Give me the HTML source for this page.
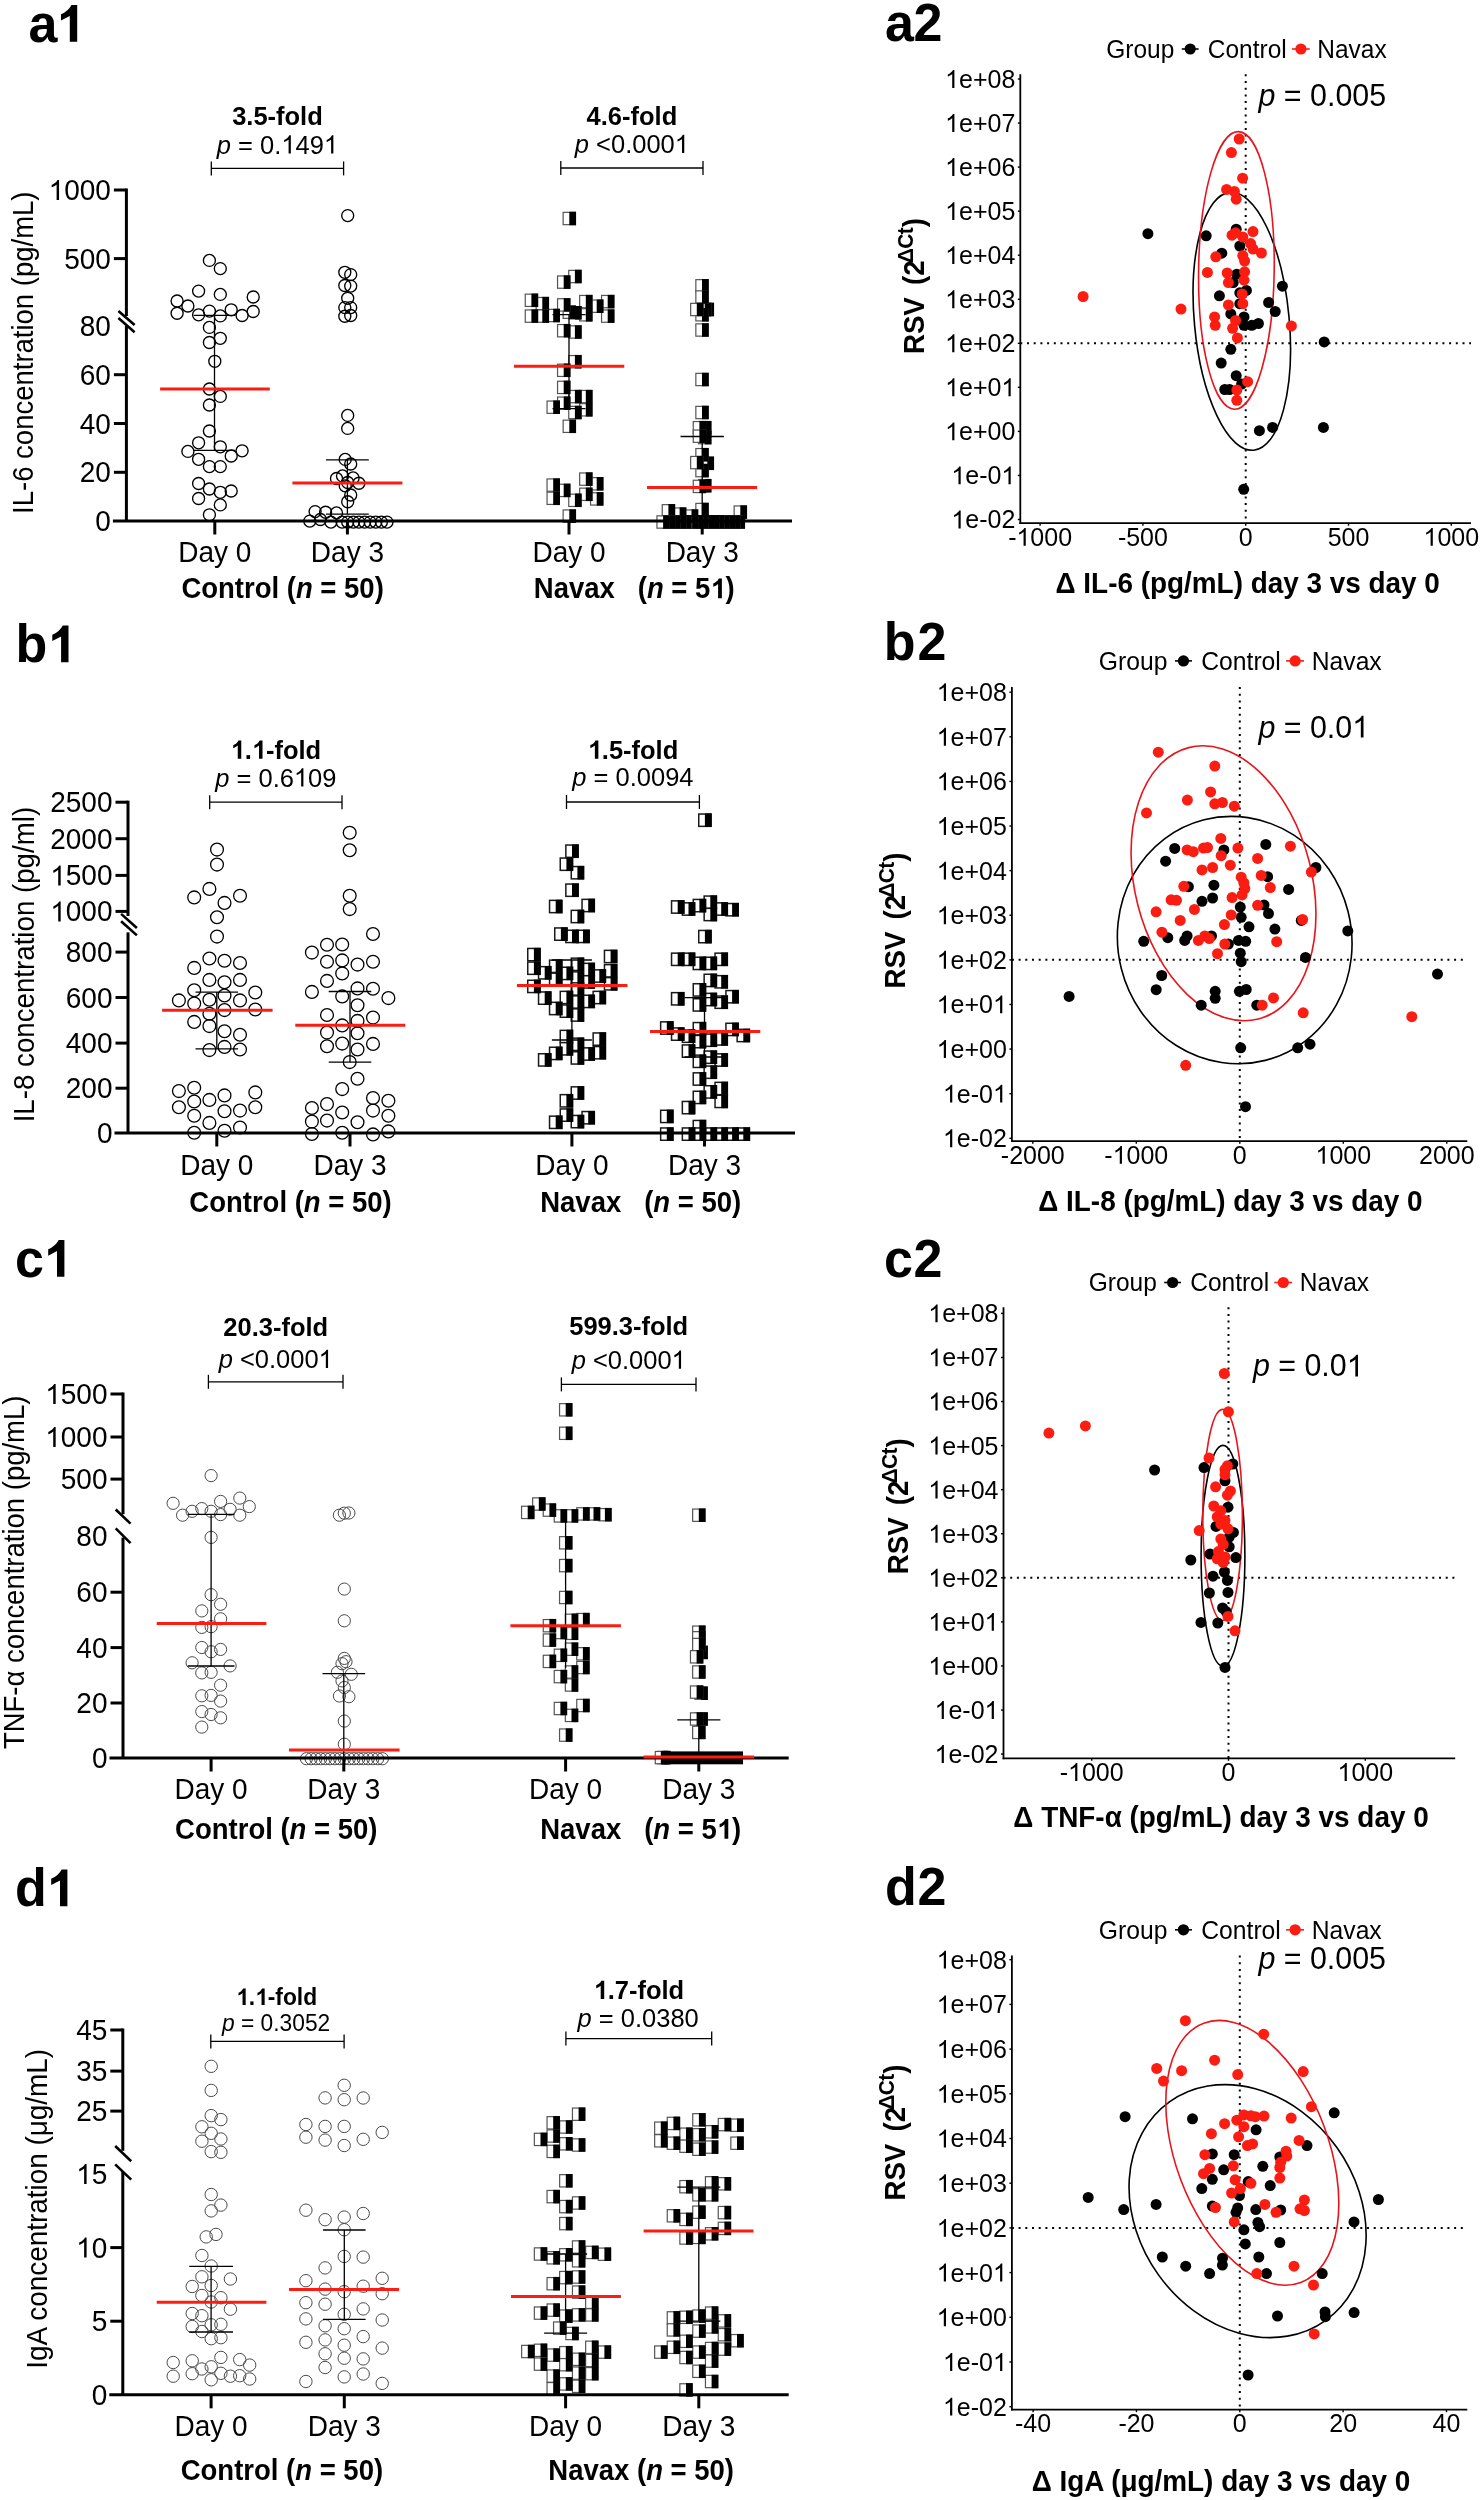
<!DOCTYPE html>
<html><head><meta charset="utf-8"><style>
html,body{margin:0;padding:0;background:#fff;}
svg{display:block;will-change:transform;}
text{font-family:"Liberation Sans", sans-serif;fill:#000;}
</style></head><body>
<svg width="1482" height="2500" viewBox="0 0 1482 2500">
<rect width="1482" height="2500" fill="#fff"/>
<g transform="translate(28.50,41.70) scale(1,1.04)"><text x="0" y="0" font-size="52" font-weight="bold" text-anchor="start"  >a</text></g>
<path d="M10.8,-36.8 H16.5 V0 H9.1 V-25.8 L0.3,-21.1 V-27.5 Q7.5,-30.5 10.8,-36.8 Z" transform="translate(60.7,41.7)" fill="#000"/>
<circle cx="209.4" cy="260.4" r="6.0" fill="none" stroke="#000" stroke-width="1.35"/>
<circle cx="220.3" cy="268.6" r="6.0" fill="none" stroke="#000" stroke-width="1.35"/>
<circle cx="198.6" cy="291.1" r="6.0" fill="none" stroke="#000" stroke-width="1.35"/>
<circle cx="220.3" cy="294.4" r="6.0" fill="none" stroke="#000" stroke-width="1.35"/>
<circle cx="253.2" cy="297.0" r="6.0" fill="none" stroke="#000" stroke-width="1.35"/>
<circle cx="177.1" cy="301.0" r="6.0" fill="none" stroke="#000" stroke-width="1.35"/>
<circle cx="187.9" cy="306.0" r="6.0" fill="none" stroke="#000" stroke-width="1.35"/>
<circle cx="177.1" cy="313.2" r="6.0" fill="none" stroke="#000" stroke-width="1.35"/>
<circle cx="198.6" cy="314.8" r="6.0" fill="none" stroke="#000" stroke-width="1.35"/>
<circle cx="209.4" cy="311.1" r="6.0" fill="none" stroke="#000" stroke-width="1.35"/>
<circle cx="220.3" cy="315.9" r="6.0" fill="none" stroke="#000" stroke-width="1.35"/>
<circle cx="231.2" cy="309.8" r="6.0" fill="none" stroke="#000" stroke-width="1.35"/>
<circle cx="242.1" cy="315.5" r="6.0" fill="none" stroke="#000" stroke-width="1.35"/>
<circle cx="253.2" cy="311.5" r="6.0" fill="none" stroke="#000" stroke-width="1.35"/>
<circle cx="209.4" cy="327.4" r="6.0" fill="none" stroke="#000" stroke-width="1.35"/>
<circle cx="220.3" cy="338.3" r="6.0" fill="none" stroke="#000" stroke-width="1.35"/>
<circle cx="209.4" cy="342.5" r="6.0" fill="none" stroke="#000" stroke-width="1.35"/>
<circle cx="214.8" cy="361.3" r="6.0" fill="none" stroke="#000" stroke-width="1.35"/>
<circle cx="209.4" cy="389.0" r="6.0" fill="none" stroke="#000" stroke-width="1.35"/>
<circle cx="220.3" cy="396.4" r="6.0" fill="none" stroke="#000" stroke-width="1.35"/>
<circle cx="209.4" cy="405.0" r="6.0" fill="none" stroke="#000" stroke-width="1.35"/>
<circle cx="209.4" cy="431.0" r="6.0" fill="none" stroke="#000" stroke-width="1.35"/>
<circle cx="198.6" cy="442.8" r="6.0" fill="none" stroke="#000" stroke-width="1.35"/>
<circle cx="187.9" cy="451.4" r="6.0" fill="none" stroke="#000" stroke-width="1.35"/>
<circle cx="220.3" cy="446.8" r="6.0" fill="none" stroke="#000" stroke-width="1.35"/>
<circle cx="242.1" cy="450.8" r="6.0" fill="none" stroke="#000" stroke-width="1.35"/>
<circle cx="198.6" cy="459.3" r="6.0" fill="none" stroke="#000" stroke-width="1.35"/>
<circle cx="231.2" cy="456.0" r="6.0" fill="none" stroke="#000" stroke-width="1.35"/>
<circle cx="209.4" cy="466.6" r="6.0" fill="none" stroke="#000" stroke-width="1.35"/>
<circle cx="220.3" cy="466.6" r="6.0" fill="none" stroke="#000" stroke-width="1.35"/>
<circle cx="198.6" cy="483.5" r="6.0" fill="none" stroke="#000" stroke-width="1.35"/>
<circle cx="209.4" cy="489.0" r="6.0" fill="none" stroke="#000" stroke-width="1.35"/>
<circle cx="220.3" cy="492.3" r="6.0" fill="none" stroke="#000" stroke-width="1.35"/>
<circle cx="231.2" cy="491.0" r="6.0" fill="none" stroke="#000" stroke-width="1.35"/>
<circle cx="198.6" cy="498.5" r="6.0" fill="none" stroke="#000" stroke-width="1.35"/>
<circle cx="220.3" cy="504.9" r="6.0" fill="none" stroke="#000" stroke-width="1.35"/>
<circle cx="209.4" cy="514.8" r="6.0" fill="none" stroke="#000" stroke-width="1.35"/>
<circle cx="347.7" cy="215.6" r="6.0" fill="none" stroke="#000" stroke-width="1.35"/>
<circle cx="344.8" cy="272.3" r="6.0" fill="none" stroke="#000" stroke-width="1.35"/>
<circle cx="350.7" cy="274.6" r="6.0" fill="none" stroke="#000" stroke-width="1.35"/>
<circle cx="344.8" cy="285.5" r="6.0" fill="none" stroke="#000" stroke-width="1.35"/>
<circle cx="350.7" cy="286.1" r="6.0" fill="none" stroke="#000" stroke-width="1.35"/>
<circle cx="347.7" cy="298.3" r="6.0" fill="none" stroke="#000" stroke-width="1.35"/>
<circle cx="344.8" cy="307.6" r="6.0" fill="none" stroke="#000" stroke-width="1.35"/>
<circle cx="350.7" cy="307.6" r="6.0" fill="none" stroke="#000" stroke-width="1.35"/>
<circle cx="344.8" cy="316.2" r="6.0" fill="none" stroke="#000" stroke-width="1.35"/>
<circle cx="350.7" cy="315.5" r="6.0" fill="none" stroke="#000" stroke-width="1.35"/>
<circle cx="347.7" cy="415.4" r="6.0" fill="none" stroke="#000" stroke-width="1.35"/>
<circle cx="347.7" cy="428.4" r="6.0" fill="none" stroke="#000" stroke-width="1.35"/>
<circle cx="345.2" cy="459.4" r="6.0" fill="none" stroke="#000" stroke-width="1.35"/>
<circle cx="350.7" cy="464.0" r="6.0" fill="none" stroke="#000" stroke-width="1.35"/>
<circle cx="342.5" cy="475.9" r="6.0" fill="none" stroke="#000" stroke-width="1.35"/>
<circle cx="336.5" cy="478.5" r="6.0" fill="none" stroke="#000" stroke-width="1.35"/>
<circle cx="353.1" cy="477.9" r="6.0" fill="none" stroke="#000" stroke-width="1.35"/>
<circle cx="358.9" cy="483.2" r="6.0" fill="none" stroke="#000" stroke-width="1.35"/>
<circle cx="347.7" cy="482.5" r="6.0" fill="none" stroke="#000" stroke-width="1.35"/>
<circle cx="345.2" cy="485.8" r="6.0" fill="none" stroke="#000" stroke-width="1.35"/>
<circle cx="350.7" cy="495.0" r="6.0" fill="none" stroke="#000" stroke-width="1.35"/>
<circle cx="347.7" cy="501.7" r="6.0" fill="none" stroke="#000" stroke-width="1.35"/>
<circle cx="315.1" cy="511.6" r="6.0" fill="none" stroke="#000" stroke-width="1.35"/>
<circle cx="325.6" cy="512.2" r="6.0" fill="none" stroke="#000" stroke-width="1.35"/>
<circle cx="336.5" cy="512.9" r="6.0" fill="none" stroke="#000" stroke-width="1.35"/>
<circle cx="309.8" cy="521.1" r="6.0" fill="none" stroke="#000" stroke-width="1.35"/>
<circle cx="320.4" cy="519.5" r="6.0" fill="none" stroke="#000" stroke-width="1.35"/>
<circle cx="330.9" cy="522.1" r="6.0" fill="none" stroke="#000" stroke-width="1.35"/>
<circle cx="342.1" cy="522.1" r="6.0" fill="none" stroke="#000" stroke-width="1.35"/>
<circle cx="347.7" cy="522.1" r="6.0" fill="none" stroke="#000" stroke-width="1.35"/>
<circle cx="353.4" cy="522.1" r="6.0" fill="none" stroke="#000" stroke-width="1.35"/>
<circle cx="358.9" cy="522.1" r="6.0" fill="none" stroke="#000" stroke-width="1.35"/>
<circle cx="364.6" cy="522.1" r="6.0" fill="none" stroke="#000" stroke-width="1.35"/>
<circle cx="370.1" cy="522.1" r="6.0" fill="none" stroke="#000" stroke-width="1.35"/>
<circle cx="375.8" cy="522.1" r="6.0" fill="none" stroke="#000" stroke-width="1.35"/>
<circle cx="381.4" cy="522.1" r="6.0" fill="none" stroke="#000" stroke-width="1.35"/>
<circle cx="387.0" cy="522.1" r="6.0" fill="none" stroke="#000" stroke-width="1.35"/>
<g transform="translate(607.7,301.6)"><rect x="-6.15" y="-6.15" width="12.3" height="12.3" fill="#fff" stroke="#555" stroke-width="1.2"/><rect x="0" y="-6.75" width="6.75" height="13.5" fill="#000"/></g>
<g transform="translate(607.7,316.1)"><rect x="-6.15" y="-6.15" width="12.3" height="12.3" fill="#fff" stroke="#555" stroke-width="1.2"/><rect x="0" y="-6.75" width="6.75" height="13.5" fill="#000"/></g>
<g transform="translate(596.7,306.2)"><rect x="-6.15" y="-6.15" width="12.3" height="12.3" fill="#fff" stroke="#555" stroke-width="1.2"/><rect x="0" y="-6.75" width="6.75" height="13.5" fill="#000"/></g>
<g transform="translate(596.7,483.8)"><rect x="-6.15" y="-6.15" width="12.3" height="12.3" fill="#fff" stroke="#555" stroke-width="1.2"/><rect x="0" y="-6.75" width="6.75" height="13.5" fill="#000"/></g>
<g transform="translate(596.7,498.9)"><rect x="-6.15" y="-6.15" width="12.3" height="12.3" fill="#fff" stroke="#555" stroke-width="1.2"/><rect x="0" y="-6.75" width="6.75" height="13.5" fill="#000"/></g>
<g transform="translate(585.8,301.6)"><rect x="-6.15" y="-6.15" width="12.3" height="12.3" fill="#fff" stroke="#555" stroke-width="1.2"/><rect x="0" y="-6.75" width="6.75" height="13.5" fill="#000"/></g>
<g transform="translate(585.8,314.8)"><rect x="-6.15" y="-6.15" width="12.3" height="12.3" fill="#fff" stroke="#555" stroke-width="1.2"/><rect x="0" y="-6.75" width="6.75" height="13.5" fill="#000"/></g>
<g transform="translate(585.8,396.6)"><rect x="-6.15" y="-6.15" width="12.3" height="12.3" fill="#fff" stroke="#555" stroke-width="1.2"/><rect x="0" y="-6.75" width="6.75" height="13.5" fill="#000"/></g>
<g transform="translate(585.8,409.8)"><rect x="-6.15" y="-6.15" width="12.3" height="12.3" fill="#fff" stroke="#555" stroke-width="1.2"/><rect x="0" y="-6.75" width="6.75" height="13.5" fill="#000"/></g>
<g transform="translate(585.8,479.1)"><rect x="-6.15" y="-6.15" width="12.3" height="12.3" fill="#fff" stroke="#555" stroke-width="1.2"/><rect x="0" y="-6.75" width="6.75" height="13.5" fill="#000"/></g>
<g transform="translate(585.8,494.3)"><rect x="-6.15" y="-6.15" width="12.3" height="12.3" fill="#fff" stroke="#555" stroke-width="1.2"/><rect x="0" y="-6.75" width="6.75" height="13.5" fill="#000"/></g>
<g transform="translate(574.9,276.5)"><rect x="-6.15" y="-6.15" width="12.3" height="12.3" fill="#fff" stroke="#555" stroke-width="1.2"/><rect x="0" y="-6.75" width="6.75" height="13.5" fill="#000"/></g>
<g transform="translate(574.9,312.8)"><rect x="-6.15" y="-6.15" width="12.3" height="12.3" fill="#fff" stroke="#555" stroke-width="1.2"/><rect x="0" y="-6.75" width="6.75" height="13.5" fill="#000"/></g>
<g transform="translate(574.9,332.0)"><rect x="-6.15" y="-6.15" width="12.3" height="12.3" fill="#fff" stroke="#555" stroke-width="1.2"/><rect x="0" y="-6.75" width="6.75" height="13.5" fill="#000"/></g>
<g transform="translate(574.9,361.7)"><rect x="-6.15" y="-6.15" width="12.3" height="12.3" fill="#fff" stroke="#555" stroke-width="1.2"/><rect x="0" y="-6.75" width="6.75" height="13.5" fill="#000"/></g>
<g transform="translate(574.9,396.6)"><rect x="-6.15" y="-6.15" width="12.3" height="12.3" fill="#fff" stroke="#555" stroke-width="1.2"/><rect x="0" y="-6.75" width="6.75" height="13.5" fill="#000"/></g>
<g transform="translate(574.9,412.5)"><rect x="-6.15" y="-6.15" width="12.3" height="12.3" fill="#fff" stroke="#555" stroke-width="1.2"/><rect x="0" y="-6.75" width="6.75" height="13.5" fill="#000"/></g>
<g transform="translate(574.9,500.3)"><rect x="-6.15" y="-6.15" width="12.3" height="12.3" fill="#fff" stroke="#555" stroke-width="1.2"/><rect x="0" y="-6.75" width="6.75" height="13.5" fill="#000"/></g>
<g transform="translate(569.3,218.5)"><rect x="-6.15" y="-6.15" width="12.3" height="12.3" fill="#fff" stroke="#555" stroke-width="1.2"/><rect x="0" y="-6.75" width="6.75" height="13.5" fill="#000"/></g>
<g transform="translate(569.3,312.2)"><rect x="-6.15" y="-6.15" width="12.3" height="12.3" fill="#fff" stroke="#555" stroke-width="1.2"/><rect x="0" y="-6.75" width="6.75" height="13.5" fill="#000"/></g>
<g transform="translate(569.3,426.3)"><rect x="-6.15" y="-6.15" width="12.3" height="12.3" fill="#fff" stroke="#555" stroke-width="1.2"/><rect x="0" y="-6.75" width="6.75" height="13.5" fill="#000"/></g>
<g transform="translate(569.3,516.1)"><rect x="-6.15" y="-6.15" width="12.3" height="12.3" fill="#fff" stroke="#555" stroke-width="1.2"/><rect x="0" y="-6.75" width="6.75" height="13.5" fill="#000"/></g>
<g transform="translate(563.7,282.1)"><rect x="-6.15" y="-6.15" width="12.3" height="12.3" fill="#fff" stroke="#555" stroke-width="1.2"/><rect x="0" y="-6.75" width="6.75" height="13.5" fill="#000"/></g>
<g transform="translate(563.7,304.9)"><rect x="-6.15" y="-6.15" width="12.3" height="12.3" fill="#fff" stroke="#555" stroke-width="1.2"/><rect x="0" y="-6.75" width="6.75" height="13.5" fill="#000"/></g>
<g transform="translate(563.7,330.7)"><rect x="-6.15" y="-6.15" width="12.3" height="12.3" fill="#fff" stroke="#555" stroke-width="1.2"/><rect x="0" y="-6.75" width="6.75" height="13.5" fill="#000"/></g>
<g transform="translate(563.7,370.3)"><rect x="-6.15" y="-6.15" width="12.3" height="12.3" fill="#fff" stroke="#555" stroke-width="1.2"/><rect x="0" y="-6.75" width="6.75" height="13.5" fill="#000"/></g>
<g transform="translate(563.7,387.4)"><rect x="-6.15" y="-6.15" width="12.3" height="12.3" fill="#fff" stroke="#555" stroke-width="1.2"/><rect x="0" y="-6.75" width="6.75" height="13.5" fill="#000"/></g>
<g transform="translate(563.7,403.2)"><rect x="-6.15" y="-6.15" width="12.3" height="12.3" fill="#fff" stroke="#555" stroke-width="1.2"/><rect x="0" y="-6.75" width="6.75" height="13.5" fill="#000"/></g>
<g transform="translate(563.7,490.4)"><rect x="-6.15" y="-6.15" width="12.3" height="12.3" fill="#fff" stroke="#555" stroke-width="1.2"/><rect x="0" y="-6.75" width="6.75" height="13.5" fill="#000"/></g>
<g transform="translate(553.2,315.5)"><rect x="-6.15" y="-6.15" width="12.3" height="12.3" fill="#fff" stroke="#555" stroke-width="1.2"/><rect x="0" y="-6.75" width="6.75" height="13.5" fill="#000"/></g>
<g transform="translate(553.2,407.2)"><rect x="-6.15" y="-6.15" width="12.3" height="12.3" fill="#fff" stroke="#555" stroke-width="1.2"/><rect x="0" y="-6.75" width="6.75" height="13.5" fill="#000"/></g>
<g transform="translate(553.2,485.1)"><rect x="-6.15" y="-6.15" width="12.3" height="12.3" fill="#fff" stroke="#555" stroke-width="1.2"/><rect x="0" y="-6.75" width="6.75" height="13.5" fill="#000"/></g>
<g transform="translate(553.2,498.3)"><rect x="-6.15" y="-6.15" width="12.3" height="12.3" fill="#fff" stroke="#555" stroke-width="1.2"/><rect x="0" y="-6.75" width="6.75" height="13.5" fill="#000"/></g>
<g transform="translate(542.3,303.6)"><rect x="-6.15" y="-6.15" width="12.3" height="12.3" fill="#fff" stroke="#555" stroke-width="1.2"/><rect x="0" y="-6.75" width="6.75" height="13.5" fill="#000"/></g>
<g transform="translate(542.3,316.1)"><rect x="-6.15" y="-6.15" width="12.3" height="12.3" fill="#fff" stroke="#555" stroke-width="1.2"/><rect x="0" y="-6.75" width="6.75" height="13.5" fill="#000"/></g>
<g transform="translate(531.4,300.3)"><rect x="-6.15" y="-6.15" width="12.3" height="12.3" fill="#fff" stroke="#555" stroke-width="1.2"/><rect x="0" y="-6.75" width="6.75" height="13.5" fill="#000"/></g>
<g transform="translate(531.4,316.1)"><rect x="-6.15" y="-6.15" width="12.3" height="12.3" fill="#fff" stroke="#555" stroke-width="1.2"/><rect x="0" y="-6.75" width="6.75" height="13.5" fill="#000"/></g>
<g transform="translate(740.3,512.1)"><rect x="-6.15" y="-6.15" width="12.3" height="12.3" fill="#fff" stroke="#555" stroke-width="1.2"/><rect x="0" y="-6.75" width="6.75" height="13.5" fill="#000"/></g>
<g transform="translate(738.3,522.0)"><rect x="-6.15" y="-6.15" width="12.3" height="12.3" fill="#fff" stroke="#555" stroke-width="1.2"/><rect x="0" y="-6.75" width="6.75" height="13.5" fill="#000"/></g>
<g transform="translate(733.7,522.0)"><rect x="-6.15" y="-6.15" width="12.3" height="12.3" fill="#fff" stroke="#555" stroke-width="1.2"/><rect x="0" y="-6.75" width="6.75" height="13.5" fill="#000"/></g>
<g transform="translate(728.4,522.0)"><rect x="-6.15" y="-6.15" width="12.3" height="12.3" fill="#fff" stroke="#555" stroke-width="1.2"/><rect x="0" y="-6.75" width="6.75" height="13.5" fill="#000"/></g>
<g transform="translate(723.1,522.0)"><rect x="-6.15" y="-6.15" width="12.3" height="12.3" fill="#fff" stroke="#555" stroke-width="1.2"/><rect x="0" y="-6.75" width="6.75" height="13.5" fill="#000"/></g>
<g transform="translate(717.9,522.0)"><rect x="-6.15" y="-6.15" width="12.3" height="12.3" fill="#fff" stroke="#555" stroke-width="1.2"/><rect x="0" y="-6.75" width="6.75" height="13.5" fill="#000"/></g>
<g transform="translate(712.6,522.0)"><rect x="-6.15" y="-6.15" width="12.3" height="12.3" fill="#fff" stroke="#555" stroke-width="1.2"/><rect x="0" y="-6.75" width="6.75" height="13.5" fill="#000"/></g>
<g transform="translate(707.3,309.5)"><rect x="-6.15" y="-6.15" width="12.3" height="12.3" fill="#fff" stroke="#555" stroke-width="1.2"/><rect x="0" y="-6.75" width="6.75" height="13.5" fill="#000"/></g>
<g transform="translate(707.3,463.3)"><rect x="-6.15" y="-6.15" width="12.3" height="12.3" fill="#fff" stroke="#555" stroke-width="1.2"/><rect x="0" y="-6.75" width="6.75" height="13.5" fill="#000"/></g>
<g transform="translate(707.3,522.0)"><rect x="-6.15" y="-6.15" width="12.3" height="12.3" fill="#fff" stroke="#555" stroke-width="1.2"/><rect x="0" y="-6.75" width="6.75" height="13.5" fill="#000"/></g>
<g transform="translate(704.7,309.5)"><rect x="-6.15" y="-6.15" width="12.3" height="12.3" fill="#fff" stroke="#555" stroke-width="1.2"/><rect x="0" y="-6.75" width="6.75" height="13.5" fill="#000"/></g>
<g transform="translate(704.7,427.7)"><rect x="-6.15" y="-6.15" width="12.3" height="12.3" fill="#fff" stroke="#555" stroke-width="1.2"/><rect x="0" y="-6.75" width="6.75" height="13.5" fill="#000"/></g>
<g transform="translate(704.7,437.6)"><rect x="-6.15" y="-6.15" width="12.3" height="12.3" fill="#fff" stroke="#555" stroke-width="1.2"/><rect x="0" y="-6.75" width="6.75" height="13.5" fill="#000"/></g>
<g transform="translate(704.7,485.7)"><rect x="-6.15" y="-6.15" width="12.3" height="12.3" fill="#fff" stroke="#555" stroke-width="1.2"/><rect x="0" y="-6.75" width="6.75" height="13.5" fill="#000"/></g>
<g transform="translate(702.0,285.8)"><rect x="-6.15" y="-6.15" width="12.3" height="12.3" fill="#fff" stroke="#555" stroke-width="1.2"/><rect x="0" y="-6.75" width="6.75" height="13.5" fill="#000"/></g>
<g transform="translate(702.0,297.0)"><rect x="-6.15" y="-6.15" width="12.3" height="12.3" fill="#fff" stroke="#555" stroke-width="1.2"/><rect x="0" y="-6.75" width="6.75" height="13.5" fill="#000"/></g>
<g transform="translate(702.0,314.8)"><rect x="-6.15" y="-6.15" width="12.3" height="12.3" fill="#fff" stroke="#555" stroke-width="1.2"/><rect x="0" y="-6.75" width="6.75" height="13.5" fill="#000"/></g>
<g transform="translate(702.0,330.0)"><rect x="-6.15" y="-6.15" width="12.3" height="12.3" fill="#fff" stroke="#555" stroke-width="1.2"/><rect x="0" y="-6.75" width="6.75" height="13.5" fill="#000"/></g>
<g transform="translate(702.0,379.5)"><rect x="-6.15" y="-6.15" width="12.3" height="12.3" fill="#fff" stroke="#555" stroke-width="1.2"/><rect x="0" y="-6.75" width="6.75" height="13.5" fill="#000"/></g>
<g transform="translate(702.0,412.5)"><rect x="-6.15" y="-6.15" width="12.3" height="12.3" fill="#fff" stroke="#555" stroke-width="1.2"/><rect x="0" y="-6.75" width="6.75" height="13.5" fill="#000"/></g>
<g transform="translate(702.0,454.7)"><rect x="-6.15" y="-6.15" width="12.3" height="12.3" fill="#fff" stroke="#555" stroke-width="1.2"/><rect x="0" y="-6.75" width="6.75" height="13.5" fill="#000"/></g>
<g transform="translate(702.0,470.6)"><rect x="-6.15" y="-6.15" width="12.3" height="12.3" fill="#fff" stroke="#555" stroke-width="1.2"/><rect x="0" y="-6.75" width="6.75" height="13.5" fill="#000"/></g>
<g transform="translate(702.0,509.5)"><rect x="-6.15" y="-6.15" width="12.3" height="12.3" fill="#fff" stroke="#555" stroke-width="1.2"/><rect x="0" y="-6.75" width="6.75" height="13.5" fill="#000"/></g>
<g transform="translate(702.0,522.0)"><rect x="-6.15" y="-6.15" width="12.3" height="12.3" fill="#fff" stroke="#555" stroke-width="1.2"/><rect x="0" y="-6.75" width="6.75" height="13.5" fill="#000"/></g>
<g transform="translate(699.4,427.7)"><rect x="-6.15" y="-6.15" width="12.3" height="12.3" fill="#fff" stroke="#555" stroke-width="1.2"/><rect x="0" y="-6.75" width="6.75" height="13.5" fill="#000"/></g>
<g transform="translate(699.4,436.2)"><rect x="-6.15" y="-6.15" width="12.3" height="12.3" fill="#fff" stroke="#555" stroke-width="1.2"/><rect x="0" y="-6.75" width="6.75" height="13.5" fill="#000"/></g>
<g transform="translate(699.4,486.4)"><rect x="-6.15" y="-6.15" width="12.3" height="12.3" fill="#fff" stroke="#555" stroke-width="1.2"/><rect x="0" y="-6.75" width="6.75" height="13.5" fill="#000"/></g>
<g transform="translate(696.8,309.5)"><rect x="-6.15" y="-6.15" width="12.3" height="12.3" fill="#fff" stroke="#555" stroke-width="1.2"/><rect x="0" y="-6.75" width="6.75" height="13.5" fill="#000"/></g>
<g transform="translate(696.8,462.6)"><rect x="-6.15" y="-6.15" width="12.3" height="12.3" fill="#fff" stroke="#555" stroke-width="1.2"/><rect x="0" y="-6.75" width="6.75" height="13.5" fill="#000"/></g>
<g transform="translate(696.8,522.0)"><rect x="-6.15" y="-6.15" width="12.3" height="12.3" fill="#fff" stroke="#555" stroke-width="1.2"/><rect x="0" y="-6.75" width="6.75" height="13.5" fill="#000"/></g>
<g transform="translate(692.1,522.0)"><rect x="-6.15" y="-6.15" width="12.3" height="12.3" fill="#fff" stroke="#555" stroke-width="1.2"/><rect x="0" y="-6.75" width="6.75" height="13.5" fill="#000"/></g>
<g transform="translate(691.5,516.1)"><rect x="-6.15" y="-6.15" width="12.3" height="12.3" fill="#fff" stroke="#555" stroke-width="1.2"/><rect x="0" y="-6.75" width="6.75" height="13.5" fill="#000"/></g>
<g transform="translate(684.9,522.0)"><rect x="-6.15" y="-6.15" width="12.3" height="12.3" fill="#fff" stroke="#555" stroke-width="1.2"/><rect x="0" y="-6.75" width="6.75" height="13.5" fill="#000"/></g>
<g transform="translate(679.6,514.1)"><rect x="-6.15" y="-6.15" width="12.3" height="12.3" fill="#fff" stroke="#555" stroke-width="1.2"/><rect x="0" y="-6.75" width="6.75" height="13.5" fill="#000"/></g>
<g transform="translate(679.6,522.0)"><rect x="-6.15" y="-6.15" width="12.3" height="12.3" fill="#fff" stroke="#555" stroke-width="1.2"/><rect x="0" y="-6.75" width="6.75" height="13.5" fill="#000"/></g>
<g transform="translate(673.7,522.0)"><rect x="-6.15" y="-6.15" width="12.3" height="12.3" fill="#fff" stroke="#555" stroke-width="1.2"/><rect x="0" y="-6.75" width="6.75" height="13.5" fill="#000"/></g>
<g transform="translate(668.4,510.8)"><rect x="-6.15" y="-6.15" width="12.3" height="12.3" fill="#fff" stroke="#555" stroke-width="1.2"/><rect x="0" y="-6.75" width="6.75" height="13.5" fill="#000"/></g>
<g transform="translate(668.4,522.0)"><rect x="-6.15" y="-6.15" width="12.3" height="12.3" fill="#fff" stroke="#555" stroke-width="1.2"/><rect x="0" y="-6.75" width="6.75" height="13.5" fill="#000"/></g>
<g transform="translate(663.1,522.0)"><rect x="-6.15" y="-6.15" width="12.3" height="12.3" fill="#fff" stroke="#555" stroke-width="1.2"/><rect x="0" y="-6.75" width="6.75" height="13.5" fill="#000"/></g>
<line x1="126.40" y1="188.50" x2="126.40" y2="316.00" stroke="#000" stroke-width="3.0" />
<line x1="126.40" y1="326.00" x2="126.40" y2="521.00" stroke="#000" stroke-width="3.0" />
<line x1="118.40" y1="310.90" x2="134.60" y2="325.10" stroke="#000" stroke-width="2.6" />
<line x1="118.40" y1="318.00" x2="134.60" y2="332.20" stroke="#000" stroke-width="2.6" />
<line x1="113.90" y1="190.00" x2="126.40" y2="190.00" stroke="#000" stroke-width="3.0" />
<g transform="translate(110.90,200.02) scale(1,1.04)"><text x="0" y="0" font-size="28" font-weight="normal" text-anchor="end"  > 000</text><path d="M763,0 L583,0 L583,1097.6 Q518,1038.3 465,1008.6 Q412,978.9 359,949.3 Q306,919.6 222,889.9 L222,1056.4 Q373,1124.3 429.5,1172.6 Q486,1220.9 542.5,1269.2 Q599,1317.6 646,1409 L763,1409 Z" transform="translate(-62.26,0.00) scale(0.01367,-0.01367)" fill="#000"/></g>
<line x1="113.90" y1="258.60" x2="126.40" y2="258.60" stroke="#000" stroke-width="3.0" />
<g transform="translate(110.90,268.62) scale(1,1.04)"><text x="0" y="0" font-size="28" font-weight="normal" text-anchor="end"  >500</text></g>
<g transform="translate(110.90,336.02) scale(1,1.04)"><text x="0" y="0" font-size="28" font-weight="normal" text-anchor="end"  >80</text></g>
<line x1="113.90" y1="374.70" x2="126.40" y2="374.70" stroke="#000" stroke-width="3.0" />
<g transform="translate(110.90,384.72) scale(1,1.04)"><text x="0" y="0" font-size="28" font-weight="normal" text-anchor="end"  >60</text></g>
<line x1="113.90" y1="423.50" x2="126.40" y2="423.50" stroke="#000" stroke-width="3.0" />
<g transform="translate(110.90,433.52) scale(1,1.04)"><text x="0" y="0" font-size="28" font-weight="normal" text-anchor="end"  >40</text></g>
<line x1="113.90" y1="472.30" x2="126.40" y2="472.30" stroke="#000" stroke-width="3.0" />
<g transform="translate(110.90,482.32) scale(1,1.04)"><text x="0" y="0" font-size="28" font-weight="normal" text-anchor="end"  >20</text></g>
<g transform="translate(110.90,531.02) scale(1,1.04)"><text x="0" y="0" font-size="28" font-weight="normal" text-anchor="end"  >0</text></g>
<line x1="112.90" y1="521.00" x2="792.00" y2="521.00" stroke="#000" stroke-width="3.0" />
<line x1="214.80" y1="521.00" x2="214.80" y2="534.50" stroke="#000" stroke-width="3.0" />
<line x1="347.40" y1="521.00" x2="347.40" y2="534.50" stroke="#000" stroke-width="3.0" />
<line x1="569.00" y1="521.00" x2="569.00" y2="534.50" stroke="#000" stroke-width="3.0" />
<line x1="702.20" y1="521.00" x2="702.20" y2="534.50" stroke="#000" stroke-width="3.0" />
<g transform="translate(214.80,561.70) scale(1,1.04)"><text x="0" y="0" font-size="28" font-weight="normal" text-anchor="middle"  >Day 0</text></g>
<g transform="translate(347.40,561.70) scale(1,1.04)"><text x="0" y="0" font-size="28" font-weight="normal" text-anchor="middle"  >Day 3</text></g>
<g transform="translate(569.00,561.70) scale(1,1.04)"><text x="0" y="0" font-size="28" font-weight="normal" text-anchor="middle"  >Day 0</text></g>
<g transform="translate(702.20,561.70) scale(1,1.04)"><text x="0" y="0" font-size="28" font-weight="normal" text-anchor="middle"  >Day 3</text></g>
<g transform="translate(282.60,598.20) scale(1,1.04)"><text x="0" y="0" font-size="27.5" font-weight="bold" text-anchor="middle"  >Control (<tspan font-style="italic">n</tspan> = 50)</text></g>
<g transform="translate(634.30,598.20) scale(1,1.04)"><text x="0" y="0" font-size="27.5" font-weight="bold" text-anchor="middle"  >Navax&#160;&#160;&#160;(<tspan font-style="italic">n</tspan> = 5 )</text><path d="M861,0 L580,0 L580,1017.8 Q426,879.4 217,813.1 L217,1058.2 Q327,1092.8 456,1188.9 Q585,1285 633,1409 L861,1409 Z" transform="translate(76.01,0.00) scale(0.01343,-0.01343)" fill="#000"/></g>
<text x="0" y="0" font-size="27.5" text-anchor="middle" transform="translate(33.4,352.7) rotate(-90) scale(1,1.04)">IL-6 concentration (pg/mL)</text>
<line x1="211.30" y1="168.40" x2="343.60" y2="168.40" stroke="#000" stroke-width="1.3" />
<line x1="211.30" y1="161.40" x2="211.30" y2="175.40" stroke="#000" stroke-width="1.3" />
<line x1="343.60" y1="161.40" x2="343.60" y2="175.40" stroke="#000" stroke-width="1.3" />
<g transform="translate(277.45,124.90) scale(1,1.04)"><text x="0" y="0" font-size="25.5" font-weight="bold" text-anchor="middle"  >3.5-fold</text></g>
<g transform="translate(277.45,153.60) scale(1,1.04)"><text x="0" y="0" font-size="25.5" font-weight="normal" text-anchor="middle"  ><tspan font-style="italic">p</tspan> = 0. 49 </text><path d="M763,0 L583,0 L583,1097.6 Q518,1038.3 465,1008.6 Q412,978.9 359,949.3 Q306,919.6 222,889.9 L222,1056.4 Q373,1124.3 429.5,1172.6 Q486,1220.9 542.5,1269.2 Q599,1317.6 646,1409 L763,1409 Z" transform="translate(3.89,0.00) scale(0.01245,-0.01245)" fill="#000"/><path d="M763,0 L583,0 L583,1097.6 Q518,1038.3 465,1008.6 Q412,978.9 359,949.3 Q306,919.6 222,889.9 L222,1056.4 Q373,1124.3 429.5,1172.6 Q486,1220.9 542.5,1269.2 Q599,1317.6 646,1409 L763,1409 Z" transform="translate(46.41,0.00) scale(0.01245,-0.01245)" fill="#000"/></g>
<line x1="560.80" y1="168.00" x2="703.00" y2="168.00" stroke="#000" stroke-width="1.3" />
<line x1="560.80" y1="161.00" x2="560.80" y2="175.00" stroke="#000" stroke-width="1.3" />
<line x1="703.00" y1="161.00" x2="703.00" y2="175.00" stroke="#000" stroke-width="1.3" />
<g transform="translate(631.90,124.70) scale(1,1.04)"><text x="0" y="0" font-size="25.5" font-weight="bold" text-anchor="middle"  >4.6-fold</text></g>
<g transform="translate(631.90,153.10) scale(1,1.04)"><text x="0" y="0" font-size="25.5" font-weight="normal" text-anchor="middle"  ><tspan font-style="italic">p</tspan> &lt;0.000 </text><path d="M763,0 L583,0 L583,1097.6 Q518,1038.3 465,1008.6 Q412,978.9 359,949.3 Q306,919.6 222,889.9 L222,1056.4 Q373,1124.3 429.5,1172.6 Q486,1220.9 542.5,1269.2 Q599,1317.6 646,1409 L763,1409 Z" transform="translate(42.87,0.00) scale(0.01245,-0.01245)" fill="#000"/></g>
<line x1="214.50" y1="315.30" x2="214.50" y2="450.40" stroke="#000" stroke-width="1.3" />
<line x1="193.65" y1="315.30" x2="235.35" y2="315.30" stroke="#000" stroke-width="1.3" />
<line x1="193.65" y1="450.40" x2="235.35" y2="450.40" stroke="#000" stroke-width="1.3" />
<line x1="347.40" y1="459.80" x2="347.40" y2="514.20" stroke="#000" stroke-width="1.3" />
<line x1="326.00" y1="459.80" x2="368.80" y2="459.80" stroke="#000" stroke-width="1.3" />
<line x1="326.00" y1="514.20" x2="368.80" y2="514.20" stroke="#000" stroke-width="1.3" />
<line x1="569.00" y1="314.60" x2="569.00" y2="408.70" stroke="#000" stroke-width="1.3" />
<line x1="552.50" y1="314.60" x2="585.50" y2="314.60" stroke="#000" stroke-width="1.3" />
<line x1="552.50" y1="408.70" x2="585.50" y2="408.70" stroke="#000" stroke-width="1.3" />
<line x1="702.20" y1="436.50" x2="702.20" y2="516.00" stroke="#000" stroke-width="1.3" />
<line x1="680.55" y1="436.50" x2="723.85" y2="436.50" stroke="#000" stroke-width="1.3" />
<line x1="680.55" y1="516.00" x2="723.85" y2="516.00" stroke="#000" stroke-width="1.3" />
<line x1="160.10" y1="389.00" x2="269.80" y2="389.00" stroke="#fb1c12" stroke-width="3.0" />
<line x1="292.40" y1="483.00" x2="402.40" y2="483.00" stroke="#fb1c12" stroke-width="3.0" />
<line x1="514.00" y1="366.20" x2="624.30" y2="366.20" stroke="#fb1c12" stroke-width="3.0" />
<line x1="647.00" y1="487.50" x2="757.00" y2="487.50" stroke="#fb1c12" stroke-width="3.0" />
<g transform="translate(15.60,662.20) scale(1,1.04)"><text x="0" y="0" font-size="52" font-weight="bold" text-anchor="start"  >b</text></g>
<path d="M10.8,-36.8 H16.5 V0 H9.1 V-25.8 L0.3,-21.1 V-27.5 Q7.5,-30.5 10.8,-36.8 Z" transform="translate(52.0,662.2)" fill="#000"/>
<circle cx="217.0" cy="849.6" r="6.4" fill="none" stroke="#000" stroke-width="1.3"/>
<circle cx="217.0" cy="864.6" r="6.4" fill="none" stroke="#000" stroke-width="1.3"/>
<circle cx="209.4" cy="888.9" r="6.4" fill="none" stroke="#000" stroke-width="1.3"/>
<circle cx="194.2" cy="897.4" r="6.4" fill="none" stroke="#000" stroke-width="1.3"/>
<circle cx="240.0" cy="895.7" r="6.4" fill="none" stroke="#000" stroke-width="1.3"/>
<circle cx="224.5" cy="902.9" r="6.4" fill="none" stroke="#000" stroke-width="1.3"/>
<circle cx="217.0" cy="917.2" r="6.4" fill="none" stroke="#000" stroke-width="1.3"/>
<circle cx="217.0" cy="936.6" r="6.4" fill="none" stroke="#000" stroke-width="1.3"/>
<circle cx="209.4" cy="958.5" r="6.4" fill="none" stroke="#000" stroke-width="1.3"/>
<circle cx="224.5" cy="960.8" r="6.4" fill="none" stroke="#000" stroke-width="1.3"/>
<circle cx="240.0" cy="963.0" r="6.4" fill="none" stroke="#000" stroke-width="1.3"/>
<circle cx="194.2" cy="967.9" r="6.4" fill="none" stroke="#000" stroke-width="1.3"/>
<circle cx="209.4" cy="979.9" r="6.4" fill="none" stroke="#000" stroke-width="1.3"/>
<circle cx="224.5" cy="982.2" r="6.4" fill="none" stroke="#000" stroke-width="1.3"/>
<circle cx="240.0" cy="979.9" r="6.4" fill="none" stroke="#000" stroke-width="1.3"/>
<circle cx="194.2" cy="990.3" r="6.4" fill="none" stroke="#000" stroke-width="1.3"/>
<circle cx="255.3" cy="992.5" r="6.4" fill="none" stroke="#000" stroke-width="1.3"/>
<circle cx="224.5" cy="995.5" r="6.4" fill="none" stroke="#000" stroke-width="1.3"/>
<circle cx="178.9" cy="1000.4" r="6.4" fill="none" stroke="#000" stroke-width="1.3"/>
<circle cx="194.2" cy="1003.6" r="6.4" fill="none" stroke="#000" stroke-width="1.3"/>
<circle cx="209.4" cy="999.8" r="6.4" fill="none" stroke="#000" stroke-width="1.3"/>
<circle cx="240.0" cy="1000.4" r="6.4" fill="none" stroke="#000" stroke-width="1.3"/>
<circle cx="224.5" cy="1010.1" r="6.4" fill="none" stroke="#000" stroke-width="1.3"/>
<circle cx="255.3" cy="1009.5" r="6.4" fill="none" stroke="#000" stroke-width="1.3"/>
<circle cx="209.4" cy="1013.7" r="6.4" fill="none" stroke="#000" stroke-width="1.3"/>
<circle cx="194.2" cy="1021.9" r="6.4" fill="none" stroke="#000" stroke-width="1.3"/>
<circle cx="209.4" cy="1026.1" r="6.4" fill="none" stroke="#000" stroke-width="1.3"/>
<circle cx="224.5" cy="1031.3" r="6.4" fill="none" stroke="#000" stroke-width="1.3"/>
<circle cx="240.0" cy="1034.8" r="6.4" fill="none" stroke="#000" stroke-width="1.3"/>
<circle cx="209.4" cy="1050.1" r="6.4" fill="none" stroke="#000" stroke-width="1.3"/>
<circle cx="224.5" cy="1046.9" r="6.4" fill="none" stroke="#000" stroke-width="1.3"/>
<circle cx="240.0" cy="1049.5" r="6.4" fill="none" stroke="#000" stroke-width="1.3"/>
<circle cx="178.9" cy="1091.1" r="6.4" fill="none" stroke="#000" stroke-width="1.3"/>
<circle cx="194.2" cy="1087.8" r="6.4" fill="none" stroke="#000" stroke-width="1.3"/>
<circle cx="209.4" cy="1099.9" r="6.4" fill="none" stroke="#000" stroke-width="1.3"/>
<circle cx="224.5" cy="1095.4" r="6.4" fill="none" stroke="#000" stroke-width="1.3"/>
<circle cx="255.3" cy="1092.4" r="6.4" fill="none" stroke="#000" stroke-width="1.3"/>
<circle cx="178.9" cy="1107.3" r="6.4" fill="none" stroke="#000" stroke-width="1.3"/>
<circle cx="194.2" cy="1101.5" r="6.4" fill="none" stroke="#000" stroke-width="1.3"/>
<circle cx="224.5" cy="1111.2" r="6.4" fill="none" stroke="#000" stroke-width="1.3"/>
<circle cx="240.0" cy="1110.6" r="6.4" fill="none" stroke="#000" stroke-width="1.3"/>
<circle cx="255.3" cy="1107.3" r="6.4" fill="none" stroke="#000" stroke-width="1.3"/>
<circle cx="194.2" cy="1115.8" r="6.4" fill="none" stroke="#000" stroke-width="1.3"/>
<circle cx="209.4" cy="1122.9" r="6.4" fill="none" stroke="#000" stroke-width="1.3"/>
<circle cx="240.0" cy="1127.5" r="6.4" fill="none" stroke="#000" stroke-width="1.3"/>
<circle cx="194.2" cy="1132.7" r="6.4" fill="none" stroke="#000" stroke-width="1.3"/>
<circle cx="224.5" cy="1130.7" r="6.4" fill="none" stroke="#000" stroke-width="1.3"/>
<circle cx="349.7" cy="832.7" r="6.4" fill="none" stroke="#000" stroke-width="1.3"/>
<circle cx="349.7" cy="850.3" r="6.4" fill="none" stroke="#000" stroke-width="1.3"/>
<circle cx="349.7" cy="895.8" r="6.4" fill="none" stroke="#000" stroke-width="1.3"/>
<circle cx="349.7" cy="909.1" r="6.4" fill="none" stroke="#000" stroke-width="1.3"/>
<circle cx="373.0" cy="934.0" r="6.4" fill="none" stroke="#000" stroke-width="1.3"/>
<circle cx="327.0" cy="944.8" r="6.4" fill="none" stroke="#000" stroke-width="1.3"/>
<circle cx="342.2" cy="944.5" r="6.4" fill="none" stroke="#000" stroke-width="1.3"/>
<circle cx="311.9" cy="952.6" r="6.4" fill="none" stroke="#000" stroke-width="1.3"/>
<circle cx="327.0" cy="961.7" r="6.4" fill="none" stroke="#000" stroke-width="1.3"/>
<circle cx="342.2" cy="960.4" r="6.4" fill="none" stroke="#000" stroke-width="1.3"/>
<circle cx="357.5" cy="964.6" r="6.4" fill="none" stroke="#000" stroke-width="1.3"/>
<circle cx="373.0" cy="961.7" r="6.4" fill="none" stroke="#000" stroke-width="1.3"/>
<circle cx="342.2" cy="973.4" r="6.4" fill="none" stroke="#000" stroke-width="1.3"/>
<circle cx="327.0" cy="980.9" r="6.4" fill="none" stroke="#000" stroke-width="1.3"/>
<circle cx="357.5" cy="988.4" r="6.4" fill="none" stroke="#000" stroke-width="1.3"/>
<circle cx="373.0" cy="988.7" r="6.4" fill="none" stroke="#000" stroke-width="1.3"/>
<circle cx="311.9" cy="991.9" r="6.4" fill="none" stroke="#000" stroke-width="1.3"/>
<circle cx="342.2" cy="996.4" r="6.4" fill="none" stroke="#000" stroke-width="1.3"/>
<circle cx="388.4" cy="998.1" r="6.4" fill="none" stroke="#000" stroke-width="1.3"/>
<circle cx="357.5" cy="1005.3" r="6.4" fill="none" stroke="#000" stroke-width="1.3"/>
<circle cx="327.0" cy="1015.0" r="6.4" fill="none" stroke="#000" stroke-width="1.3"/>
<circle cx="357.5" cy="1020.9" r="6.4" fill="none" stroke="#000" stroke-width="1.3"/>
<circle cx="373.0" cy="1017.6" r="6.4" fill="none" stroke="#000" stroke-width="1.3"/>
<circle cx="342.2" cy="1025.4" r="6.4" fill="none" stroke="#000" stroke-width="1.3"/>
<circle cx="327.0" cy="1032.6" r="6.4" fill="none" stroke="#000" stroke-width="1.3"/>
<circle cx="357.5" cy="1033.2" r="6.4" fill="none" stroke="#000" stroke-width="1.3"/>
<circle cx="327.0" cy="1046.2" r="6.4" fill="none" stroke="#000" stroke-width="1.3"/>
<circle cx="342.2" cy="1043.6" r="6.4" fill="none" stroke="#000" stroke-width="1.3"/>
<circle cx="357.5" cy="1049.5" r="6.4" fill="none" stroke="#000" stroke-width="1.3"/>
<circle cx="373.0" cy="1043.9" r="6.4" fill="none" stroke="#000" stroke-width="1.3"/>
<circle cx="349.7" cy="1062.1" r="6.4" fill="none" stroke="#000" stroke-width="1.3"/>
<circle cx="357.5" cy="1078.7" r="6.4" fill="none" stroke="#000" stroke-width="1.3"/>
<circle cx="342.2" cy="1089.1" r="6.4" fill="none" stroke="#000" stroke-width="1.3"/>
<circle cx="373.0" cy="1098.0" r="6.4" fill="none" stroke="#000" stroke-width="1.3"/>
<circle cx="388.4" cy="1100.8" r="6.4" fill="none" stroke="#000" stroke-width="1.3"/>
<circle cx="311.9" cy="1108.0" r="6.4" fill="none" stroke="#000" stroke-width="1.3"/>
<circle cx="327.0" cy="1104.1" r="6.4" fill="none" stroke="#000" stroke-width="1.3"/>
<circle cx="342.2" cy="1112.5" r="6.4" fill="none" stroke="#000" stroke-width="1.3"/>
<circle cx="373.0" cy="1110.6" r="6.4" fill="none" stroke="#000" stroke-width="1.3"/>
<circle cx="388.4" cy="1115.8" r="6.4" fill="none" stroke="#000" stroke-width="1.3"/>
<circle cx="311.9" cy="1121.6" r="6.4" fill="none" stroke="#000" stroke-width="1.3"/>
<circle cx="327.0" cy="1120.6" r="6.4" fill="none" stroke="#000" stroke-width="1.3"/>
<circle cx="357.5" cy="1122.3" r="6.4" fill="none" stroke="#000" stroke-width="1.3"/>
<circle cx="311.9" cy="1134.0" r="6.4" fill="none" stroke="#000" stroke-width="1.3"/>
<circle cx="342.2" cy="1132.7" r="6.4" fill="none" stroke="#000" stroke-width="1.3"/>
<circle cx="373.0" cy="1134.4" r="6.4" fill="none" stroke="#000" stroke-width="1.3"/>
<circle cx="388.4" cy="1131.4" r="6.4" fill="none" stroke="#000" stroke-width="1.3"/>
<g transform="translate(610.6,956.5)"><rect x="-6.15" y="-6.15" width="12.3" height="12.3" fill="#fff" stroke="#1a1a1a" stroke-width="1.5"/><rect x="0" y="-6.75" width="6.75" height="13.5" fill="#000"/></g>
<g transform="translate(610.6,970.8)"><rect x="-6.15" y="-6.15" width="12.3" height="12.3" fill="#fff" stroke="#1a1a1a" stroke-width="1.5"/><rect x="0" y="-6.75" width="6.75" height="13.5" fill="#000"/></g>
<g transform="translate(610.6,983.8)"><rect x="-6.15" y="-6.15" width="12.3" height="12.3" fill="#fff" stroke="#1a1a1a" stroke-width="1.5"/><rect x="0" y="-6.75" width="6.75" height="13.5" fill="#000"/></g>
<g transform="translate(599.3,976.0)"><rect x="-6.15" y="-6.15" width="12.3" height="12.3" fill="#fff" stroke="#1a1a1a" stroke-width="1.5"/><rect x="0" y="-6.75" width="6.75" height="13.5" fill="#000"/></g>
<g transform="translate(599.3,997.5)"><rect x="-6.15" y="-6.15" width="12.3" height="12.3" fill="#fff" stroke="#1a1a1a" stroke-width="1.5"/><rect x="0" y="-6.75" width="6.75" height="13.5" fill="#000"/></g>
<g transform="translate(599.3,1039.1)"><rect x="-6.15" y="-6.15" width="12.3" height="12.3" fill="#fff" stroke="#1a1a1a" stroke-width="1.5"/><rect x="0" y="-6.75" width="6.75" height="13.5" fill="#000"/></g>
<g transform="translate(599.3,1052.7)"><rect x="-6.15" y="-6.15" width="12.3" height="12.3" fill="#fff" stroke="#1a1a1a" stroke-width="1.5"/><rect x="0" y="-6.75" width="6.75" height="13.5" fill="#000"/></g>
<g transform="translate(588.2,905.5)"><rect x="-6.15" y="-6.15" width="12.3" height="12.3" fill="#fff" stroke="#1a1a1a" stroke-width="1.5"/><rect x="0" y="-6.75" width="6.75" height="13.5" fill="#000"/></g>
<g transform="translate(588.2,969.5)"><rect x="-6.15" y="-6.15" width="12.3" height="12.3" fill="#fff" stroke="#1a1a1a" stroke-width="1.5"/><rect x="0" y="-6.75" width="6.75" height="13.5" fill="#000"/></g>
<g transform="translate(588.2,981.9)"><rect x="-6.15" y="-6.15" width="12.3" height="12.3" fill="#fff" stroke="#1a1a1a" stroke-width="1.5"/><rect x="0" y="-6.75" width="6.75" height="13.5" fill="#000"/></g>
<g transform="translate(588.2,1001.4)"><rect x="-6.15" y="-6.15" width="12.3" height="12.3" fill="#fff" stroke="#1a1a1a" stroke-width="1.5"/><rect x="0" y="-6.75" width="6.75" height="13.5" fill="#000"/></g>
<g transform="translate(588.2,1054.0)"><rect x="-6.15" y="-6.15" width="12.3" height="12.3" fill="#fff" stroke="#1a1a1a" stroke-width="1.5"/><rect x="0" y="-6.75" width="6.75" height="13.5" fill="#000"/></g>
<g transform="translate(588.2,1117.7)"><rect x="-6.15" y="-6.15" width="12.3" height="12.3" fill="#fff" stroke="#1a1a1a" stroke-width="1.5"/><rect x="0" y="-6.75" width="6.75" height="13.5" fill="#000"/></g>
<g transform="translate(583.0,936.4)"><rect x="-6.15" y="-6.15" width="12.3" height="12.3" fill="#fff" stroke="#1a1a1a" stroke-width="1.5"/><rect x="0" y="-6.75" width="6.75" height="13.5" fill="#000"/></g>
<g transform="translate(577.4,872.7)"><rect x="-6.15" y="-6.15" width="12.3" height="12.3" fill="#fff" stroke="#1a1a1a" stroke-width="1.5"/><rect x="0" y="-6.75" width="6.75" height="13.5" fill="#000"/></g>
<g transform="translate(577.4,916.5)"><rect x="-6.15" y="-6.15" width="12.3" height="12.3" fill="#fff" stroke="#1a1a1a" stroke-width="1.5"/><rect x="0" y="-6.75" width="6.75" height="13.5" fill="#000"/></g>
<g transform="translate(577.4,964.3)"><rect x="-6.15" y="-6.15" width="12.3" height="12.3" fill="#fff" stroke="#1a1a1a" stroke-width="1.5"/><rect x="0" y="-6.75" width="6.75" height="13.5" fill="#000"/></g>
<g transform="translate(577.4,978.0)"><rect x="-6.15" y="-6.15" width="12.3" height="12.3" fill="#fff" stroke="#1a1a1a" stroke-width="1.5"/><rect x="0" y="-6.75" width="6.75" height="13.5" fill="#000"/></g>
<g transform="translate(577.4,989.0)"><rect x="-6.15" y="-6.15" width="12.3" height="12.3" fill="#fff" stroke="#1a1a1a" stroke-width="1.5"/><rect x="0" y="-6.75" width="6.75" height="13.5" fill="#000"/></g>
<g transform="translate(577.4,1002.0)"><rect x="-6.15" y="-6.15" width="12.3" height="12.3" fill="#fff" stroke="#1a1a1a" stroke-width="1.5"/><rect x="0" y="-6.75" width="6.75" height="13.5" fill="#000"/></g>
<g transform="translate(577.4,1015.0)"><rect x="-6.15" y="-6.15" width="12.3" height="12.3" fill="#fff" stroke="#1a1a1a" stroke-width="1.5"/><rect x="0" y="-6.75" width="6.75" height="13.5" fill="#000"/></g>
<g transform="translate(577.4,1044.3)"><rect x="-6.15" y="-6.15" width="12.3" height="12.3" fill="#fff" stroke="#1a1a1a" stroke-width="1.5"/><rect x="0" y="-6.75" width="6.75" height="13.5" fill="#000"/></g>
<g transform="translate(577.4,1057.9)"><rect x="-6.15" y="-6.15" width="12.3" height="12.3" fill="#fff" stroke="#1a1a1a" stroke-width="1.5"/><rect x="0" y="-6.75" width="6.75" height="13.5" fill="#000"/></g>
<g transform="translate(577.4,1093.0)"><rect x="-6.15" y="-6.15" width="12.3" height="12.3" fill="#fff" stroke="#1a1a1a" stroke-width="1.5"/><rect x="0" y="-6.75" width="6.75" height="13.5" fill="#000"/></g>
<g transform="translate(577.4,1121.6)"><rect x="-6.15" y="-6.15" width="12.3" height="12.3" fill="#fff" stroke="#1a1a1a" stroke-width="1.5"/><rect x="0" y="-6.75" width="6.75" height="13.5" fill="#000"/></g>
<g transform="translate(572.0,851.2)"><rect x="-6.15" y="-6.15" width="12.3" height="12.3" fill="#fff" stroke="#1a1a1a" stroke-width="1.5"/><rect x="0" y="-6.75" width="6.75" height="13.5" fill="#000"/></g>
<g transform="translate(572.0,890.2)"><rect x="-6.15" y="-6.15" width="12.3" height="12.3" fill="#fff" stroke="#1a1a1a" stroke-width="1.5"/><rect x="0" y="-6.75" width="6.75" height="13.5" fill="#000"/></g>
<g transform="translate(572.0,936.4)"><rect x="-6.15" y="-6.15" width="12.3" height="12.3" fill="#fff" stroke="#1a1a1a" stroke-width="1.5"/><rect x="0" y="-6.75" width="6.75" height="13.5" fill="#000"/></g>
<g transform="translate(566.4,864.2)"><rect x="-6.15" y="-6.15" width="12.3" height="12.3" fill="#fff" stroke="#1a1a1a" stroke-width="1.5"/><rect x="0" y="-6.75" width="6.75" height="13.5" fill="#000"/></g>
<g transform="translate(566.4,973.4)"><rect x="-6.15" y="-6.15" width="12.3" height="12.3" fill="#fff" stroke="#1a1a1a" stroke-width="1.5"/><rect x="0" y="-6.75" width="6.75" height="13.5" fill="#000"/></g>
<g transform="translate(566.4,997.5)"><rect x="-6.15" y="-6.15" width="12.3" height="12.3" fill="#fff" stroke="#1a1a1a" stroke-width="1.5"/><rect x="0" y="-6.75" width="6.75" height="13.5" fill="#000"/></g>
<g transform="translate(566.4,1011.1)"><rect x="-6.15" y="-6.15" width="12.3" height="12.3" fill="#fff" stroke="#1a1a1a" stroke-width="1.5"/><rect x="0" y="-6.75" width="6.75" height="13.5" fill="#000"/></g>
<g transform="translate(566.4,1036.5)"><rect x="-6.15" y="-6.15" width="12.3" height="12.3" fill="#fff" stroke="#1a1a1a" stroke-width="1.5"/><rect x="0" y="-6.75" width="6.75" height="13.5" fill="#000"/></g>
<g transform="translate(566.4,1048.8)"><rect x="-6.15" y="-6.15" width="12.3" height="12.3" fill="#fff" stroke="#1a1a1a" stroke-width="1.5"/><rect x="0" y="-6.75" width="6.75" height="13.5" fill="#000"/></g>
<g transform="translate(566.4,1100.8)"><rect x="-6.15" y="-6.15" width="12.3" height="12.3" fill="#fff" stroke="#1a1a1a" stroke-width="1.5"/><rect x="0" y="-6.75" width="6.75" height="13.5" fill="#000"/></g>
<g transform="translate(566.4,1115.1)"><rect x="-6.15" y="-6.15" width="12.3" height="12.3" fill="#fff" stroke="#1a1a1a" stroke-width="1.5"/><rect x="0" y="-6.75" width="6.75" height="13.5" fill="#000"/></g>
<g transform="translate(560.9,934.1)"><rect x="-6.15" y="-6.15" width="12.3" height="12.3" fill="#fff" stroke="#1a1a1a" stroke-width="1.5"/><rect x="0" y="-6.75" width="6.75" height="13.5" fill="#000"/></g>
<g transform="translate(555.7,906.5)"><rect x="-6.15" y="-6.15" width="12.3" height="12.3" fill="#fff" stroke="#1a1a1a" stroke-width="1.5"/><rect x="0" y="-6.75" width="6.75" height="13.5" fill="#000"/></g>
<g transform="translate(555.7,966.3)"><rect x="-6.15" y="-6.15" width="12.3" height="12.3" fill="#fff" stroke="#1a1a1a" stroke-width="1.5"/><rect x="0" y="-6.75" width="6.75" height="13.5" fill="#000"/></g>
<g transform="translate(555.7,979.3)"><rect x="-6.15" y="-6.15" width="12.3" height="12.3" fill="#fff" stroke="#1a1a1a" stroke-width="1.5"/><rect x="0" y="-6.75" width="6.75" height="13.5" fill="#000"/></g>
<g transform="translate(555.7,1008.5)"><rect x="-6.15" y="-6.15" width="12.3" height="12.3" fill="#fff" stroke="#1a1a1a" stroke-width="1.5"/><rect x="0" y="-6.75" width="6.75" height="13.5" fill="#000"/></g>
<g transform="translate(555.7,1053.4)"><rect x="-6.15" y="-6.15" width="12.3" height="12.3" fill="#fff" stroke="#1a1a1a" stroke-width="1.5"/><rect x="0" y="-6.75" width="6.75" height="13.5" fill="#000"/></g>
<g transform="translate(555.7,1122.3)"><rect x="-6.15" y="-6.15" width="12.3" height="12.3" fill="#fff" stroke="#1a1a1a" stroke-width="1.5"/><rect x="0" y="-6.75" width="6.75" height="13.5" fill="#000"/></g>
<g transform="translate(544.7,972.8)"><rect x="-6.15" y="-6.15" width="12.3" height="12.3" fill="#fff" stroke="#1a1a1a" stroke-width="1.5"/><rect x="0" y="-6.75" width="6.75" height="13.5" fill="#000"/></g>
<g transform="translate(544.7,998.1)"><rect x="-6.15" y="-6.15" width="12.3" height="12.3" fill="#fff" stroke="#1a1a1a" stroke-width="1.5"/><rect x="0" y="-6.75" width="6.75" height="13.5" fill="#000"/></g>
<g transform="translate(544.7,1059.9)"><rect x="-6.15" y="-6.15" width="12.3" height="12.3" fill="#fff" stroke="#1a1a1a" stroke-width="1.5"/><rect x="0" y="-6.75" width="6.75" height="13.5" fill="#000"/></g>
<g transform="translate(533.9,954.6)"><rect x="-6.15" y="-6.15" width="12.3" height="12.3" fill="#fff" stroke="#1a1a1a" stroke-width="1.5"/><rect x="0" y="-6.75" width="6.75" height="13.5" fill="#000"/></g>
<g transform="translate(533.9,968.2)"><rect x="-6.15" y="-6.15" width="12.3" height="12.3" fill="#fff" stroke="#1a1a1a" stroke-width="1.5"/><rect x="0" y="-6.75" width="6.75" height="13.5" fill="#000"/></g>
<g transform="translate(533.9,986.4)"><rect x="-6.15" y="-6.15" width="12.3" height="12.3" fill="#fff" stroke="#1a1a1a" stroke-width="1.5"/><rect x="0" y="-6.75" width="6.75" height="13.5" fill="#000"/></g>
<g transform="translate(743.3,1035.5)"><rect x="-6.15" y="-6.15" width="12.3" height="12.3" fill="#fff" stroke="#1a1a1a" stroke-width="1.5"/><rect x="0" y="-6.75" width="6.75" height="13.5" fill="#000"/></g>
<g transform="translate(743.3,1134.1)"><rect x="-6.15" y="-6.15" width="12.3" height="12.3" fill="#fff" stroke="#1a1a1a" stroke-width="1.5"/><rect x="0" y="-6.75" width="6.75" height="13.5" fill="#000"/></g>
<g transform="translate(732.1,909.7)"><rect x="-6.15" y="-6.15" width="12.3" height="12.3" fill="#fff" stroke="#1a1a1a" stroke-width="1.5"/><rect x="0" y="-6.75" width="6.75" height="13.5" fill="#000"/></g>
<g transform="translate(732.1,996.7)"><rect x="-6.15" y="-6.15" width="12.3" height="12.3" fill="#fff" stroke="#1a1a1a" stroke-width="1.5"/><rect x="0" y="-6.75" width="6.75" height="13.5" fill="#000"/></g>
<g transform="translate(732.1,1029.4)"><rect x="-6.15" y="-6.15" width="12.3" height="12.3" fill="#fff" stroke="#1a1a1a" stroke-width="1.5"/><rect x="0" y="-6.75" width="6.75" height="13.5" fill="#000"/></g>
<g transform="translate(732.1,1134.1)"><rect x="-6.15" y="-6.15" width="12.3" height="12.3" fill="#fff" stroke="#1a1a1a" stroke-width="1.5"/><rect x="0" y="-6.75" width="6.75" height="13.5" fill="#000"/></g>
<g transform="translate(721.2,909.0)"><rect x="-6.15" y="-6.15" width="12.3" height="12.3" fill="#fff" stroke="#1a1a1a" stroke-width="1.5"/><rect x="0" y="-6.75" width="6.75" height="13.5" fill="#000"/></g>
<g transform="translate(721.2,959.3)"><rect x="-6.15" y="-6.15" width="12.3" height="12.3" fill="#fff" stroke="#1a1a1a" stroke-width="1.5"/><rect x="0" y="-6.75" width="6.75" height="13.5" fill="#000"/></g>
<g transform="translate(721.2,981.8)"><rect x="-6.15" y="-6.15" width="12.3" height="12.3" fill="#fff" stroke="#1a1a1a" stroke-width="1.5"/><rect x="0" y="-6.75" width="6.75" height="13.5" fill="#000"/></g>
<g transform="translate(721.2,1002.2)"><rect x="-6.15" y="-6.15" width="12.3" height="12.3" fill="#fff" stroke="#1a1a1a" stroke-width="1.5"/><rect x="0" y="-6.75" width="6.75" height="13.5" fill="#000"/></g>
<g transform="translate(721.2,1038.9)"><rect x="-6.15" y="-6.15" width="12.3" height="12.3" fill="#fff" stroke="#1a1a1a" stroke-width="1.5"/><rect x="0" y="-6.75" width="6.75" height="13.5" fill="#000"/></g>
<g transform="translate(721.2,1060.0)"><rect x="-6.15" y="-6.15" width="12.3" height="12.3" fill="#fff" stroke="#1a1a1a" stroke-width="1.5"/><rect x="0" y="-6.75" width="6.75" height="13.5" fill="#000"/></g>
<g transform="translate(721.2,1088.5)"><rect x="-6.15" y="-6.15" width="12.3" height="12.3" fill="#fff" stroke="#1a1a1a" stroke-width="1.5"/><rect x="0" y="-6.75" width="6.75" height="13.5" fill="#000"/></g>
<g transform="translate(721.2,1101.4)"><rect x="-6.15" y="-6.15" width="12.3" height="12.3" fill="#fff" stroke="#1a1a1a" stroke-width="1.5"/><rect x="0" y="-6.75" width="6.75" height="13.5" fill="#000"/></g>
<g transform="translate(721.2,1134.1)"><rect x="-6.15" y="-6.15" width="12.3" height="12.3" fill="#fff" stroke="#1a1a1a" stroke-width="1.5"/><rect x="0" y="-6.75" width="6.75" height="13.5" fill="#000"/></g>
<g transform="translate(710.3,902.2)"><rect x="-6.15" y="-6.15" width="12.3" height="12.3" fill="#fff" stroke="#1a1a1a" stroke-width="1.5"/><rect x="0" y="-6.75" width="6.75" height="13.5" fill="#000"/></g>
<g transform="translate(710.3,914.5)"><rect x="-6.15" y="-6.15" width="12.3" height="12.3" fill="#fff" stroke="#1a1a1a" stroke-width="1.5"/><rect x="0" y="-6.75" width="6.75" height="13.5" fill="#000"/></g>
<g transform="translate(710.3,963.4)"><rect x="-6.15" y="-6.15" width="12.3" height="12.3" fill="#fff" stroke="#1a1a1a" stroke-width="1.5"/><rect x="0" y="-6.75" width="6.75" height="13.5" fill="#000"/></g>
<g transform="translate(710.3,980.4)"><rect x="-6.15" y="-6.15" width="12.3" height="12.3" fill="#fff" stroke="#1a1a1a" stroke-width="1.5"/><rect x="0" y="-6.75" width="6.75" height="13.5" fill="#000"/></g>
<g transform="translate(710.3,999.5)"><rect x="-6.15" y="-6.15" width="12.3" height="12.3" fill="#fff" stroke="#1a1a1a" stroke-width="1.5"/><rect x="0" y="-6.75" width="6.75" height="13.5" fill="#000"/></g>
<g transform="translate(710.3,1040.2)"><rect x="-6.15" y="-6.15" width="12.3" height="12.3" fill="#fff" stroke="#1a1a1a" stroke-width="1.5"/><rect x="0" y="-6.75" width="6.75" height="13.5" fill="#000"/></g>
<g transform="translate(710.3,1057.2)"><rect x="-6.15" y="-6.15" width="12.3" height="12.3" fill="#fff" stroke="#1a1a1a" stroke-width="1.5"/><rect x="0" y="-6.75" width="6.75" height="13.5" fill="#000"/></g>
<g transform="translate(710.3,1072.2)"><rect x="-6.15" y="-6.15" width="12.3" height="12.3" fill="#fff" stroke="#1a1a1a" stroke-width="1.5"/><rect x="0" y="-6.75" width="6.75" height="13.5" fill="#000"/></g>
<g transform="translate(710.3,1091.9)"><rect x="-6.15" y="-6.15" width="12.3" height="12.3" fill="#fff" stroke="#1a1a1a" stroke-width="1.5"/><rect x="0" y="-6.75" width="6.75" height="13.5" fill="#000"/></g>
<g transform="translate(710.3,1134.1)"><rect x="-6.15" y="-6.15" width="12.3" height="12.3" fill="#fff" stroke="#1a1a1a" stroke-width="1.5"/><rect x="0" y="-6.75" width="6.75" height="13.5" fill="#000"/></g>
<g transform="translate(704.9,820.2)"><rect x="-6.15" y="-6.15" width="12.3" height="12.3" fill="#fff" stroke="#1a1a1a" stroke-width="1.5"/><rect x="0" y="-6.75" width="6.75" height="13.5" fill="#000"/></g>
<g transform="translate(704.9,936.6)"><rect x="-6.15" y="-6.15" width="12.3" height="12.3" fill="#fff" stroke="#1a1a1a" stroke-width="1.5"/><rect x="0" y="-6.75" width="6.75" height="13.5" fill="#000"/></g>
<g transform="translate(699.4,905.6)"><rect x="-6.15" y="-6.15" width="12.3" height="12.3" fill="#fff" stroke="#1a1a1a" stroke-width="1.5"/><rect x="0" y="-6.75" width="6.75" height="13.5" fill="#000"/></g>
<g transform="translate(699.4,963.4)"><rect x="-6.15" y="-6.15" width="12.3" height="12.3" fill="#fff" stroke="#1a1a1a" stroke-width="1.5"/><rect x="0" y="-6.75" width="6.75" height="13.5" fill="#000"/></g>
<g transform="translate(699.4,989.9)"><rect x="-6.15" y="-6.15" width="12.3" height="12.3" fill="#fff" stroke="#1a1a1a" stroke-width="1.5"/><rect x="0" y="-6.75" width="6.75" height="13.5" fill="#000"/></g>
<g transform="translate(699.4,1004.9)"><rect x="-6.15" y="-6.15" width="12.3" height="12.3" fill="#fff" stroke="#1a1a1a" stroke-width="1.5"/><rect x="0" y="-6.75" width="6.75" height="13.5" fill="#000"/></g>
<g transform="translate(699.4,1028.7)"><rect x="-6.15" y="-6.15" width="12.3" height="12.3" fill="#fff" stroke="#1a1a1a" stroke-width="1.5"/><rect x="0" y="-6.75" width="6.75" height="13.5" fill="#000"/></g>
<g transform="translate(699.4,1041.6)"><rect x="-6.15" y="-6.15" width="12.3" height="12.3" fill="#fff" stroke="#1a1a1a" stroke-width="1.5"/><rect x="0" y="-6.75" width="6.75" height="13.5" fill="#000"/></g>
<g transform="translate(699.4,1061.3)"><rect x="-6.15" y="-6.15" width="12.3" height="12.3" fill="#fff" stroke="#1a1a1a" stroke-width="1.5"/><rect x="0" y="-6.75" width="6.75" height="13.5" fill="#000"/></g>
<g transform="translate(699.4,1079.0)"><rect x="-6.15" y="-6.15" width="12.3" height="12.3" fill="#fff" stroke="#1a1a1a" stroke-width="1.5"/><rect x="0" y="-6.75" width="6.75" height="13.5" fill="#000"/></g>
<g transform="translate(699.4,1097.4)"><rect x="-6.15" y="-6.15" width="12.3" height="12.3" fill="#fff" stroke="#1a1a1a" stroke-width="1.5"/><rect x="0" y="-6.75" width="6.75" height="13.5" fill="#000"/></g>
<g transform="translate(699.4,1126.6)"><rect x="-6.15" y="-6.15" width="12.3" height="12.3" fill="#fff" stroke="#1a1a1a" stroke-width="1.5"/><rect x="0" y="-6.75" width="6.75" height="13.5" fill="#000"/></g>
<g transform="translate(699.4,1134.1)"><rect x="-6.15" y="-6.15" width="12.3" height="12.3" fill="#fff" stroke="#1a1a1a" stroke-width="1.5"/><rect x="0" y="-6.75" width="6.75" height="13.5" fill="#000"/></g>
<g transform="translate(688.5,909.0)"><rect x="-6.15" y="-6.15" width="12.3" height="12.3" fill="#fff" stroke="#1a1a1a" stroke-width="1.5"/><rect x="0" y="-6.75" width="6.75" height="13.5" fill="#000"/></g>
<g transform="translate(688.5,959.3)"><rect x="-6.15" y="-6.15" width="12.3" height="12.3" fill="#fff" stroke="#1a1a1a" stroke-width="1.5"/><rect x="0" y="-6.75" width="6.75" height="13.5" fill="#000"/></g>
<g transform="translate(688.5,1036.2)"><rect x="-6.15" y="-6.15" width="12.3" height="12.3" fill="#fff" stroke="#1a1a1a" stroke-width="1.5"/><rect x="0" y="-6.75" width="6.75" height="13.5" fill="#000"/></g>
<g transform="translate(688.5,1051.1)"><rect x="-6.15" y="-6.15" width="12.3" height="12.3" fill="#fff" stroke="#1a1a1a" stroke-width="1.5"/><rect x="0" y="-6.75" width="6.75" height="13.5" fill="#000"/></g>
<g transform="translate(688.5,1107.6)"><rect x="-6.15" y="-6.15" width="12.3" height="12.3" fill="#fff" stroke="#1a1a1a" stroke-width="1.5"/><rect x="0" y="-6.75" width="6.75" height="13.5" fill="#000"/></g>
<g transform="translate(688.5,1134.1)"><rect x="-6.15" y="-6.15" width="12.3" height="12.3" fill="#fff" stroke="#1a1a1a" stroke-width="1.5"/><rect x="0" y="-6.75" width="6.75" height="13.5" fill="#000"/></g>
<g transform="translate(677.7,907.0)"><rect x="-6.15" y="-6.15" width="12.3" height="12.3" fill="#fff" stroke="#1a1a1a" stroke-width="1.5"/><rect x="0" y="-6.75" width="6.75" height="13.5" fill="#000"/></g>
<g transform="translate(677.7,959.3)"><rect x="-6.15" y="-6.15" width="12.3" height="12.3" fill="#fff" stroke="#1a1a1a" stroke-width="1.5"/><rect x="0" y="-6.75" width="6.75" height="13.5" fill="#000"/></g>
<g transform="translate(677.7,998.8)"><rect x="-6.15" y="-6.15" width="12.3" height="12.3" fill="#fff" stroke="#1a1a1a" stroke-width="1.5"/><rect x="0" y="-6.75" width="6.75" height="13.5" fill="#000"/></g>
<g transform="translate(677.7,1034.1)"><rect x="-6.15" y="-6.15" width="12.3" height="12.3" fill="#fff" stroke="#1a1a1a" stroke-width="1.5"/><rect x="0" y="-6.75" width="6.75" height="13.5" fill="#000"/></g>
<g transform="translate(666.8,1028.0)"><rect x="-6.15" y="-6.15" width="12.3" height="12.3" fill="#fff" stroke="#1a1a1a" stroke-width="1.5"/><rect x="0" y="-6.75" width="6.75" height="13.5" fill="#000"/></g>
<g transform="translate(666.8,1116.4)"><rect x="-6.15" y="-6.15" width="12.3" height="12.3" fill="#fff" stroke="#1a1a1a" stroke-width="1.5"/><rect x="0" y="-6.75" width="6.75" height="13.5" fill="#000"/></g>
<g transform="translate(666.8,1134.1)"><rect x="-6.15" y="-6.15" width="12.3" height="12.3" fill="#fff" stroke="#1a1a1a" stroke-width="1.5"/><rect x="0" y="-6.75" width="6.75" height="13.5" fill="#000"/></g>
<line x1="128.00" y1="800.70" x2="128.00" y2="916.00" stroke="#000" stroke-width="3.0" />
<line x1="128.00" y1="932.40" x2="128.00" y2="1133.00" stroke="#000" stroke-width="3.0" />
<line x1="121.10" y1="913.90" x2="136.90" y2="928.00" stroke="#000" stroke-width="2.6" />
<line x1="121.10" y1="921.30" x2="136.90" y2="935.40" stroke="#000" stroke-width="2.6" />
<line x1="115.50" y1="802.20" x2="128.00" y2="802.20" stroke="#000" stroke-width="3.0" />
<g transform="translate(112.50,812.22) scale(1,1.04)"><text x="0" y="0" font-size="28" font-weight="normal" text-anchor="end"  >2500</text></g>
<line x1="115.50" y1="838.70" x2="128.00" y2="838.70" stroke="#000" stroke-width="3.0" />
<g transform="translate(112.50,848.72) scale(1,1.04)"><text x="0" y="0" font-size="28" font-weight="normal" text-anchor="end"  >2000</text></g>
<line x1="115.50" y1="875.40" x2="128.00" y2="875.40" stroke="#000" stroke-width="3.0" />
<g transform="translate(112.50,885.42) scale(1,1.04)"><text x="0" y="0" font-size="28" font-weight="normal" text-anchor="end"  > 500</text><path d="M763,0 L583,0 L583,1097.6 Q518,1038.3 465,1008.6 Q412,978.9 359,949.3 Q306,919.6 222,889.9 L222,1056.4 Q373,1124.3 429.5,1172.6 Q486,1220.9 542.5,1269.2 Q599,1317.6 646,1409 L763,1409 Z" transform="translate(-62.26,0.00) scale(0.01367,-0.01367)" fill="#000"/></g>
<line x1="115.50" y1="911.40" x2="128.00" y2="911.40" stroke="#000" stroke-width="3.0" />
<g transform="translate(112.50,921.42) scale(1,1.04)"><text x="0" y="0" font-size="28" font-weight="normal" text-anchor="end"  > 000</text><path d="M763,0 L583,0 L583,1097.6 Q518,1038.3 465,1008.6 Q412,978.9 359,949.3 Q306,919.6 222,889.9 L222,1056.4 Q373,1124.3 429.5,1172.6 Q486,1220.9 542.5,1269.2 Q599,1317.6 646,1409 L763,1409 Z" transform="translate(-62.26,0.00) scale(0.01367,-0.01367)" fill="#000"/></g>
<line x1="115.50" y1="952.10" x2="128.00" y2="952.10" stroke="#000" stroke-width="3.0" />
<g transform="translate(112.50,962.12) scale(1,1.04)"><text x="0" y="0" font-size="28" font-weight="normal" text-anchor="end"  >800</text></g>
<line x1="115.50" y1="997.50" x2="128.00" y2="997.50" stroke="#000" stroke-width="3.0" />
<g transform="translate(112.50,1007.52) scale(1,1.04)"><text x="0" y="0" font-size="28" font-weight="normal" text-anchor="end"  >600</text></g>
<line x1="115.50" y1="1043.10" x2="128.00" y2="1043.10" stroke="#000" stroke-width="3.0" />
<g transform="translate(112.50,1053.12) scale(1,1.04)"><text x="0" y="0" font-size="28" font-weight="normal" text-anchor="end"  >400</text></g>
<line x1="115.50" y1="1088.20" x2="128.00" y2="1088.20" stroke="#000" stroke-width="3.0" />
<g transform="translate(112.50,1098.22) scale(1,1.04)"><text x="0" y="0" font-size="28" font-weight="normal" text-anchor="end"  >200</text></g>
<g transform="translate(112.50,1143.02) scale(1,1.04)"><text x="0" y="0" font-size="28" font-weight="normal" text-anchor="end"  >0</text></g>
<line x1="114.50" y1="1133.00" x2="795.00" y2="1133.00" stroke="#000" stroke-width="3.0" />
<line x1="216.80" y1="1133.00" x2="216.80" y2="1146.50" stroke="#000" stroke-width="3.0" />
<line x1="350.00" y1="1133.00" x2="350.00" y2="1146.50" stroke="#000" stroke-width="3.0" />
<line x1="571.90" y1="1133.00" x2="571.90" y2="1146.50" stroke="#000" stroke-width="3.0" />
<line x1="704.50" y1="1133.00" x2="704.50" y2="1146.50" stroke="#000" stroke-width="3.0" />
<g transform="translate(216.80,1175.00) scale(1,1.04)"><text x="0" y="0" font-size="28" font-weight="normal" text-anchor="middle"  >Day 0</text></g>
<g transform="translate(350.00,1175.00) scale(1,1.04)"><text x="0" y="0" font-size="28" font-weight="normal" text-anchor="middle"  >Day 3</text></g>
<g transform="translate(571.90,1175.00) scale(1,1.04)"><text x="0" y="0" font-size="28" font-weight="normal" text-anchor="middle"  >Day 0</text></g>
<g transform="translate(704.50,1175.00) scale(1,1.04)"><text x="0" y="0" font-size="28" font-weight="normal" text-anchor="middle"  >Day 3</text></g>
<g transform="translate(290.50,1212.00) scale(1,1.04)"><text x="0" y="0" font-size="27.5" font-weight="bold" text-anchor="middle"  >Control (<tspan font-style="italic">n</tspan> = 50)</text></g>
<g transform="translate(640.70,1212.00) scale(1,1.04)"><text x="0" y="0" font-size="27.5" font-weight="bold" text-anchor="middle"  >Navax&#160;&#160;&#160;(<tspan font-style="italic">n</tspan> = 50)</text></g>
<text x="0" y="0" font-size="27.7" text-anchor="middle" transform="translate(34.0,964.6) rotate(-90) scale(1,1.04)">IL-8 concentration (pg/ml)</text>
<line x1="209.70" y1="802.20" x2="342.00" y2="802.20" stroke="#000" stroke-width="1.3" />
<line x1="209.70" y1="795.20" x2="209.70" y2="809.20" stroke="#000" stroke-width="1.3" />
<line x1="342.00" y1="795.20" x2="342.00" y2="809.20" stroke="#000" stroke-width="1.3" />
<g transform="translate(275.85,758.80) scale(1,1.04)"><text x="0" y="0" font-size="25.5" font-weight="bold" text-anchor="middle"  > . -fold</text><path d="M861,0 L580,0 L580,1017.8 Q426,879.4 217,813.1 L217,1058.2 Q327,1092.8 456,1188.9 Q585,1285 633,1409 L861,1409 Z" transform="translate(-45.31,0.00) scale(0.01245,-0.01245)" fill="#000"/><path d="M861,0 L580,0 L580,1017.8 Q426,879.4 217,813.1 L217,1058.2 Q327,1092.8 456,1188.9 Q585,1285 633,1409 L861,1409 Z" transform="translate(-24.07,0.00) scale(0.01245,-0.01245)" fill="#000"/></g>
<g transform="translate(275.85,786.60) scale(1,1.04)"><text x="0" y="0" font-size="25.5" font-weight="normal" text-anchor="middle"  ><tspan font-style="italic">p</tspan> = 0.6 09</text><path d="M763,0 L583,0 L583,1097.6 Q518,1038.3 465,1008.6 Q412,978.9 359,949.3 Q306,919.6 222,889.9 L222,1056.4 Q373,1124.3 429.5,1172.6 Q486,1220.9 542.5,1269.2 Q599,1317.6 646,1409 L763,1409 Z" transform="translate(18.06,0.00) scale(0.01245,-0.01245)" fill="#000"/></g>
<line x1="566.50" y1="802.00" x2="699.40" y2="802.00" stroke="#000" stroke-width="1.3" />
<line x1="566.50" y1="795.00" x2="566.50" y2="809.00" stroke="#000" stroke-width="1.3" />
<line x1="699.40" y1="795.00" x2="699.40" y2="809.00" stroke="#000" stroke-width="1.3" />
<g transform="translate(632.95,758.80) scale(1,1.04)"><text x="0" y="0" font-size="25.5" font-weight="bold" text-anchor="middle"  > .5-fold</text><path d="M861,0 L580,0 L580,1017.8 Q426,879.4 217,813.1 L217,1058.2 Q327,1092.8 456,1188.9 Q585,1285 633,1409 L861,1409 Z" transform="translate(-45.31,0.00) scale(0.01245,-0.01245)" fill="#000"/></g>
<g transform="translate(632.95,786.30) scale(1,1.04)"><text x="0" y="0" font-size="25.5" font-weight="normal" text-anchor="middle"  ><tspan font-style="italic">p</tspan> = 0.0094</text></g>
<line x1="216.80" y1="992.10" x2="216.80" y2="1048.80" stroke="#000" stroke-width="1.3" />
<line x1="195.55" y1="992.10" x2="238.05" y2="992.10" stroke="#000" stroke-width="1.3" />
<line x1="195.55" y1="1048.80" x2="238.05" y2="1048.80" stroke="#000" stroke-width="1.3" />
<line x1="350.00" y1="991.50" x2="350.00" y2="1062.10" stroke="#000" stroke-width="1.3" />
<line x1="328.70" y1="991.50" x2="371.30" y2="991.50" stroke="#000" stroke-width="1.3" />
<line x1="328.70" y1="1062.10" x2="371.30" y2="1062.10" stroke="#000" stroke-width="1.3" />
<line x1="571.90" y1="960.00" x2="571.90" y2="1040.00" stroke="#000" stroke-width="1.3" />
<line x1="551.90" y1="960.00" x2="591.90" y2="960.00" stroke="#000" stroke-width="1.3" />
<line x1="551.90" y1="1040.00" x2="591.90" y2="1040.00" stroke="#000" stroke-width="1.3" />
<line x1="704.50" y1="997.60" x2="704.50" y2="1057.00" stroke="#000" stroke-width="1.3" />
<line x1="684.50" y1="997.60" x2="724.50" y2="997.60" stroke="#000" stroke-width="1.3" />
<line x1="684.50" y1="1057.00" x2="724.50" y2="1057.00" stroke="#000" stroke-width="1.3" />
<line x1="162.10" y1="1010.20" x2="272.60" y2="1010.20" stroke="#fb1c12" stroke-width="3.0" />
<line x1="295.30" y1="1025.30" x2="405.30" y2="1025.30" stroke="#fb1c12" stroke-width="3.0" />
<line x1="516.90" y1="985.40" x2="627.40" y2="985.40" stroke="#fb1c12" stroke-width="3.0" />
<line x1="650.00" y1="1031.60" x2="760.30" y2="1031.60" stroke="#fb1c12" stroke-width="3.0" />
<g transform="translate(14.90,1276.80) scale(1,1.04)"><text x="0" y="0" font-size="52" font-weight="bold" text-anchor="start"  >c</text></g>
<path d="M10.8,-36.8 H16.5 V0 H9.1 V-25.8 L0.3,-21.1 V-27.5 Q7.5,-30.5 10.8,-36.8 Z" transform="translate(47.9,1276.8)" fill="#000"/>
<circle cx="211.1" cy="1475.6" r="6.1" fill="none" stroke="#4a4a4a" stroke-width="1.0"/>
<circle cx="173.1" cy="1503.3" r="6.1" fill="none" stroke="#4a4a4a" stroke-width="1.0"/>
<circle cx="182.6" cy="1515.2" r="6.1" fill="none" stroke="#4a4a4a" stroke-width="1.0"/>
<circle cx="192.1" cy="1511.3" r="6.1" fill="none" stroke="#4a4a4a" stroke-width="1.0"/>
<circle cx="201.8" cy="1508.6" r="6.1" fill="none" stroke="#4a4a4a" stroke-width="1.0"/>
<circle cx="211.1" cy="1511.3" r="6.1" fill="none" stroke="#4a4a4a" stroke-width="1.0"/>
<circle cx="220.6" cy="1501.4" r="6.1" fill="none" stroke="#4a4a4a" stroke-width="1.0"/>
<circle cx="220.6" cy="1514.6" r="6.1" fill="none" stroke="#4a4a4a" stroke-width="1.0"/>
<circle cx="230.1" cy="1509.3" r="6.1" fill="none" stroke="#4a4a4a" stroke-width="1.0"/>
<circle cx="239.8" cy="1498.1" r="6.1" fill="none" stroke="#4a4a4a" stroke-width="1.0"/>
<circle cx="239.8" cy="1515.2" r="6.1" fill="none" stroke="#4a4a4a" stroke-width="1.0"/>
<circle cx="249.3" cy="1506.6" r="6.1" fill="none" stroke="#4a4a4a" stroke-width="1.0"/>
<circle cx="211.1" cy="1537.4" r="6.1" fill="none" stroke="#4a4a4a" stroke-width="1.0"/>
<circle cx="211.1" cy="1594.7" r="6.1" fill="none" stroke="#4a4a4a" stroke-width="1.0"/>
<circle cx="220.6" cy="1604.3" r="6.1" fill="none" stroke="#4a4a4a" stroke-width="1.0"/>
<circle cx="201.8" cy="1610.9" r="6.1" fill="none" stroke="#4a4a4a" stroke-width="1.0"/>
<circle cx="220.6" cy="1618.8" r="6.1" fill="none" stroke="#4a4a4a" stroke-width="1.0"/>
<circle cx="201.8" cy="1627.4" r="6.1" fill="none" stroke="#4a4a4a" stroke-width="1.0"/>
<circle cx="211.1" cy="1626.7" r="6.1" fill="none" stroke="#4a4a4a" stroke-width="1.0"/>
<circle cx="201.8" cy="1647.5" r="6.1" fill="none" stroke="#4a4a4a" stroke-width="1.0"/>
<circle cx="211.1" cy="1651.8" r="6.1" fill="none" stroke="#4a4a4a" stroke-width="1.0"/>
<circle cx="220.6" cy="1649.4" r="6.1" fill="none" stroke="#4a4a4a" stroke-width="1.0"/>
<circle cx="192.1" cy="1662.8" r="6.1" fill="none" stroke="#4a4a4a" stroke-width="1.0"/>
<circle cx="230.1" cy="1665.9" r="6.1" fill="none" stroke="#4a4a4a" stroke-width="1.0"/>
<circle cx="201.8" cy="1672.9" r="6.1" fill="none" stroke="#4a4a4a" stroke-width="1.0"/>
<circle cx="211.1" cy="1672.3" r="6.1" fill="none" stroke="#4a4a4a" stroke-width="1.0"/>
<circle cx="220.6" cy="1685.2" r="6.1" fill="none" stroke="#4a4a4a" stroke-width="1.0"/>
<circle cx="201.8" cy="1695.8" r="6.1" fill="none" stroke="#4a4a4a" stroke-width="1.0"/>
<circle cx="211.1" cy="1695.4" r="6.1" fill="none" stroke="#4a4a4a" stroke-width="1.0"/>
<circle cx="220.6" cy="1701.1" r="6.1" fill="none" stroke="#4a4a4a" stroke-width="1.0"/>
<circle cx="201.8" cy="1711.6" r="6.1" fill="none" stroke="#4a4a4a" stroke-width="1.0"/>
<circle cx="211.1" cy="1714.5" r="6.1" fill="none" stroke="#4a4a4a" stroke-width="1.0"/>
<circle cx="220.6" cy="1717.8" r="6.1" fill="none" stroke="#4a4a4a" stroke-width="1.0"/>
<circle cx="201.8" cy="1727.1" r="6.1" fill="none" stroke="#4a4a4a" stroke-width="1.0"/>
<circle cx="339.4" cy="1515.2" r="6.1" fill="none" stroke="#4a4a4a" stroke-width="1.0"/>
<circle cx="344.3" cy="1513.2" r="6.1" fill="none" stroke="#4a4a4a" stroke-width="1.0"/>
<circle cx="348.9" cy="1513.0" r="6.1" fill="none" stroke="#4a4a4a" stroke-width="1.0"/>
<circle cx="344.3" cy="1589.1" r="6.1" fill="none" stroke="#4a4a4a" stroke-width="1.0"/>
<circle cx="344.3" cy="1620.8" r="6.1" fill="none" stroke="#4a4a4a" stroke-width="1.0"/>
<circle cx="344.3" cy="1658.4" r="6.1" fill="none" stroke="#4a4a4a" stroke-width="1.0"/>
<circle cx="346.0" cy="1661.7" r="6.1" fill="none" stroke="#4a4a4a" stroke-width="1.0"/>
<circle cx="342.0" cy="1663.7" r="6.1" fill="none" stroke="#4a4a4a" stroke-width="1.0"/>
<circle cx="337.4" cy="1672.3" r="6.1" fill="none" stroke="#4a4a4a" stroke-width="1.0"/>
<circle cx="351.3" cy="1674.3" r="6.1" fill="none" stroke="#4a4a4a" stroke-width="1.0"/>
<circle cx="342.0" cy="1680.9" r="6.1" fill="none" stroke="#4a4a4a" stroke-width="1.0"/>
<circle cx="344.3" cy="1687.5" r="6.1" fill="none" stroke="#4a4a4a" stroke-width="1.0"/>
<circle cx="339.4" cy="1696.0" r="6.1" fill="none" stroke="#4a4a4a" stroke-width="1.0"/>
<circle cx="348.9" cy="1696.7" r="6.1" fill="none" stroke="#4a4a4a" stroke-width="1.0"/>
<circle cx="344.3" cy="1721.1" r="6.1" fill="none" stroke="#4a4a4a" stroke-width="1.0"/>
<circle cx="344.3" cy="1744.2" r="6.1" fill="none" stroke="#4a4a4a" stroke-width="1.0"/>
<circle cx="306.4" cy="1758.7" r="6.1" fill="none" stroke="#4a4a4a" stroke-width="1.0"/>
<circle cx="311.1" cy="1758.7" r="6.1" fill="none" stroke="#4a4a4a" stroke-width="1.0"/>
<circle cx="315.9" cy="1758.7" r="6.1" fill="none" stroke="#4a4a4a" stroke-width="1.0"/>
<circle cx="320.6" cy="1758.7" r="6.1" fill="none" stroke="#4a4a4a" stroke-width="1.0"/>
<circle cx="325.4" cy="1758.7" r="6.1" fill="none" stroke="#4a4a4a" stroke-width="1.0"/>
<circle cx="330.2" cy="1758.7" r="6.1" fill="none" stroke="#4a4a4a" stroke-width="1.0"/>
<circle cx="334.9" cy="1758.7" r="6.1" fill="none" stroke="#4a4a4a" stroke-width="1.0"/>
<circle cx="339.7" cy="1758.7" r="6.1" fill="none" stroke="#4a4a4a" stroke-width="1.0"/>
<circle cx="344.4" cy="1758.7" r="6.1" fill="none" stroke="#4a4a4a" stroke-width="1.0"/>
<circle cx="349.2" cy="1758.7" r="6.1" fill="none" stroke="#4a4a4a" stroke-width="1.0"/>
<circle cx="353.9" cy="1758.7" r="6.1" fill="none" stroke="#4a4a4a" stroke-width="1.0"/>
<circle cx="358.7" cy="1758.7" r="6.1" fill="none" stroke="#4a4a4a" stroke-width="1.0"/>
<circle cx="363.4" cy="1758.7" r="6.1" fill="none" stroke="#4a4a4a" stroke-width="1.0"/>
<circle cx="368.2" cy="1758.7" r="6.1" fill="none" stroke="#4a4a4a" stroke-width="1.0"/>
<circle cx="372.9" cy="1758.7" r="6.1" fill="none" stroke="#4a4a4a" stroke-width="1.0"/>
<circle cx="377.7" cy="1758.7" r="6.1" fill="none" stroke="#4a4a4a" stroke-width="1.0"/>
<circle cx="382.4" cy="1758.7" r="6.1" fill="none" stroke="#4a4a4a" stroke-width="1.0"/>
<g transform="translate(604.9,1514.7)"><rect x="-6.15" y="-6.15" width="12.3" height="12.3" fill="#fff" stroke="#555" stroke-width="1.2"/><rect x="0" y="-6.75" width="6.75" height="13.5" fill="#000"/></g>
<g transform="translate(593.5,1513.9)"><rect x="-6.15" y="-6.15" width="12.3" height="12.3" fill="#fff" stroke="#555" stroke-width="1.2"/><rect x="0" y="-6.75" width="6.75" height="13.5" fill="#000"/></g>
<g transform="translate(582.9,1513.9)"><rect x="-6.15" y="-6.15" width="12.3" height="12.3" fill="#fff" stroke="#555" stroke-width="1.2"/><rect x="0" y="-6.75" width="6.75" height="13.5" fill="#000"/></g>
<g transform="translate(582.9,1619.6)"><rect x="-6.15" y="-6.15" width="12.3" height="12.3" fill="#fff" stroke="#555" stroke-width="1.2"/><rect x="0" y="-6.75" width="6.75" height="13.5" fill="#000"/></g>
<g transform="translate(582.9,1653.8)"><rect x="-6.15" y="-6.15" width="12.3" height="12.3" fill="#fff" stroke="#555" stroke-width="1.2"/><rect x="0" y="-6.75" width="6.75" height="13.5" fill="#000"/></g>
<g transform="translate(582.9,1667.5)"><rect x="-6.15" y="-6.15" width="12.3" height="12.3" fill="#fff" stroke="#555" stroke-width="1.2"/><rect x="0" y="-6.75" width="6.75" height="13.5" fill="#000"/></g>
<g transform="translate(582.9,1705.5)"><rect x="-6.15" y="-6.15" width="12.3" height="12.3" fill="#fff" stroke="#555" stroke-width="1.2"/><rect x="0" y="-6.75" width="6.75" height="13.5" fill="#000"/></g>
<g transform="translate(571.5,1515.9)"><rect x="-6.15" y="-6.15" width="12.3" height="12.3" fill="#fff" stroke="#555" stroke-width="1.2"/><rect x="0" y="-6.75" width="6.75" height="13.5" fill="#000"/></g>
<g transform="translate(571.5,1620.3)"><rect x="-6.15" y="-6.15" width="12.3" height="12.3" fill="#fff" stroke="#555" stroke-width="1.2"/><rect x="0" y="-6.75" width="6.75" height="13.5" fill="#000"/></g>
<g transform="translate(571.5,1633.3)"><rect x="-6.15" y="-6.15" width="12.3" height="12.3" fill="#fff" stroke="#555" stroke-width="1.2"/><rect x="0" y="-6.75" width="6.75" height="13.5" fill="#000"/></g>
<g transform="translate(571.5,1649.2)"><rect x="-6.15" y="-6.15" width="12.3" height="12.3" fill="#fff" stroke="#555" stroke-width="1.2"/><rect x="0" y="-6.75" width="6.75" height="13.5" fill="#000"/></g>
<g transform="translate(571.5,1672.0)"><rect x="-6.15" y="-6.15" width="12.3" height="12.3" fill="#fff" stroke="#555" stroke-width="1.2"/><rect x="0" y="-6.75" width="6.75" height="13.5" fill="#000"/></g>
<g transform="translate(571.5,1685.0)"><rect x="-6.15" y="-6.15" width="12.3" height="12.3" fill="#fff" stroke="#555" stroke-width="1.2"/><rect x="0" y="-6.75" width="6.75" height="13.5" fill="#000"/></g>
<g transform="translate(571.5,1715.4)"><rect x="-6.15" y="-6.15" width="12.3" height="12.3" fill="#fff" stroke="#555" stroke-width="1.2"/><rect x="0" y="-6.75" width="6.75" height="13.5" fill="#000"/></g>
<g transform="translate(565.7,1409.8)"><rect x="-6.15" y="-6.15" width="12.3" height="12.3" fill="#fff" stroke="#555" stroke-width="1.2"/><rect x="0" y="-6.75" width="6.75" height="13.5" fill="#000"/></g>
<g transform="translate(565.7,1433.3)"><rect x="-6.15" y="-6.15" width="12.3" height="12.3" fill="#fff" stroke="#555" stroke-width="1.2"/><rect x="0" y="-6.75" width="6.75" height="13.5" fill="#000"/></g>
<g transform="translate(565.7,1542.8)"><rect x="-6.15" y="-6.15" width="12.3" height="12.3" fill="#fff" stroke="#555" stroke-width="1.2"/><rect x="0" y="-6.75" width="6.75" height="13.5" fill="#000"/></g>
<g transform="translate(565.7,1565.6)"><rect x="-6.15" y="-6.15" width="12.3" height="12.3" fill="#fff" stroke="#555" stroke-width="1.2"/><rect x="0" y="-6.75" width="6.75" height="13.5" fill="#000"/></g>
<g transform="translate(565.7,1597.5)"><rect x="-6.15" y="-6.15" width="12.3" height="12.3" fill="#fff" stroke="#555" stroke-width="1.2"/><rect x="0" y="-6.75" width="6.75" height="13.5" fill="#000"/></g>
<g transform="translate(565.7,1735.1)"><rect x="-6.15" y="-6.15" width="12.3" height="12.3" fill="#fff" stroke="#555" stroke-width="1.2"/><rect x="0" y="-6.75" width="6.75" height="13.5" fill="#000"/></g>
<g transform="translate(560.4,1515.9)"><rect x="-6.15" y="-6.15" width="12.3" height="12.3" fill="#fff" stroke="#555" stroke-width="1.2"/><rect x="0" y="-6.75" width="6.75" height="13.5" fill="#000"/></g>
<g transform="translate(560.4,1632.5)"><rect x="-6.15" y="-6.15" width="12.3" height="12.3" fill="#fff" stroke="#555" stroke-width="1.2"/><rect x="0" y="-6.75" width="6.75" height="13.5" fill="#000"/></g>
<g transform="translate(560.4,1655.3)"><rect x="-6.15" y="-6.15" width="12.3" height="12.3" fill="#fff" stroke="#555" stroke-width="1.2"/><rect x="0" y="-6.75" width="6.75" height="13.5" fill="#000"/></g>
<g transform="translate(560.4,1676.6)"><rect x="-6.15" y="-6.15" width="12.3" height="12.3" fill="#fff" stroke="#555" stroke-width="1.2"/><rect x="0" y="-6.75" width="6.75" height="13.5" fill="#000"/></g>
<g transform="translate(560.4,1708.5)"><rect x="-6.15" y="-6.15" width="12.3" height="12.3" fill="#fff" stroke="#555" stroke-width="1.2"/><rect x="0" y="-6.75" width="6.75" height="13.5" fill="#000"/></g>
<g transform="translate(549.4,1510.1)"><rect x="-6.15" y="-6.15" width="12.3" height="12.3" fill="#fff" stroke="#555" stroke-width="1.2"/><rect x="0" y="-6.75" width="6.75" height="13.5" fill="#000"/></g>
<g transform="translate(549.4,1625.7)"><rect x="-6.15" y="-6.15" width="12.3" height="12.3" fill="#fff" stroke="#555" stroke-width="1.2"/><rect x="0" y="-6.75" width="6.75" height="13.5" fill="#000"/></g>
<g transform="translate(549.4,1640.1)"><rect x="-6.15" y="-6.15" width="12.3" height="12.3" fill="#fff" stroke="#555" stroke-width="1.2"/><rect x="0" y="-6.75" width="6.75" height="13.5" fill="#000"/></g>
<g transform="translate(549.4,1661.4)"><rect x="-6.15" y="-6.15" width="12.3" height="12.3" fill="#fff" stroke="#555" stroke-width="1.2"/><rect x="0" y="-6.75" width="6.75" height="13.5" fill="#000"/></g>
<g transform="translate(538.8,1504.0)"><rect x="-6.15" y="-6.15" width="12.3" height="12.3" fill="#fff" stroke="#555" stroke-width="1.2"/><rect x="0" y="-6.75" width="6.75" height="13.5" fill="#000"/></g>
<g transform="translate(527.7,1512.4)"><rect x="-6.15" y="-6.15" width="12.3" height="12.3" fill="#fff" stroke="#555" stroke-width="1.2"/><rect x="0" y="-6.75" width="6.75" height="13.5" fill="#000"/></g>
<g transform="translate(701.1,1652.4)"><rect x="-6.15" y="-6.15" width="12.3" height="12.3" fill="#fff" stroke="#555" stroke-width="1.2"/><rect x="0" y="-6.75" width="6.75" height="13.5" fill="#000"/></g>
<g transform="translate(701.1,1693.2)"><rect x="-6.15" y="-6.15" width="12.3" height="12.3" fill="#fff" stroke="#555" stroke-width="1.2"/><rect x="0" y="-6.75" width="6.75" height="13.5" fill="#000"/></g>
<g transform="translate(701.1,1719.0)"><rect x="-6.15" y="-6.15" width="12.3" height="12.3" fill="#fff" stroke="#555" stroke-width="1.2"/><rect x="0" y="-6.75" width="6.75" height="13.5" fill="#000"/></g>
<g transform="translate(698.8,1515.2)"><rect x="-6.15" y="-6.15" width="12.3" height="12.3" fill="#fff" stroke="#555" stroke-width="1.2"/><rect x="0" y="-6.75" width="6.75" height="13.5" fill="#000"/></g>
<g transform="translate(698.8,1632.2)"><rect x="-6.15" y="-6.15" width="12.3" height="12.3" fill="#fff" stroke="#555" stroke-width="1.2"/><rect x="0" y="-6.75" width="6.75" height="13.5" fill="#000"/></g>
<g transform="translate(698.8,1637.8)"><rect x="-6.15" y="-6.15" width="12.3" height="12.3" fill="#fff" stroke="#555" stroke-width="1.2"/><rect x="0" y="-6.75" width="6.75" height="13.5" fill="#000"/></g>
<g transform="translate(698.8,1644.5)"><rect x="-6.15" y="-6.15" width="12.3" height="12.3" fill="#fff" stroke="#555" stroke-width="1.2"/><rect x="0" y="-6.75" width="6.75" height="13.5" fill="#000"/></g>
<g transform="translate(698.8,1672.0)"><rect x="-6.15" y="-6.15" width="12.3" height="12.3" fill="#fff" stroke="#555" stroke-width="1.2"/><rect x="0" y="-6.75" width="6.75" height="13.5" fill="#000"/></g>
<g transform="translate(698.8,1732.4)"><rect x="-6.15" y="-6.15" width="12.3" height="12.3" fill="#fff" stroke="#555" stroke-width="1.2"/><rect x="0" y="-6.75" width="6.75" height="13.5" fill="#000"/></g>
<g transform="translate(696.6,1656.8)"><rect x="-6.15" y="-6.15" width="12.3" height="12.3" fill="#fff" stroke="#555" stroke-width="1.2"/><rect x="0" y="-6.75" width="6.75" height="13.5" fill="#000"/></g>
<g transform="translate(696.6,1692.1)"><rect x="-6.15" y="-6.15" width="12.3" height="12.3" fill="#fff" stroke="#555" stroke-width="1.2"/><rect x="0" y="-6.75" width="6.75" height="13.5" fill="#000"/></g>
<g transform="translate(696.6,1719.0)"><rect x="-6.15" y="-6.15" width="12.3" height="12.3" fill="#fff" stroke="#555" stroke-width="1.2"/><rect x="0" y="-6.75" width="6.75" height="13.5" fill="#000"/></g>
<g transform="translate(663.7,1757.6)"><rect x="-6.15" y="-6.15" width="12.3" height="12.3" fill="#fff" stroke="#555" stroke-width="1.2"/><rect x="0" y="-6.75" width="6.75" height="13.5" fill="#000"/></g>
<g transform="translate(661.4,1757.6)"><rect x="-6.15" y="-6.15" width="12.3" height="12.3" fill="#fff" stroke="#555" stroke-width="1.2"/><rect x="0" y="-6.75" width="6.75" height="13.5" fill="#000"/></g>
<line x1="123.00" y1="1392.50" x2="123.00" y2="1514.20" stroke="#000" stroke-width="3.0" />
<line x1="123.00" y1="1537.60" x2="123.00" y2="1758.00" stroke="#000" stroke-width="3.0" />
<line x1="115.70" y1="1509.50" x2="130.50" y2="1523.60" stroke="#000" stroke-width="2.6" />
<line x1="115.70" y1="1528.30" x2="130.50" y2="1543.10" stroke="#000" stroke-width="2.6" />
<line x1="110.50" y1="1394.00" x2="123.00" y2="1394.00" stroke="#000" stroke-width="3.0" />
<g transform="translate(107.50,1404.02) scale(1,1.04)"><text x="0" y="0" font-size="28" font-weight="normal" text-anchor="end"  > 500</text><path d="M763,0 L583,0 L583,1097.6 Q518,1038.3 465,1008.6 Q412,978.9 359,949.3 Q306,919.6 222,889.9 L222,1056.4 Q373,1124.3 429.5,1172.6 Q486,1220.9 542.5,1269.2 Q599,1317.6 646,1409 L763,1409 Z" transform="translate(-62.26,0.00) scale(0.01367,-0.01367)" fill="#000"/></g>
<line x1="110.50" y1="1437.00" x2="123.00" y2="1437.00" stroke="#000" stroke-width="3.0" />
<g transform="translate(107.50,1447.02) scale(1,1.04)"><text x="0" y="0" font-size="28" font-weight="normal" text-anchor="end"  > 000</text><path d="M763,0 L583,0 L583,1097.6 Q518,1038.3 465,1008.6 Q412,978.9 359,949.3 Q306,919.6 222,889.9 L222,1056.4 Q373,1124.3 429.5,1172.6 Q486,1220.9 542.5,1269.2 Q599,1317.6 646,1409 L763,1409 Z" transform="translate(-62.26,0.00) scale(0.01367,-0.01367)" fill="#000"/></g>
<line x1="110.50" y1="1479.10" x2="123.00" y2="1479.10" stroke="#000" stroke-width="3.0" />
<g transform="translate(107.50,1489.12) scale(1,1.04)"><text x="0" y="0" font-size="28" font-weight="normal" text-anchor="end"  >500</text></g>
<g transform="translate(107.50,1546.02) scale(1,1.04)"><text x="0" y="0" font-size="28" font-weight="normal" text-anchor="end"  >80</text></g>
<line x1="110.50" y1="1592.20" x2="123.00" y2="1592.20" stroke="#000" stroke-width="3.0" />
<g transform="translate(107.50,1602.22) scale(1,1.04)"><text x="0" y="0" font-size="28" font-weight="normal" text-anchor="end"  >60</text></g>
<line x1="110.50" y1="1647.60" x2="123.00" y2="1647.60" stroke="#000" stroke-width="3.0" />
<g transform="translate(107.50,1657.62) scale(1,1.04)"><text x="0" y="0" font-size="28" font-weight="normal" text-anchor="end"  >40</text></g>
<line x1="110.50" y1="1703.00" x2="123.00" y2="1703.00" stroke="#000" stroke-width="3.0" />
<g transform="translate(107.50,1713.02) scale(1,1.04)"><text x="0" y="0" font-size="28" font-weight="normal" text-anchor="end"  >20</text></g>
<g transform="translate(107.50,1768.02) scale(1,1.04)"><text x="0" y="0" font-size="28" font-weight="normal" text-anchor="end"  >0</text></g>
<line x1="109.50" y1="1758.00" x2="788.70" y2="1758.00" stroke="#000" stroke-width="3.0" />
<line x1="211.10" y1="1758.00" x2="211.10" y2="1771.50" stroke="#000" stroke-width="3.0" />
<line x1="343.80" y1="1758.00" x2="343.80" y2="1771.50" stroke="#000" stroke-width="3.0" />
<line x1="565.60" y1="1758.00" x2="565.60" y2="1771.50" stroke="#000" stroke-width="3.0" />
<line x1="698.80" y1="1758.00" x2="698.80" y2="1771.50" stroke="#000" stroke-width="3.0" />
<g transform="translate(211.10,1799.00) scale(1,1.04)"><text x="0" y="0" font-size="28" font-weight="normal" text-anchor="middle"  >Day 0</text></g>
<g transform="translate(343.80,1799.00) scale(1,1.04)"><text x="0" y="0" font-size="28" font-weight="normal" text-anchor="middle"  >Day 3</text></g>
<g transform="translate(565.60,1799.00) scale(1,1.04)"><text x="0" y="0" font-size="28" font-weight="normal" text-anchor="middle"  >Day 0</text></g>
<g transform="translate(698.80,1799.00) scale(1,1.04)"><text x="0" y="0" font-size="28" font-weight="normal" text-anchor="middle"  >Day 3</text></g>
<g transform="translate(276.30,1838.80) scale(1,1.04)"><text x="0" y="0" font-size="27.5" font-weight="bold" text-anchor="middle"  >Control (<tspan font-style="italic">n</tspan> = 50)</text></g>
<g transform="translate(640.70,1838.80) scale(1,1.04)"><text x="0" y="0" font-size="27.5" font-weight="bold" text-anchor="middle"  >Navax&#160;&#160;&#160;(<tspan font-style="italic">n</tspan> = 5 )</text><path d="M861,0 L580,0 L580,1017.8 Q426,879.4 217,813.1 L217,1058.2 Q327,1092.8 456,1188.9 Q585,1285 633,1409 L861,1409 Z" transform="translate(76.01,0.00) scale(0.01343,-0.01343)" fill="#000"/></g>
<text x="0" y="0" font-size="27.5" text-anchor="middle" transform="translate(24.0,1572.3) rotate(-90) scale(1,1.04)">TNF-α concentration (pg/mL)</text>
<line x1="208.40" y1="1381.80" x2="343.00" y2="1381.80" stroke="#000" stroke-width="1.3" />
<line x1="208.40" y1="1374.80" x2="208.40" y2="1388.80" stroke="#000" stroke-width="1.3" />
<line x1="343.00" y1="1374.80" x2="343.00" y2="1388.80" stroke="#000" stroke-width="1.3" />
<g transform="translate(275.70,1336.20) scale(1,1.04)"><text x="0" y="0" font-size="25.5" font-weight="bold" text-anchor="middle"  >20.3-fold</text></g>
<g transform="translate(275.70,1368.00) scale(1,1.04)"><text x="0" y="0" font-size="25.5" font-weight="normal" text-anchor="middle"  ><tspan font-style="italic">p</tspan> &lt;0.000 </text><path d="M763,0 L583,0 L583,1097.6 Q518,1038.3 465,1008.6 Q412,978.9 359,949.3 Q306,919.6 222,889.9 L222,1056.4 Q373,1124.3 429.5,1172.6 Q486,1220.9 542.5,1269.2 Q599,1317.6 646,1409 L763,1409 Z" transform="translate(42.87,0.00) scale(0.01245,-0.01245)" fill="#000"/></g>
<line x1="561.40" y1="1384.40" x2="696.00" y2="1384.40" stroke="#000" stroke-width="1.3" />
<line x1="561.40" y1="1377.40" x2="561.40" y2="1391.40" stroke="#000" stroke-width="1.3" />
<line x1="696.00" y1="1377.40" x2="696.00" y2="1391.40" stroke="#000" stroke-width="1.3" />
<g transform="translate(628.70,1334.70) scale(1,1.04)"><text x="0" y="0" font-size="25.5" font-weight="bold" text-anchor="middle"  >599.3-fold</text></g>
<g transform="translate(628.70,1368.80) scale(1,1.04)"><text x="0" y="0" font-size="25.5" font-weight="normal" text-anchor="middle"  ><tspan font-style="italic">p</tspan> &lt;0.000 </text><path d="M763,0 L583,0 L583,1097.6 Q518,1038.3 465,1008.6 Q412,978.9 359,949.3 Q306,919.6 222,889.9 L222,1056.4 Q373,1124.3 429.5,1172.6 Q486,1220.9 542.5,1269.2 Q599,1317.6 646,1409 L763,1409 Z" transform="translate(42.87,0.00) scale(0.01245,-0.01245)" fill="#000"/></g>
<rect x="660.8" y="1751.4" width="82.20000000000005" height="12.899999999999864" fill="#000"/>
<line x1="211.10" y1="1514.30" x2="211.10" y2="1666.00" stroke="#000" stroke-width="1.3" />
<line x1="187.75" y1="1514.30" x2="234.45" y2="1514.30" stroke="#000" stroke-width="1.3" />
<line x1="187.75" y1="1666.00" x2="234.45" y2="1666.00" stroke="#000" stroke-width="1.3" />
<line x1="343.80" y1="1673.60" x2="343.80" y2="1758.00" stroke="#000" stroke-width="1.3" />
<line x1="322.50" y1="1673.60" x2="365.10" y2="1673.60" stroke="#000" stroke-width="1.3" />
<line x1="322.50" y1="1758.00" x2="365.10" y2="1758.00" stroke="#000" stroke-width="1.3" />
<line x1="565.60" y1="1514.00" x2="565.60" y2="1668.00" stroke="#000" stroke-width="1.3" />
<line x1="565.60" y1="1514.00" x2="565.60" y2="1514.00" stroke="#000" stroke-width="1.3" />
<line x1="565.60" y1="1668.00" x2="565.60" y2="1668.00" stroke="#000" stroke-width="1.3" />
<line x1="698.80" y1="1719.90" x2="698.80" y2="1758.00" stroke="#000" stroke-width="1.3" />
<line x1="677.25" y1="1719.90" x2="720.35" y2="1719.90" stroke="#000" stroke-width="1.3" />
<line x1="677.25" y1="1758.00" x2="720.35" y2="1758.00" stroke="#000" stroke-width="1.3" />
<line x1="156.70" y1="1623.40" x2="266.40" y2="1623.40" stroke="#fb1c12" stroke-width="3.0" />
<line x1="289.00" y1="1750.10" x2="399.60" y2="1750.10" stroke="#fb1c12" stroke-width="3.0" />
<line x1="510.40" y1="1625.80" x2="620.90" y2="1625.80" stroke="#fb1c12" stroke-width="3.0" />
<line x1="643.60" y1="1757.00" x2="754.10" y2="1757.00" stroke="#fb1c12" stroke-width="3.0" />
<g transform="translate(14.90,1906.20) scale(1,1.04)"><text x="0" y="0" font-size="52" font-weight="bold" text-anchor="start"  >d</text></g>
<path d="M10.8,-36.8 H16.5 V0 H9.1 V-25.8 L0.3,-21.1 V-27.5 Q7.5,-30.5 10.8,-36.8 Z" transform="translate(50.9,1906.2)" fill="#000"/>
<circle cx="211.2" cy="2066.3" r="6.2" fill="none" stroke="#4a4a4a" stroke-width="1.0"/>
<circle cx="211.2" cy="2090.4" r="6.2" fill="none" stroke="#4a4a4a" stroke-width="1.0"/>
<circle cx="211.2" cy="2115.6" r="6.2" fill="none" stroke="#4a4a4a" stroke-width="1.0"/>
<circle cx="220.9" cy="2119.6" r="6.2" fill="none" stroke="#4a4a4a" stroke-width="1.0"/>
<circle cx="201.9" cy="2126.8" r="6.2" fill="none" stroke="#4a4a4a" stroke-width="1.0"/>
<circle cx="211.2" cy="2133.3" r="6.2" fill="none" stroke="#4a4a4a" stroke-width="1.0"/>
<circle cx="220.9" cy="2139.0" r="6.2" fill="none" stroke="#4a4a4a" stroke-width="1.0"/>
<circle cx="201.9" cy="2141.2" r="6.2" fill="none" stroke="#4a4a4a" stroke-width="1.0"/>
<circle cx="211.2" cy="2151.6" r="6.2" fill="none" stroke="#4a4a4a" stroke-width="1.0"/>
<circle cx="220.9" cy="2152.3" r="6.2" fill="none" stroke="#4a4a4a" stroke-width="1.0"/>
<circle cx="211.2" cy="2194.5" r="6.2" fill="none" stroke="#4a4a4a" stroke-width="1.0"/>
<circle cx="220.9" cy="2205.1" r="6.2" fill="none" stroke="#4a4a4a" stroke-width="1.0"/>
<circle cx="211.2" cy="2210.9" r="6.2" fill="none" stroke="#4a4a4a" stroke-width="1.0"/>
<circle cx="216.0" cy="2234.4" r="6.2" fill="none" stroke="#4a4a4a" stroke-width="1.0"/>
<circle cx="206.2" cy="2236.9" r="6.2" fill="none" stroke="#4a4a4a" stroke-width="1.0"/>
<circle cx="201.9" cy="2255.5" r="6.2" fill="none" stroke="#4a4a4a" stroke-width="1.0"/>
<circle cx="211.2" cy="2266.0" r="6.2" fill="none" stroke="#4a4a4a" stroke-width="1.0"/>
<circle cx="201.9" cy="2276.8" r="6.2" fill="none" stroke="#4a4a4a" stroke-width="1.0"/>
<circle cx="230.4" cy="2279.0" r="6.2" fill="none" stroke="#4a4a4a" stroke-width="1.0"/>
<circle cx="192.2" cy="2286.5" r="6.2" fill="none" stroke="#4a4a4a" stroke-width="1.0"/>
<circle cx="211.2" cy="2285.5" r="6.2" fill="none" stroke="#4a4a4a" stroke-width="1.0"/>
<circle cx="201.9" cy="2295.5" r="6.2" fill="none" stroke="#4a4a4a" stroke-width="1.0"/>
<circle cx="220.9" cy="2297.7" r="6.2" fill="none" stroke="#4a4a4a" stroke-width="1.0"/>
<circle cx="211.2" cy="2302.0" r="6.2" fill="none" stroke="#4a4a4a" stroke-width="1.0"/>
<circle cx="230.4" cy="2309.2" r="6.2" fill="none" stroke="#4a4a4a" stroke-width="1.0"/>
<circle cx="192.2" cy="2313.5" r="6.2" fill="none" stroke="#4a4a4a" stroke-width="1.0"/>
<circle cx="201.9" cy="2315.7" r="6.2" fill="none" stroke="#4a4a4a" stroke-width="1.0"/>
<circle cx="192.2" cy="2326.5" r="6.2" fill="none" stroke="#4a4a4a" stroke-width="1.0"/>
<circle cx="211.2" cy="2324.8" r="6.2" fill="none" stroke="#4a4a4a" stroke-width="1.0"/>
<circle cx="220.9" cy="2324.3" r="6.2" fill="none" stroke="#4a4a4a" stroke-width="1.0"/>
<circle cx="201.9" cy="2331.5" r="6.2" fill="none" stroke="#4a4a4a" stroke-width="1.0"/>
<circle cx="211.2" cy="2338.7" r="6.2" fill="none" stroke="#4a4a4a" stroke-width="1.0"/>
<circle cx="220.9" cy="2337.7" r="6.2" fill="none" stroke="#4a4a4a" stroke-width="1.0"/>
<circle cx="173.2" cy="2362.5" r="6.2" fill="none" stroke="#4a4a4a" stroke-width="1.0"/>
<circle cx="192.2" cy="2360.8" r="6.2" fill="none" stroke="#4a4a4a" stroke-width="1.0"/>
<circle cx="220.9" cy="2357.4" r="6.2" fill="none" stroke="#4a4a4a" stroke-width="1.0"/>
<circle cx="239.7" cy="2359.6" r="6.2" fill="none" stroke="#4a4a4a" stroke-width="1.0"/>
<circle cx="249.7" cy="2365.1" r="6.2" fill="none" stroke="#4a4a4a" stroke-width="1.0"/>
<circle cx="201.9" cy="2369.0" r="6.2" fill="none" stroke="#4a4a4a" stroke-width="1.0"/>
<circle cx="211.2" cy="2366.8" r="6.2" fill="none" stroke="#4a4a4a" stroke-width="1.0"/>
<circle cx="173.2" cy="2376.2" r="6.2" fill="none" stroke="#4a4a4a" stroke-width="1.0"/>
<circle cx="192.2" cy="2373.7" r="6.2" fill="none" stroke="#4a4a4a" stroke-width="1.0"/>
<circle cx="220.9" cy="2373.3" r="6.2" fill="none" stroke="#4a4a4a" stroke-width="1.0"/>
<circle cx="230.4" cy="2376.2" r="6.2" fill="none" stroke="#4a4a4a" stroke-width="1.0"/>
<circle cx="239.7" cy="2375.7" r="6.2" fill="none" stroke="#4a4a4a" stroke-width="1.0"/>
<circle cx="211.2" cy="2379.8" r="6.2" fill="none" stroke="#4a4a4a" stroke-width="1.0"/>
<circle cx="249.7" cy="2379.0" r="6.2" fill="none" stroke="#4a4a4a" stroke-width="1.0"/>
<circle cx="344.2" cy="2085.3" r="6.2" fill="none" stroke="#4a4a4a" stroke-width="1.0"/>
<circle cx="325.1" cy="2097.9" r="6.2" fill="none" stroke="#4a4a4a" stroke-width="1.0"/>
<circle cx="344.2" cy="2099.7" r="6.2" fill="none" stroke="#4a4a4a" stroke-width="1.0"/>
<circle cx="363.2" cy="2098.0" r="6.2" fill="none" stroke="#4a4a4a" stroke-width="1.0"/>
<circle cx="305.9" cy="2124.5" r="6.2" fill="none" stroke="#4a4a4a" stroke-width="1.0"/>
<circle cx="325.1" cy="2126.4" r="6.2" fill="none" stroke="#4a4a4a" stroke-width="1.0"/>
<circle cx="344.2" cy="2126.4" r="6.2" fill="none" stroke="#4a4a4a" stroke-width="1.0"/>
<circle cx="305.9" cy="2137.2" r="6.2" fill="none" stroke="#4a4a4a" stroke-width="1.0"/>
<circle cx="325.1" cy="2140.1" r="6.2" fill="none" stroke="#4a4a4a" stroke-width="1.0"/>
<circle cx="344.2" cy="2145.5" r="6.2" fill="none" stroke="#4a4a4a" stroke-width="1.0"/>
<circle cx="363.2" cy="2139.3" r="6.2" fill="none" stroke="#4a4a4a" stroke-width="1.0"/>
<circle cx="382.2" cy="2132.4" r="6.2" fill="none" stroke="#4a4a4a" stroke-width="1.0"/>
<circle cx="305.9" cy="2210.2" r="6.2" fill="none" stroke="#4a4a4a" stroke-width="1.0"/>
<circle cx="325.1" cy="2219.7" r="6.2" fill="none" stroke="#4a4a4a" stroke-width="1.0"/>
<circle cx="344.2" cy="2217.1" r="6.2" fill="none" stroke="#4a4a4a" stroke-width="1.0"/>
<circle cx="363.2" cy="2213.5" r="6.2" fill="none" stroke="#4a4a4a" stroke-width="1.0"/>
<circle cx="344.2" cy="2229.7" r="6.2" fill="none" stroke="#4a4a4a" stroke-width="1.0"/>
<circle cx="344.2" cy="2256.4" r="6.2" fill="none" stroke="#4a4a4a" stroke-width="1.0"/>
<circle cx="363.2" cy="2257.1" r="6.2" fill="none" stroke="#4a4a4a" stroke-width="1.0"/>
<circle cx="325.1" cy="2267.9" r="6.2" fill="none" stroke="#4a4a4a" stroke-width="1.0"/>
<circle cx="305.9" cy="2280.7" r="6.2" fill="none" stroke="#4a4a4a" stroke-width="1.0"/>
<circle cx="382.2" cy="2278.3" r="6.2" fill="none" stroke="#4a4a4a" stroke-width="1.0"/>
<circle cx="325.1" cy="2289.1" r="6.2" fill="none" stroke="#4a4a4a" stroke-width="1.0"/>
<circle cx="344.2" cy="2291.7" r="6.2" fill="none" stroke="#4a4a4a" stroke-width="1.0"/>
<circle cx="363.2" cy="2286.2" r="6.2" fill="none" stroke="#4a4a4a" stroke-width="1.0"/>
<circle cx="382.2" cy="2293.7" r="6.2" fill="none" stroke="#4a4a4a" stroke-width="1.0"/>
<circle cx="305.9" cy="2302.7" r="6.2" fill="none" stroke="#4a4a4a" stroke-width="1.0"/>
<circle cx="325.1" cy="2304.2" r="6.2" fill="none" stroke="#4a4a4a" stroke-width="1.0"/>
<circle cx="363.2" cy="2308.9" r="6.2" fill="none" stroke="#4a4a4a" stroke-width="1.0"/>
<circle cx="344.2" cy="2314.3" r="6.2" fill="none" stroke="#4a4a4a" stroke-width="1.0"/>
<circle cx="305.9" cy="2318.9" r="6.2" fill="none" stroke="#4a4a4a" stroke-width="1.0"/>
<circle cx="382.2" cy="2320.0" r="6.2" fill="none" stroke="#4a4a4a" stroke-width="1.0"/>
<circle cx="325.1" cy="2325.8" r="6.2" fill="none" stroke="#4a4a4a" stroke-width="1.0"/>
<circle cx="344.2" cy="2328.7" r="6.2" fill="none" stroke="#4a4a4a" stroke-width="1.0"/>
<circle cx="363.2" cy="2336.6" r="6.2" fill="none" stroke="#4a4a4a" stroke-width="1.0"/>
<circle cx="305.9" cy="2342.3" r="6.2" fill="none" stroke="#4a4a4a" stroke-width="1.0"/>
<circle cx="325.1" cy="2339.9" r="6.2" fill="none" stroke="#4a4a4a" stroke-width="1.0"/>
<circle cx="344.2" cy="2345.2" r="6.2" fill="none" stroke="#4a4a4a" stroke-width="1.0"/>
<circle cx="382.2" cy="2348.1" r="6.2" fill="none" stroke="#4a4a4a" stroke-width="1.0"/>
<circle cx="325.1" cy="2353.8" r="6.2" fill="none" stroke="#4a4a4a" stroke-width="1.0"/>
<circle cx="344.2" cy="2358.2" r="6.2" fill="none" stroke="#4a4a4a" stroke-width="1.0"/>
<circle cx="363.2" cy="2358.9" r="6.2" fill="none" stroke="#4a4a4a" stroke-width="1.0"/>
<circle cx="325.1" cy="2367.5" r="6.2" fill="none" stroke="#4a4a4a" stroke-width="1.0"/>
<circle cx="344.2" cy="2376.9" r="6.2" fill="none" stroke="#4a4a4a" stroke-width="1.0"/>
<circle cx="363.2" cy="2374.0" r="6.2" fill="none" stroke="#4a4a4a" stroke-width="1.0"/>
<circle cx="305.9" cy="2381.5" r="6.2" fill="none" stroke="#4a4a4a" stroke-width="1.0"/>
<circle cx="382.2" cy="2383.4" r="6.2" fill="none" stroke="#4a4a4a" stroke-width="1.0"/>
<g transform="translate(604.4,2254.2)"><rect x="-6.15" y="-6.15" width="12.3" height="12.3" fill="#fff" stroke="#555" stroke-width="1.2"/><rect x="0" y="-6.75" width="6.75" height="13.5" fill="#000"/></g>
<g transform="translate(604.4,2352.1)"><rect x="-6.15" y="-6.15" width="12.3" height="12.3" fill="#fff" stroke="#555" stroke-width="1.2"/><rect x="0" y="-6.75" width="6.75" height="13.5" fill="#000"/></g>
<g transform="translate(591.8,2252.4)"><rect x="-6.15" y="-6.15" width="12.3" height="12.3" fill="#fff" stroke="#555" stroke-width="1.2"/><rect x="0" y="-6.75" width="6.75" height="13.5" fill="#000"/></g>
<g transform="translate(591.8,2302.3)"><rect x="-6.15" y="-6.15" width="12.3" height="12.3" fill="#fff" stroke="#555" stroke-width="1.2"/><rect x="0" y="-6.75" width="6.75" height="13.5" fill="#000"/></g>
<g transform="translate(591.8,2314.9)"><rect x="-6.15" y="-6.15" width="12.3" height="12.3" fill="#fff" stroke="#555" stroke-width="1.2"/><rect x="0" y="-6.75" width="6.75" height="13.5" fill="#000"/></g>
<g transform="translate(591.8,2347.3)"><rect x="-6.15" y="-6.15" width="12.3" height="12.3" fill="#fff" stroke="#555" stroke-width="1.2"/><rect x="0" y="-6.75" width="6.75" height="13.5" fill="#000"/></g>
<g transform="translate(591.8,2360.5)"><rect x="-6.15" y="-6.15" width="12.3" height="12.3" fill="#fff" stroke="#555" stroke-width="1.2"/><rect x="0" y="-6.75" width="6.75" height="13.5" fill="#000"/></g>
<g transform="translate(591.8,2373.7)"><rect x="-6.15" y="-6.15" width="12.3" height="12.3" fill="#fff" stroke="#555" stroke-width="1.2"/><rect x="0" y="-6.75" width="6.75" height="13.5" fill="#000"/></g>
<g transform="translate(578.6,2114.2)"><rect x="-6.15" y="-6.15" width="12.3" height="12.3" fill="#fff" stroke="#555" stroke-width="1.2"/><rect x="0" y="-6.75" width="6.75" height="13.5" fill="#000"/></g>
<g transform="translate(578.6,2145.0)"><rect x="-6.15" y="-6.15" width="12.3" height="12.3" fill="#fff" stroke="#555" stroke-width="1.2"/><rect x="0" y="-6.75" width="6.75" height="13.5" fill="#000"/></g>
<g transform="translate(578.6,2203.0)"><rect x="-6.15" y="-6.15" width="12.3" height="12.3" fill="#fff" stroke="#555" stroke-width="1.2"/><rect x="0" y="-6.75" width="6.75" height="13.5" fill="#000"/></g>
<g transform="translate(578.6,2247.0)"><rect x="-6.15" y="-6.15" width="12.3" height="12.3" fill="#fff" stroke="#555" stroke-width="1.2"/><rect x="0" y="-6.75" width="6.75" height="13.5" fill="#000"/></g>
<g transform="translate(578.6,2260.8)"><rect x="-6.15" y="-6.15" width="12.3" height="12.3" fill="#fff" stroke="#555" stroke-width="1.2"/><rect x="0" y="-6.75" width="6.75" height="13.5" fill="#000"/></g>
<g transform="translate(578.6,2277.0)"><rect x="-6.15" y="-6.15" width="12.3" height="12.3" fill="#fff" stroke="#555" stroke-width="1.2"/><rect x="0" y="-6.75" width="6.75" height="13.5" fill="#000"/></g>
<g transform="translate(578.6,2292.1)"><rect x="-6.15" y="-6.15" width="12.3" height="12.3" fill="#fff" stroke="#555" stroke-width="1.2"/><rect x="0" y="-6.75" width="6.75" height="13.5" fill="#000"/></g>
<g transform="translate(578.6,2314.9)"><rect x="-6.15" y="-6.15" width="12.3" height="12.3" fill="#fff" stroke="#555" stroke-width="1.2"/><rect x="0" y="-6.75" width="6.75" height="13.5" fill="#000"/></g>
<g transform="translate(578.6,2359.3)"><rect x="-6.15" y="-6.15" width="12.3" height="12.3" fill="#fff" stroke="#555" stroke-width="1.2"/><rect x="0" y="-6.75" width="6.75" height="13.5" fill="#000"/></g>
<g transform="translate(578.6,2373.1)"><rect x="-6.15" y="-6.15" width="12.3" height="12.3" fill="#fff" stroke="#555" stroke-width="1.2"/><rect x="0" y="-6.75" width="6.75" height="13.5" fill="#000"/></g>
<g transform="translate(578.6,2386.3)"><rect x="-6.15" y="-6.15" width="12.3" height="12.3" fill="#fff" stroke="#555" stroke-width="1.2"/><rect x="0" y="-6.75" width="6.75" height="13.5" fill="#000"/></g>
<g transform="translate(572.0,2333.5)"><rect x="-6.15" y="-6.15" width="12.3" height="12.3" fill="#fff" stroke="#555" stroke-width="1.2"/><rect x="0" y="-6.75" width="6.75" height="13.5" fill="#000"/></g>
<g transform="translate(565.8,2127.0)"><rect x="-6.15" y="-6.15" width="12.3" height="12.3" fill="#fff" stroke="#555" stroke-width="1.2"/><rect x="0" y="-6.75" width="6.75" height="13.5" fill="#000"/></g>
<g transform="translate(565.8,2143.8)"><rect x="-6.15" y="-6.15" width="12.3" height="12.3" fill="#fff" stroke="#555" stroke-width="1.2"/><rect x="0" y="-6.75" width="6.75" height="13.5" fill="#000"/></g>
<g transform="translate(565.8,2180.8)"><rect x="-6.15" y="-6.15" width="12.3" height="12.3" fill="#fff" stroke="#555" stroke-width="1.2"/><rect x="0" y="-6.75" width="6.75" height="13.5" fill="#000"/></g>
<g transform="translate(565.8,2206.6)"><rect x="-6.15" y="-6.15" width="12.3" height="12.3" fill="#fff" stroke="#555" stroke-width="1.2"/><rect x="0" y="-6.75" width="6.75" height="13.5" fill="#000"/></g>
<g transform="translate(565.8,2223.6)"><rect x="-6.15" y="-6.15" width="12.3" height="12.3" fill="#fff" stroke="#555" stroke-width="1.2"/><rect x="0" y="-6.75" width="6.75" height="13.5" fill="#000"/></g>
<g transform="translate(565.8,2254.8)"><rect x="-6.15" y="-6.15" width="12.3" height="12.3" fill="#fff" stroke="#555" stroke-width="1.2"/><rect x="0" y="-6.75" width="6.75" height="13.5" fill="#000"/></g>
<g transform="translate(565.8,2277.6)"><rect x="-6.15" y="-6.15" width="12.3" height="12.3" fill="#fff" stroke="#555" stroke-width="1.2"/><rect x="0" y="-6.75" width="6.75" height="13.5" fill="#000"/></g>
<g transform="translate(565.8,2316.1)"><rect x="-6.15" y="-6.15" width="12.3" height="12.3" fill="#fff" stroke="#555" stroke-width="1.2"/><rect x="0" y="-6.75" width="6.75" height="13.5" fill="#000"/></g>
<g transform="translate(565.8,2352.7)"><rect x="-6.15" y="-6.15" width="12.3" height="12.3" fill="#fff" stroke="#555" stroke-width="1.2"/><rect x="0" y="-6.75" width="6.75" height="13.5" fill="#000"/></g>
<g transform="translate(565.8,2364.7)"><rect x="-6.15" y="-6.15" width="12.3" height="12.3" fill="#fff" stroke="#555" stroke-width="1.2"/><rect x="0" y="-6.75" width="6.75" height="13.5" fill="#000"/></g>
<g transform="translate(565.8,2383.9)"><rect x="-6.15" y="-6.15" width="12.3" height="12.3" fill="#fff" stroke="#555" stroke-width="1.2"/><rect x="0" y="-6.75" width="6.75" height="13.5" fill="#000"/></g>
<g transform="translate(559.7,2328.1)"><rect x="-6.15" y="-6.15" width="12.3" height="12.3" fill="#fff" stroke="#555" stroke-width="1.2"/><rect x="0" y="-6.75" width="6.75" height="13.5" fill="#000"/></g>
<g transform="translate(553.2,2122.8)"><rect x="-6.15" y="-6.15" width="12.3" height="12.3" fill="#fff" stroke="#555" stroke-width="1.2"/><rect x="0" y="-6.75" width="6.75" height="13.5" fill="#000"/></g>
<g transform="translate(553.2,2136.0)"><rect x="-6.15" y="-6.15" width="12.3" height="12.3" fill="#fff" stroke="#555" stroke-width="1.2"/><rect x="0" y="-6.75" width="6.75" height="13.5" fill="#000"/></g>
<g transform="translate(553.2,2151.4)"><rect x="-6.15" y="-6.15" width="12.3" height="12.3" fill="#fff" stroke="#555" stroke-width="1.2"/><rect x="0" y="-6.75" width="6.75" height="13.5" fill="#000"/></g>
<g transform="translate(553.2,2196.6)"><rect x="-6.15" y="-6.15" width="12.3" height="12.3" fill="#fff" stroke="#555" stroke-width="1.2"/><rect x="0" y="-6.75" width="6.75" height="13.5" fill="#000"/></g>
<g transform="translate(553.2,2257.8)"><rect x="-6.15" y="-6.15" width="12.3" height="12.3" fill="#fff" stroke="#555" stroke-width="1.2"/><rect x="0" y="-6.75" width="6.75" height="13.5" fill="#000"/></g>
<g transform="translate(553.2,2283.7)"><rect x="-6.15" y="-6.15" width="12.3" height="12.3" fill="#fff" stroke="#555" stroke-width="1.2"/><rect x="0" y="-6.75" width="6.75" height="13.5" fill="#000"/></g>
<g transform="translate(553.2,2310.1)"><rect x="-6.15" y="-6.15" width="12.3" height="12.3" fill="#fff" stroke="#555" stroke-width="1.2"/><rect x="0" y="-6.75" width="6.75" height="13.5" fill="#000"/></g>
<g transform="translate(553.2,2355.1)"><rect x="-6.15" y="-6.15" width="12.3" height="12.3" fill="#fff" stroke="#555" stroke-width="1.2"/><rect x="0" y="-6.75" width="6.75" height="13.5" fill="#000"/></g>
<g transform="translate(553.2,2376.1)"><rect x="-6.15" y="-6.15" width="12.3" height="12.3" fill="#fff" stroke="#555" stroke-width="1.2"/><rect x="0" y="-6.75" width="6.75" height="13.5" fill="#000"/></g>
<g transform="translate(553.2,2388.7)"><rect x="-6.15" y="-6.15" width="12.3" height="12.3" fill="#fff" stroke="#555" stroke-width="1.2"/><rect x="0" y="-6.75" width="6.75" height="13.5" fill="#000"/></g>
<g transform="translate(540.5,2139.4)"><rect x="-6.15" y="-6.15" width="12.3" height="12.3" fill="#fff" stroke="#555" stroke-width="1.2"/><rect x="0" y="-6.75" width="6.75" height="13.5" fill="#000"/></g>
<g transform="translate(540.5,2254.0)"><rect x="-6.15" y="-6.15" width="12.3" height="12.3" fill="#fff" stroke="#555" stroke-width="1.2"/><rect x="0" y="-6.75" width="6.75" height="13.5" fill="#000"/></g>
<g transform="translate(540.5,2313.1)"><rect x="-6.15" y="-6.15" width="12.3" height="12.3" fill="#fff" stroke="#555" stroke-width="1.2"/><rect x="0" y="-6.75" width="6.75" height="13.5" fill="#000"/></g>
<g transform="translate(540.5,2350.3)"><rect x="-6.15" y="-6.15" width="12.3" height="12.3" fill="#fff" stroke="#555" stroke-width="1.2"/><rect x="0" y="-6.75" width="6.75" height="13.5" fill="#000"/></g>
<g transform="translate(540.5,2364.1)"><rect x="-6.15" y="-6.15" width="12.3" height="12.3" fill="#fff" stroke="#555" stroke-width="1.2"/><rect x="0" y="-6.75" width="6.75" height="13.5" fill="#000"/></g>
<g transform="translate(527.8,2351.5)"><rect x="-6.15" y="-6.15" width="12.3" height="12.3" fill="#fff" stroke="#555" stroke-width="1.2"/><rect x="0" y="-6.75" width="6.75" height="13.5" fill="#000"/></g>
<g transform="translate(737.0,2125.2)"><rect x="-6.15" y="-6.15" width="12.3" height="12.3" fill="#fff" stroke="#555" stroke-width="1.2"/><rect x="0" y="-6.75" width="6.75" height="13.5" fill="#000"/></g>
<g transform="translate(737.0,2143.2)"><rect x="-6.15" y="-6.15" width="12.3" height="12.3" fill="#fff" stroke="#555" stroke-width="1.2"/><rect x="0" y="-6.75" width="6.75" height="13.5" fill="#000"/></g>
<g transform="translate(737.0,2340.7)"><rect x="-6.15" y="-6.15" width="12.3" height="12.3" fill="#fff" stroke="#555" stroke-width="1.2"/><rect x="0" y="-6.75" width="6.75" height="13.5" fill="#000"/></g>
<g transform="translate(724.4,2124.6)"><rect x="-6.15" y="-6.15" width="12.3" height="12.3" fill="#fff" stroke="#555" stroke-width="1.2"/><rect x="0" y="-6.75" width="6.75" height="13.5" fill="#000"/></g>
<g transform="translate(724.4,2183.8)"><rect x="-6.15" y="-6.15" width="12.3" height="12.3" fill="#fff" stroke="#555" stroke-width="1.2"/><rect x="0" y="-6.75" width="6.75" height="13.5" fill="#000"/></g>
<g transform="translate(724.4,2212.6)"><rect x="-6.15" y="-6.15" width="12.3" height="12.3" fill="#fff" stroke="#555" stroke-width="1.2"/><rect x="0" y="-6.75" width="6.75" height="13.5" fill="#000"/></g>
<g transform="translate(724.4,2228.4)"><rect x="-6.15" y="-6.15" width="12.3" height="12.3" fill="#fff" stroke="#555" stroke-width="1.2"/><rect x="0" y="-6.75" width="6.75" height="13.5" fill="#000"/></g>
<g transform="translate(724.4,2320.9)"><rect x="-6.15" y="-6.15" width="12.3" height="12.3" fill="#fff" stroke="#555" stroke-width="1.2"/><rect x="0" y="-6.75" width="6.75" height="13.5" fill="#000"/></g>
<g transform="translate(724.4,2334.7)"><rect x="-6.15" y="-6.15" width="12.3" height="12.3" fill="#fff" stroke="#555" stroke-width="1.2"/><rect x="0" y="-6.75" width="6.75" height="13.5" fill="#000"/></g>
<g transform="translate(724.4,2349.1)"><rect x="-6.15" y="-6.15" width="12.3" height="12.3" fill="#fff" stroke="#555" stroke-width="1.2"/><rect x="0" y="-6.75" width="6.75" height="13.5" fill="#000"/></g>
<g transform="translate(711.6,2131.8)"><rect x="-6.15" y="-6.15" width="12.3" height="12.3" fill="#fff" stroke="#555" stroke-width="1.2"/><rect x="0" y="-6.75" width="6.75" height="13.5" fill="#000"/></g>
<g transform="translate(711.6,2147.1)"><rect x="-6.15" y="-6.15" width="12.3" height="12.3" fill="#fff" stroke="#555" stroke-width="1.2"/><rect x="0" y="-6.75" width="6.75" height="13.5" fill="#000"/></g>
<g transform="translate(711.6,2182.8)"><rect x="-6.15" y="-6.15" width="12.3" height="12.3" fill="#fff" stroke="#555" stroke-width="1.2"/><rect x="0" y="-6.75" width="6.75" height="13.5" fill="#000"/></g>
<g transform="translate(711.6,2194.8)"><rect x="-6.15" y="-6.15" width="12.3" height="12.3" fill="#fff" stroke="#555" stroke-width="1.2"/><rect x="0" y="-6.75" width="6.75" height="13.5" fill="#000"/></g>
<g transform="translate(711.6,2233.8)"><rect x="-6.15" y="-6.15" width="12.3" height="12.3" fill="#fff" stroke="#555" stroke-width="1.2"/><rect x="0" y="-6.75" width="6.75" height="13.5" fill="#000"/></g>
<g transform="translate(711.6,2313.1)"><rect x="-6.15" y="-6.15" width="12.3" height="12.3" fill="#fff" stroke="#555" stroke-width="1.2"/><rect x="0" y="-6.75" width="6.75" height="13.5" fill="#000"/></g>
<g transform="translate(711.6,2326.9)"><rect x="-6.15" y="-6.15" width="12.3" height="12.3" fill="#fff" stroke="#555" stroke-width="1.2"/><rect x="0" y="-6.75" width="6.75" height="13.5" fill="#000"/></g>
<g transform="translate(711.6,2348.5)"><rect x="-6.15" y="-6.15" width="12.3" height="12.3" fill="#fff" stroke="#555" stroke-width="1.2"/><rect x="0" y="-6.75" width="6.75" height="13.5" fill="#000"/></g>
<g transform="translate(711.6,2361.1)"><rect x="-6.15" y="-6.15" width="12.3" height="12.3" fill="#fff" stroke="#555" stroke-width="1.2"/><rect x="0" y="-6.75" width="6.75" height="13.5" fill="#000"/></g>
<g transform="translate(711.6,2381.5)"><rect x="-6.15" y="-6.15" width="12.3" height="12.3" fill="#fff" stroke="#555" stroke-width="1.2"/><rect x="0" y="-6.75" width="6.75" height="13.5" fill="#000"/></g>
<g transform="translate(698.9,2119.8)"><rect x="-6.15" y="-6.15" width="12.3" height="12.3" fill="#fff" stroke="#555" stroke-width="1.2"/><rect x="0" y="-6.75" width="6.75" height="13.5" fill="#000"/></g>
<g transform="translate(698.9,2134.8)"><rect x="-6.15" y="-6.15" width="12.3" height="12.3" fill="#fff" stroke="#555" stroke-width="1.2"/><rect x="0" y="-6.75" width="6.75" height="13.5" fill="#000"/></g>
<g transform="translate(698.9,2149.2)"><rect x="-6.15" y="-6.15" width="12.3" height="12.3" fill="#fff" stroke="#555" stroke-width="1.2"/><rect x="0" y="-6.75" width="6.75" height="13.5" fill="#000"/></g>
<g transform="translate(698.9,2194.8)"><rect x="-6.15" y="-6.15" width="12.3" height="12.3" fill="#fff" stroke="#555" stroke-width="1.2"/><rect x="0" y="-6.75" width="6.75" height="13.5" fill="#000"/></g>
<g transform="translate(698.9,2212.2)"><rect x="-6.15" y="-6.15" width="12.3" height="12.3" fill="#fff" stroke="#555" stroke-width="1.2"/><rect x="0" y="-6.75" width="6.75" height="13.5" fill="#000"/></g>
<g transform="translate(698.9,2237.4)"><rect x="-6.15" y="-6.15" width="12.3" height="12.3" fill="#fff" stroke="#555" stroke-width="1.2"/><rect x="0" y="-6.75" width="6.75" height="13.5" fill="#000"/></g>
<g transform="translate(698.9,2316.1)"><rect x="-6.15" y="-6.15" width="12.3" height="12.3" fill="#fff" stroke="#555" stroke-width="1.2"/><rect x="0" y="-6.75" width="6.75" height="13.5" fill="#000"/></g>
<g transform="translate(698.9,2331.1)"><rect x="-6.15" y="-6.15" width="12.3" height="12.3" fill="#fff" stroke="#555" stroke-width="1.2"/><rect x="0" y="-6.75" width="6.75" height="13.5" fill="#000"/></g>
<g transform="translate(698.9,2352.1)"><rect x="-6.15" y="-6.15" width="12.3" height="12.3" fill="#fff" stroke="#555" stroke-width="1.2"/><rect x="0" y="-6.75" width="6.75" height="13.5" fill="#000"/></g>
<g transform="translate(698.9,2371.3)"><rect x="-6.15" y="-6.15" width="12.3" height="12.3" fill="#fff" stroke="#555" stroke-width="1.2"/><rect x="0" y="-6.75" width="6.75" height="13.5" fill="#000"/></g>
<g transform="translate(686.0,2134.2)"><rect x="-6.15" y="-6.15" width="12.3" height="12.3" fill="#fff" stroke="#555" stroke-width="1.2"/><rect x="0" y="-6.75" width="6.75" height="13.5" fill="#000"/></g>
<g transform="translate(686.0,2146.2)"><rect x="-6.15" y="-6.15" width="12.3" height="12.3" fill="#fff" stroke="#555" stroke-width="1.2"/><rect x="0" y="-6.75" width="6.75" height="13.5" fill="#000"/></g>
<g transform="translate(686.0,2186.7)"><rect x="-6.15" y="-6.15" width="12.3" height="12.3" fill="#fff" stroke="#555" stroke-width="1.2"/><rect x="0" y="-6.75" width="6.75" height="13.5" fill="#000"/></g>
<g transform="translate(686.0,2219.4)"><rect x="-6.15" y="-6.15" width="12.3" height="12.3" fill="#fff" stroke="#555" stroke-width="1.2"/><rect x="0" y="-6.75" width="6.75" height="13.5" fill="#000"/></g>
<g transform="translate(686.0,2238.0)"><rect x="-6.15" y="-6.15" width="12.3" height="12.3" fill="#fff" stroke="#555" stroke-width="1.2"/><rect x="0" y="-6.75" width="6.75" height="13.5" fill="#000"/></g>
<g transform="translate(686.0,2317.3)"><rect x="-6.15" y="-6.15" width="12.3" height="12.3" fill="#fff" stroke="#555" stroke-width="1.2"/><rect x="0" y="-6.75" width="6.75" height="13.5" fill="#000"/></g>
<g transform="translate(686.0,2341.3)"><rect x="-6.15" y="-6.15" width="12.3" height="12.3" fill="#fff" stroke="#555" stroke-width="1.2"/><rect x="0" y="-6.75" width="6.75" height="13.5" fill="#000"/></g>
<g transform="translate(686.0,2357.5)"><rect x="-6.15" y="-6.15" width="12.3" height="12.3" fill="#fff" stroke="#555" stroke-width="1.2"/><rect x="0" y="-6.75" width="6.75" height="13.5" fill="#000"/></g>
<g transform="translate(686.0,2389.9)"><rect x="-6.15" y="-6.15" width="12.3" height="12.3" fill="#fff" stroke="#555" stroke-width="1.2"/><rect x="0" y="-6.75" width="6.75" height="13.5" fill="#000"/></g>
<g transform="translate(673.4,2123.4)"><rect x="-6.15" y="-6.15" width="12.3" height="12.3" fill="#fff" stroke="#555" stroke-width="1.2"/><rect x="0" y="-6.75" width="6.75" height="13.5" fill="#000"/></g>
<g transform="translate(673.4,2143.2)"><rect x="-6.15" y="-6.15" width="12.3" height="12.3" fill="#fff" stroke="#555" stroke-width="1.2"/><rect x="0" y="-6.75" width="6.75" height="13.5" fill="#000"/></g>
<g transform="translate(673.4,2215.8)"><rect x="-6.15" y="-6.15" width="12.3" height="12.3" fill="#fff" stroke="#555" stroke-width="1.2"/><rect x="0" y="-6.75" width="6.75" height="13.5" fill="#000"/></g>
<g transform="translate(673.4,2317.9)"><rect x="-6.15" y="-6.15" width="12.3" height="12.3" fill="#fff" stroke="#555" stroke-width="1.2"/><rect x="0" y="-6.75" width="6.75" height="13.5" fill="#000"/></g>
<g transform="translate(673.4,2329.9)"><rect x="-6.15" y="-6.15" width="12.3" height="12.3" fill="#fff" stroke="#555" stroke-width="1.2"/><rect x="0" y="-6.75" width="6.75" height="13.5" fill="#000"/></g>
<g transform="translate(673.4,2347.3)"><rect x="-6.15" y="-6.15" width="12.3" height="12.3" fill="#fff" stroke="#555" stroke-width="1.2"/><rect x="0" y="-6.75" width="6.75" height="13.5" fill="#000"/></g>
<g transform="translate(660.8,2128.2)"><rect x="-6.15" y="-6.15" width="12.3" height="12.3" fill="#fff" stroke="#555" stroke-width="1.2"/><rect x="0" y="-6.75" width="6.75" height="13.5" fill="#000"/></g>
<g transform="translate(660.8,2140.8)"><rect x="-6.15" y="-6.15" width="12.3" height="12.3" fill="#fff" stroke="#555" stroke-width="1.2"/><rect x="0" y="-6.75" width="6.75" height="13.5" fill="#000"/></g>
<g transform="translate(660.8,2352.1)"><rect x="-6.15" y="-6.15" width="12.3" height="12.3" fill="#fff" stroke="#555" stroke-width="1.2"/><rect x="0" y="-6.75" width="6.75" height="13.5" fill="#000"/></g>
<line x1="122.80" y1="2028.50" x2="122.80" y2="2150.80" stroke="#000" stroke-width="3.0" />
<line x1="122.80" y1="2171.60" x2="122.80" y2="2394.80" stroke="#000" stroke-width="3.0" />
<line x1="115.20" y1="2146.00" x2="131.20" y2="2161.20" stroke="#000" stroke-width="2.6" />
<line x1="115.20" y1="2164.40" x2="131.20" y2="2179.60" stroke="#000" stroke-width="2.6" />
<line x1="110.30" y1="2030.00" x2="122.80" y2="2030.00" stroke="#000" stroke-width="3.0" />
<g transform="translate(107.30,2040.02) scale(1,1.04)"><text x="0" y="0" font-size="28" font-weight="normal" text-anchor="end"  >45</text></g>
<line x1="110.30" y1="2071.10" x2="122.80" y2="2071.10" stroke="#000" stroke-width="3.0" />
<g transform="translate(107.30,2081.12) scale(1,1.04)"><text x="0" y="0" font-size="28" font-weight="normal" text-anchor="end"  >35</text></g>
<line x1="110.30" y1="2111.10" x2="122.80" y2="2111.10" stroke="#000" stroke-width="3.0" />
<g transform="translate(107.30,2121.12) scale(1,1.04)"><text x="0" y="0" font-size="28" font-weight="normal" text-anchor="end"  >25</text></g>
<g transform="translate(107.30,2184.02) scale(1,1.04)"><text x="0" y="0" font-size="28" font-weight="normal" text-anchor="end"  > 5</text><path d="M763,0 L583,0 L583,1097.6 Q518,1038.3 465,1008.6 Q412,978.9 359,949.3 Q306,919.6 222,889.9 L222,1056.4 Q373,1124.3 429.5,1172.6 Q486,1220.9 542.5,1269.2 Q599,1317.6 646,1409 L763,1409 Z" transform="translate(-31.14,0.00) scale(0.01367,-0.01367)" fill="#000"/></g>
<line x1="110.30" y1="2247.60" x2="122.80" y2="2247.60" stroke="#000" stroke-width="3.0" />
<g transform="translate(107.30,2257.62) scale(1,1.04)"><text x="0" y="0" font-size="28" font-weight="normal" text-anchor="end"  > 0</text><path d="M763,0 L583,0 L583,1097.6 Q518,1038.3 465,1008.6 Q412,978.9 359,949.3 Q306,919.6 222,889.9 L222,1056.4 Q373,1124.3 429.5,1172.6 Q486,1220.9 542.5,1269.2 Q599,1317.6 646,1409 L763,1409 Z" transform="translate(-31.14,0.00) scale(0.01367,-0.01367)" fill="#000"/></g>
<line x1="110.30" y1="2321.20" x2="122.80" y2="2321.20" stroke="#000" stroke-width="3.0" />
<g transform="translate(107.30,2331.22) scale(1,1.04)"><text x="0" y="0" font-size="28" font-weight="normal" text-anchor="end"  >5</text></g>
<g transform="translate(107.30,2404.82) scale(1,1.04)"><text x="0" y="0" font-size="28" font-weight="normal" text-anchor="end"  >0</text></g>
<line x1="109.30" y1="2394.80" x2="788.70" y2="2394.80" stroke="#000" stroke-width="3.0" />
<line x1="211.10" y1="2394.80" x2="211.10" y2="2408.30" stroke="#000" stroke-width="3.0" />
<line x1="344.30" y1="2394.80" x2="344.30" y2="2408.30" stroke="#000" stroke-width="3.0" />
<line x1="565.60" y1="2394.80" x2="565.60" y2="2408.30" stroke="#000" stroke-width="3.0" />
<line x1="698.80" y1="2394.80" x2="698.80" y2="2408.30" stroke="#000" stroke-width="3.0" />
<g transform="translate(211.10,2435.80) scale(1,1.04)"><text x="0" y="0" font-size="28" font-weight="normal" text-anchor="middle"  >Day 0</text></g>
<g transform="translate(344.30,2435.80) scale(1,1.04)"><text x="0" y="0" font-size="28" font-weight="normal" text-anchor="middle"  >Day 3</text></g>
<g transform="translate(565.60,2435.80) scale(1,1.04)"><text x="0" y="0" font-size="28" font-weight="normal" text-anchor="middle"  >Day 0</text></g>
<g transform="translate(698.80,2435.80) scale(1,1.04)"><text x="0" y="0" font-size="28" font-weight="normal" text-anchor="middle"  >Day 3</text></g>
<g transform="translate(281.90,2479.50) scale(1,1.04)"><text x="0" y="0" font-size="27.5" font-weight="bold" text-anchor="middle"  >Control (<tspan font-style="italic">n</tspan> = 50)</text></g>
<g transform="translate(641.20,2479.50) scale(1,1.04)"><text x="0" y="0" font-size="27.5" font-weight="bold" text-anchor="middle"  >Navax (<tspan font-style="italic">n</tspan> = 50)</text></g>
<text x="0" y="0" font-size="27.9" text-anchor="middle" transform="translate(46.7,2208.9) rotate(-90) scale(1,1.04)">IgA concentration (μg/mL)</text>
<line x1="210.80" y1="2041.40" x2="344.10" y2="2041.40" stroke="#000" stroke-width="1.3" />
<line x1="210.80" y1="2034.40" x2="210.80" y2="2048.40" stroke="#000" stroke-width="1.3" />
<line x1="344.10" y1="2034.40" x2="344.10" y2="2048.40" stroke="#000" stroke-width="1.3" />
<g transform="translate(276.60,2004.90) scale(1,1.04)"><text x="0" y="0" font-size="22.8" font-weight="bold" text-anchor="middle"  > . -fold</text><path d="M861,0 L580,0 L580,1017.8 Q426,879.4 217,813.1 L217,1058.2 Q327,1092.8 456,1188.9 Q585,1285 633,1409 L861,1409 Z" transform="translate(-40.52,0.00) scale(0.01113,-0.01113)" fill="#000"/><path d="M861,0 L580,0 L580,1017.8 Q426,879.4 217,813.1 L217,1058.2 Q327,1092.8 456,1188.9 Q585,1285 633,1409 L861,1409 Z" transform="translate(-21.53,0.00) scale(0.01113,-0.01113)" fill="#000"/></g>
<g transform="translate(276.10,2030.90) scale(1,1.04)"><text x="0" y="0" font-size="22.8" font-weight="normal" text-anchor="middle"  ><tspan font-style="italic">p</tspan> = 0.3052</text></g>
<line x1="565.90" y1="2038.60" x2="711.70" y2="2038.60" stroke="#000" stroke-width="1.3" />
<line x1="565.90" y1="2031.60" x2="565.90" y2="2045.60" stroke="#000" stroke-width="1.3" />
<line x1="711.70" y1="2031.60" x2="711.70" y2="2045.60" stroke="#000" stroke-width="1.3" />
<g transform="translate(638.80,1998.90) scale(1,1.04)"><text x="0" y="0" font-size="25.5" font-weight="bold" text-anchor="middle"  > .7-fold</text><path d="M861,0 L580,0 L580,1017.8 Q426,879.4 217,813.1 L217,1058.2 Q327,1092.8 456,1188.9 Q585,1285 633,1409 L861,1409 Z" transform="translate(-45.31,0.00) scale(0.01245,-0.01245)" fill="#000"/></g>
<g transform="translate(638.20,2026.90) scale(1,1.04)"><text x="0" y="0" font-size="25.5" font-weight="normal" text-anchor="middle"  ><tspan font-style="italic">p</tspan> = 0.0380</text></g>
<line x1="211.10" y1="2266.30" x2="211.10" y2="2332.00" stroke="#000" stroke-width="1.3" />
<line x1="189.25" y1="2266.30" x2="232.95" y2="2266.30" stroke="#000" stroke-width="1.3" />
<line x1="189.25" y1="2332.00" x2="232.95" y2="2332.00" stroke="#000" stroke-width="1.3" />
<line x1="344.30" y1="2230.00" x2="344.30" y2="2319.30" stroke="#000" stroke-width="1.3" />
<line x1="323.00" y1="2230.00" x2="365.60" y2="2230.00" stroke="#000" stroke-width="1.3" />
<line x1="323.00" y1="2319.30" x2="365.60" y2="2319.30" stroke="#000" stroke-width="1.3" />
<line x1="565.60" y1="2254.00" x2="565.60" y2="2333.10" stroke="#000" stroke-width="1.3" />
<line x1="544.10" y1="2254.00" x2="587.10" y2="2254.00" stroke="#000" stroke-width="1.3" />
<line x1="544.10" y1="2333.10" x2="587.10" y2="2333.10" stroke="#000" stroke-width="1.3" />
<line x1="698.80" y1="2187.10" x2="698.80" y2="2321.20" stroke="#000" stroke-width="1.3" />
<line x1="677.30" y1="2187.10" x2="720.30" y2="2187.10" stroke="#000" stroke-width="1.3" />
<line x1="677.30" y1="2321.20" x2="720.30" y2="2321.20" stroke="#000" stroke-width="1.3" />
<line x1="156.70" y1="2302.30" x2="266.40" y2="2302.30" stroke="#fb1c12" stroke-width="3.0" />
<line x1="289.00" y1="2289.50" x2="399.00" y2="2289.50" stroke="#fb1c12" stroke-width="3.0" />
<line x1="511.00" y1="2296.50" x2="620.90" y2="2296.50" stroke="#fb1c12" stroke-width="3.0" />
<line x1="643.60" y1="2231.00" x2="753.50" y2="2231.00" stroke="#fb1c12" stroke-width="3.0" />
<g transform="translate(885.00,41.30) scale(1,1.04)"><text x="0" y="0" font-size="52" font-weight="bold" text-anchor="start"  >a</text></g>
<g transform="translate(913.50,41.30) scale(1,1.04)"><text x="0" y="0" font-size="52" font-weight="bold" text-anchor="start"  >2</text></g>
<line x1="1245.7" y1="74.3" x2="1245.7" y2="523.2" stroke="#000" stroke-width="2" stroke-dasharray="2,4.7"/>
<line x1="1020.3" y1="343.3" x2="1471" y2="343.3" stroke="#000" stroke-width="2" stroke-dasharray="2,4.7"/>
<line x1="1020.30" y1="74.30" x2="1020.30" y2="524.10" stroke="#000" stroke-width="1.8" />
<line x1="1019.40" y1="523.20" x2="1471.00" y2="523.20" stroke="#000" stroke-width="1.8" />
<line x1="1017.80" y1="79.00" x2="1020.30" y2="79.00" stroke="#000" stroke-width="1.4" />
<g transform="translate(1015.30,87.90) scale(1,1.04)"><text x="0" y="0" font-size="25" font-weight="normal" text-anchor="end"  > e+08</text><path d="M763,0 L583,0 L583,1097.6 Q518,1038.3 465,1008.6 Q412,978.9 359,949.3 Q306,919.6 222,889.9 L222,1056.4 Q373,1124.3 429.5,1172.6 Q486,1220.9 542.5,1269.2 Q599,1317.6 646,1409 L763,1409 Z" transform="translate(-70.21,0.00) scale(0.01221,-0.01221)" fill="#000"/></g>
<line x1="1017.80" y1="123.05" x2="1020.30" y2="123.05" stroke="#000" stroke-width="1.4" />
<g transform="translate(1015.30,131.95) scale(1,1.04)"><text x="0" y="0" font-size="25" font-weight="normal" text-anchor="end"  > e+07</text><path d="M763,0 L583,0 L583,1097.6 Q518,1038.3 465,1008.6 Q412,978.9 359,949.3 Q306,919.6 222,889.9 L222,1056.4 Q373,1124.3 429.5,1172.6 Q486,1220.9 542.5,1269.2 Q599,1317.6 646,1409 L763,1409 Z" transform="translate(-70.21,0.00) scale(0.01221,-0.01221)" fill="#000"/></g>
<line x1="1017.80" y1="167.10" x2="1020.30" y2="167.10" stroke="#000" stroke-width="1.4" />
<g transform="translate(1015.30,176.00) scale(1,1.04)"><text x="0" y="0" font-size="25" font-weight="normal" text-anchor="end"  > e+06</text><path d="M763,0 L583,0 L583,1097.6 Q518,1038.3 465,1008.6 Q412,978.9 359,949.3 Q306,919.6 222,889.9 L222,1056.4 Q373,1124.3 429.5,1172.6 Q486,1220.9 542.5,1269.2 Q599,1317.6 646,1409 L763,1409 Z" transform="translate(-70.21,0.00) scale(0.01221,-0.01221)" fill="#000"/></g>
<line x1="1017.80" y1="211.15" x2="1020.30" y2="211.15" stroke="#000" stroke-width="1.4" />
<g transform="translate(1015.30,220.05) scale(1,1.04)"><text x="0" y="0" font-size="25" font-weight="normal" text-anchor="end"  > e+05</text><path d="M763,0 L583,0 L583,1097.6 Q518,1038.3 465,1008.6 Q412,978.9 359,949.3 Q306,919.6 222,889.9 L222,1056.4 Q373,1124.3 429.5,1172.6 Q486,1220.9 542.5,1269.2 Q599,1317.6 646,1409 L763,1409 Z" transform="translate(-70.21,0.00) scale(0.01221,-0.01221)" fill="#000"/></g>
<line x1="1017.80" y1="255.20" x2="1020.30" y2="255.20" stroke="#000" stroke-width="1.4" />
<g transform="translate(1015.30,264.10) scale(1,1.04)"><text x="0" y="0" font-size="25" font-weight="normal" text-anchor="end"  > e+04</text><path d="M763,0 L583,0 L583,1097.6 Q518,1038.3 465,1008.6 Q412,978.9 359,949.3 Q306,919.6 222,889.9 L222,1056.4 Q373,1124.3 429.5,1172.6 Q486,1220.9 542.5,1269.2 Q599,1317.6 646,1409 L763,1409 Z" transform="translate(-70.21,0.00) scale(0.01221,-0.01221)" fill="#000"/></g>
<line x1="1017.80" y1="299.25" x2="1020.30" y2="299.25" stroke="#000" stroke-width="1.4" />
<g transform="translate(1015.30,308.15) scale(1,1.04)"><text x="0" y="0" font-size="25" font-weight="normal" text-anchor="end"  > e+03</text><path d="M763,0 L583,0 L583,1097.6 Q518,1038.3 465,1008.6 Q412,978.9 359,949.3 Q306,919.6 222,889.9 L222,1056.4 Q373,1124.3 429.5,1172.6 Q486,1220.9 542.5,1269.2 Q599,1317.6 646,1409 L763,1409 Z" transform="translate(-70.21,0.00) scale(0.01221,-0.01221)" fill="#000"/></g>
<line x1="1017.80" y1="343.30" x2="1020.30" y2="343.30" stroke="#000" stroke-width="1.4" />
<g transform="translate(1015.30,352.20) scale(1,1.04)"><text x="0" y="0" font-size="25" font-weight="normal" text-anchor="end"  > e+02</text><path d="M763,0 L583,0 L583,1097.6 Q518,1038.3 465,1008.6 Q412,978.9 359,949.3 Q306,919.6 222,889.9 L222,1056.4 Q373,1124.3 429.5,1172.6 Q486,1220.9 542.5,1269.2 Q599,1317.6 646,1409 L763,1409 Z" transform="translate(-70.21,0.00) scale(0.01221,-0.01221)" fill="#000"/></g>
<line x1="1017.80" y1="387.35" x2="1020.30" y2="387.35" stroke="#000" stroke-width="1.4" />
<g transform="translate(1015.30,396.25) scale(1,1.04)"><text x="0" y="0" font-size="25" font-weight="normal" text-anchor="end"  > e+0 </text><path d="M763,0 L583,0 L583,1097.6 Q518,1038.3 465,1008.6 Q412,978.9 359,949.3 Q306,919.6 222,889.9 L222,1056.4 Q373,1124.3 429.5,1172.6 Q486,1220.9 542.5,1269.2 Q599,1317.6 646,1409 L763,1409 Z" transform="translate(-70.21,0.00) scale(0.01221,-0.01221)" fill="#000"/><path d="M763,0 L583,0 L583,1097.6 Q518,1038.3 465,1008.6 Q412,978.9 359,949.3 Q306,919.6 222,889.9 L222,1056.4 Q373,1124.3 429.5,1172.6 Q486,1220.9 542.5,1269.2 Q599,1317.6 646,1409 L763,1409 Z" transform="translate(-13.92,0.00) scale(0.01221,-0.01221)" fill="#000"/></g>
<line x1="1017.80" y1="431.40" x2="1020.30" y2="431.40" stroke="#000" stroke-width="1.4" />
<g transform="translate(1015.30,440.30) scale(1,1.04)"><text x="0" y="0" font-size="25" font-weight="normal" text-anchor="end"  > e+00</text><path d="M763,0 L583,0 L583,1097.6 Q518,1038.3 465,1008.6 Q412,978.9 359,949.3 Q306,919.6 222,889.9 L222,1056.4 Q373,1124.3 429.5,1172.6 Q486,1220.9 542.5,1269.2 Q599,1317.6 646,1409 L763,1409 Z" transform="translate(-70.21,0.00) scale(0.01221,-0.01221)" fill="#000"/></g>
<line x1="1017.80" y1="475.45" x2="1020.30" y2="475.45" stroke="#000" stroke-width="1.4" />
<g transform="translate(1015.30,484.35) scale(1,1.04)"><text x="0" y="0" font-size="25" font-weight="normal" text-anchor="end"  > e-0 </text><path d="M763,0 L583,0 L583,1097.6 Q518,1038.3 465,1008.6 Q412,978.9 359,949.3 Q306,919.6 222,889.9 L222,1056.4 Q373,1124.3 429.5,1172.6 Q486,1220.9 542.5,1269.2 Q599,1317.6 646,1409 L763,1409 Z" transform="translate(-63.94,0.00) scale(0.01221,-0.01221)" fill="#000"/><path d="M763,0 L583,0 L583,1097.6 Q518,1038.3 465,1008.6 Q412,978.9 359,949.3 Q306,919.6 222,889.9 L222,1056.4 Q373,1124.3 429.5,1172.6 Q486,1220.9 542.5,1269.2 Q599,1317.6 646,1409 L763,1409 Z" transform="translate(-13.92,0.00) scale(0.01221,-0.01221)" fill="#000"/></g>
<line x1="1017.80" y1="519.50" x2="1020.30" y2="519.50" stroke="#000" stroke-width="1.4" />
<g transform="translate(1015.30,528.40) scale(1,1.04)"><text x="0" y="0" font-size="25" font-weight="normal" text-anchor="end"  > e-02</text><path d="M763,0 L583,0 L583,1097.6 Q518,1038.3 465,1008.6 Q412,978.9 359,949.3 Q306,919.6 222,889.9 L222,1056.4 Q373,1124.3 429.5,1172.6 Q486,1220.9 542.5,1269.2 Q599,1317.6 646,1409 L763,1409 Z" transform="translate(-63.94,0.00) scale(0.01221,-0.01221)" fill="#000"/></g>
<line x1="1040.10" y1="523.20" x2="1040.10" y2="525.70" stroke="#000" stroke-width="1.4" />
<g transform="translate(1040.10,545.80) scale(1,1.04)"><text x="0" y="0" font-size="25" font-weight="normal" text-anchor="middle"  >- 000</text><path d="M763,0 L583,0 L583,1097.6 Q518,1038.3 465,1008.6 Q412,978.9 359,949.3 Q306,919.6 222,889.9 L222,1056.4 Q373,1124.3 429.5,1172.6 Q486,1220.9 542.5,1269.2 Q599,1317.6 646,1409 L763,1409 Z" transform="translate(-23.66,0.00) scale(0.01221,-0.01221)" fill="#000"/></g>
<line x1="1142.90" y1="523.20" x2="1142.90" y2="525.70" stroke="#000" stroke-width="1.4" />
<g transform="translate(1142.90,545.80) scale(1,1.04)"><text x="0" y="0" font-size="25" font-weight="normal" text-anchor="middle"  >-500</text></g>
<line x1="1245.70" y1="523.20" x2="1245.70" y2="525.70" stroke="#000" stroke-width="1.4" />
<g transform="translate(1245.70,545.80) scale(1,1.04)"><text x="0" y="0" font-size="25" font-weight="normal" text-anchor="middle"  >0</text></g>
<line x1="1348.50" y1="523.20" x2="1348.50" y2="525.70" stroke="#000" stroke-width="1.4" />
<g transform="translate(1348.50,545.80) scale(1,1.04)"><text x="0" y="0" font-size="25" font-weight="normal" text-anchor="middle"  >500</text></g>
<line x1="1451.30" y1="523.20" x2="1451.30" y2="525.70" stroke="#000" stroke-width="1.4" />
<g transform="translate(1451.30,545.80) scale(1,1.04)"><text x="0" y="0" font-size="25" font-weight="normal" text-anchor="middle"  > 000</text><path d="M763,0 L583,0 L583,1097.6 Q518,1038.3 465,1008.6 Q412,978.9 359,949.3 Q306,919.6 222,889.9 L222,1056.4 Q373,1124.3 429.5,1172.6 Q486,1220.9 542.5,1269.2 Q599,1317.6 646,1409 L763,1409 Z" transform="translate(-27.81,0.00) scale(0.01221,-0.01221)" fill="#000"/></g>
<text x="0" y="0" font-size="27.7" font-weight="bold" text-anchor="start" transform="translate(923.8,354.1) rotate(-90) scale(1,1.04)">RSV&#160;<tspan dx="4.5">(2</tspan><tspan font-size="21" dx="-3" dy="-10.6" letter-spacing="-0.6">ΔCt</tspan><tspan dy="10.6" dx="0.6">)</tspan></text>
<g transform="translate(1247.70,593.00) scale(1,1.04)"><text x="0" y="0" font-size="27.9" font-weight="bold" text-anchor="middle"  >Δ IL-6 (pg/mL) day 3 vs day 0</text></g>
<g transform="translate(1106.3,49) scale(1.0) translate(-1106.3,-49)">
<g transform="translate(1106.30,57.70) scale(1,1.04)"><text x="0" y="0" font-size="24.5" font-weight="normal" text-anchor="start"  >Group</text></g>
<line x1="1181.80" y1="49.00" x2="1198.60" y2="49.00" stroke="#000" stroke-width="1.6" />
<circle cx="1190.2" cy="49" r="5.6" fill="#000"/>
<g transform="translate(1207.80,57.70) scale(1,1.04)"><text x="0" y="0" font-size="24.5" font-weight="normal" text-anchor="start"  >Control</text></g>
<line x1="1291.90" y1="49.00" x2="1309.70" y2="49.00" stroke="#fb1c12" stroke-width="1.6" />
<circle cx="1300.8999999999999" cy="49" r="5.6" fill="#fb1c12"/>
<g transform="translate(1317.30,57.70) scale(1,1.04)"><text x="0" y="0" font-size="24.5" font-weight="normal" text-anchor="start"  >Navax</text></g>
</g>
<g transform="translate(1258.50,106.40) scale(1,1.04)"><text x="0" y="0" font-size="30.4" font-weight="normal" text-anchor="start"  ><tspan font-style="italic">p</tspan> = 0.005</text></g>
<ellipse cx="1241.8" cy="321.3" rx="129.5" ry="47.4" transform="rotate(-95.3 1241.8 321.3)" fill="none" stroke="#000" stroke-width="1.6"/>
<ellipse cx="1236.4" cy="270.4" rx="138.8" ry="37.8" transform="rotate(-89.2 1236.4 270.4)" fill="none" stroke="#e8141c" stroke-width="1.6"/>
<circle cx="1236.2" cy="229.2" r="5.5" fill="#000"/>
<circle cx="1206.2" cy="235.8" r="5.5" fill="#000"/>
<circle cx="1239.8" cy="246.0" r="5.5" fill="#000"/>
<circle cx="1221.8" cy="253.2" r="5.5" fill="#000"/>
<circle cx="1236.8" cy="274.2" r="5.5" fill="#000"/>
<circle cx="1233.2" cy="282.6" r="5.5" fill="#000"/>
<circle cx="1246.4" cy="290.4" r="5.5" fill="#000"/>
<circle cx="1239.8" cy="292.8" r="5.5" fill="#000"/>
<circle cx="1219.4" cy="295.8" r="5.5" fill="#000"/>
<circle cx="1282.4" cy="286.2" r="5.5" fill="#000"/>
<circle cx="1268.6" cy="302.5" r="5.5" fill="#000"/>
<circle cx="1239.8" cy="303.7" r="5.5" fill="#000"/>
<circle cx="1275.2" cy="311.5" r="5.5" fill="#000"/>
<circle cx="1230.8" cy="313.9" r="5.5" fill="#000"/>
<circle cx="1244.0" cy="316.9" r="5.5" fill="#000"/>
<circle cx="1244.0" cy="325.3" r="5.5" fill="#000"/>
<circle cx="1251.8" cy="325.3" r="5.5" fill="#000"/>
<circle cx="1258.4" cy="323.5" r="5.5" fill="#000"/>
<circle cx="1230.8" cy="349.3" r="5.5" fill="#000"/>
<circle cx="1221.2" cy="363.1" r="5.5" fill="#000"/>
<circle cx="1236.2" cy="375.7" r="5.5" fill="#000"/>
<circle cx="1241.6" cy="384.1" r="5.5" fill="#000"/>
<circle cx="1224.8" cy="389.5" r="5.5" fill="#000"/>
<circle cx="1229.6" cy="389.5" r="5.5" fill="#000"/>
<circle cx="1147.9" cy="233.7" r="5.5" fill="#000"/>
<circle cx="1324.2" cy="341.9" r="5.5" fill="#000"/>
<circle cx="1323.4" cy="427.4" r="5.5" fill="#000"/>
<circle cx="1259.4" cy="430.7" r="5.5" fill="#000"/>
<circle cx="1272.6" cy="427.4" r="5.5" fill="#000"/>
<circle cx="1243.7" cy="489.3" r="5.5" fill="#000"/>
<circle cx="1239.2" cy="139.0" r="5.5" fill="#fb1c12"/>
<circle cx="1231.4" cy="152.6" r="5.5" fill="#fb1c12"/>
<circle cx="1242.6" cy="178.2" r="5.5" fill="#fb1c12"/>
<circle cx="1226.6" cy="189.4" r="5.5" fill="#fb1c12"/>
<circle cx="1234.4" cy="191.4" r="5.5" fill="#fb1c12"/>
<circle cx="1236.2" cy="199.2" r="5.5" fill="#fb1c12"/>
<circle cx="1232.0" cy="235.2" r="5.5" fill="#fb1c12"/>
<circle cx="1235.6" cy="232.8" r="5.5" fill="#fb1c12"/>
<circle cx="1242.8" cy="237.0" r="5.5" fill="#fb1c12"/>
<circle cx="1253.0" cy="231.6" r="5.5" fill="#fb1c12"/>
<circle cx="1250.6" cy="243.6" r="5.5" fill="#fb1c12"/>
<circle cx="1253.0" cy="249.0" r="5.5" fill="#fb1c12"/>
<circle cx="1261.4" cy="253.0" r="5.5" fill="#fb1c12"/>
<circle cx="1215.8" cy="256.8" r="5.5" fill="#fb1c12"/>
<circle cx="1242.8" cy="255.6" r="5.5" fill="#fb1c12"/>
<circle cx="1244.6" cy="261.0" r="5.5" fill="#fb1c12"/>
<circle cx="1207.4" cy="272.4" r="5.5" fill="#fb1c12"/>
<circle cx="1227.2" cy="273.0" r="5.5" fill="#fb1c12"/>
<circle cx="1244.6" cy="271.8" r="5.5" fill="#fb1c12"/>
<circle cx="1228.4" cy="282.6" r="5.5" fill="#fb1c12"/>
<circle cx="1244.0" cy="280.2" r="5.5" fill="#fb1c12"/>
<circle cx="1242.2" cy="294.0" r="5.5" fill="#fb1c12"/>
<circle cx="1228.4" cy="304.9" r="5.5" fill="#fb1c12"/>
<circle cx="1242.8" cy="303.7" r="5.5" fill="#fb1c12"/>
<circle cx="1181.0" cy="309.1" r="5.5" fill="#fb1c12"/>
<circle cx="1214.6" cy="316.9" r="5.5" fill="#fb1c12"/>
<circle cx="1215.2" cy="325.3" r="5.5" fill="#fb1c12"/>
<circle cx="1235.6" cy="320.5" r="5.5" fill="#fb1c12"/>
<circle cx="1232.6" cy="328.3" r="5.5" fill="#fb1c12"/>
<circle cx="1237.4" cy="337.9" r="5.5" fill="#fb1c12"/>
<circle cx="1291.4" cy="325.9" r="5.5" fill="#fb1c12"/>
<circle cx="1247.6" cy="381.7" r="5.5" fill="#fb1c12"/>
<circle cx="1236.8" cy="390.1" r="5.5" fill="#fb1c12"/>
<circle cx="1236.8" cy="400.3" r="5.5" fill="#fb1c12"/>
<circle cx="1083.1" cy="296.5" r="5.5" fill="#fb1c12"/>
<g transform="translate(883.70,659.90) scale(1,1.04)"><text x="0" y="0" font-size="52" font-weight="bold" text-anchor="start"  >b</text></g>
<g transform="translate(917.50,659.90) scale(1,1.04)"><text x="0" y="0" font-size="52" font-weight="bold" text-anchor="start"  >2</text></g>
<line x1="1239.8" y1="687" x2="1239.8" y2="1141.2" stroke="#000" stroke-width="2" stroke-dasharray="2,4.7"/>
<line x1="1011.9" y1="959.86" x2="1467.3" y2="959.86" stroke="#000" stroke-width="2" stroke-dasharray="2,4.7"/>
<line x1="1011.90" y1="687.00" x2="1011.90" y2="1142.10" stroke="#000" stroke-width="1.8" />
<line x1="1011.00" y1="1141.20" x2="1467.30" y2="1141.20" stroke="#000" stroke-width="1.8" />
<line x1="1009.40" y1="692.20" x2="1011.90" y2="692.20" stroke="#000" stroke-width="1.4" />
<g transform="translate(1006.90,701.10) scale(1,1.04)"><text x="0" y="0" font-size="25" font-weight="normal" text-anchor="end"  > e+08</text><path d="M763,0 L583,0 L583,1097.6 Q518,1038.3 465,1008.6 Q412,978.9 359,949.3 Q306,919.6 222,889.9 L222,1056.4 Q373,1124.3 429.5,1172.6 Q486,1220.9 542.5,1269.2 Q599,1317.6 646,1409 L763,1409 Z" transform="translate(-70.21,0.00) scale(0.01221,-0.01221)" fill="#000"/></g>
<line x1="1009.40" y1="736.81" x2="1011.90" y2="736.81" stroke="#000" stroke-width="1.4" />
<g transform="translate(1006.90,745.71) scale(1,1.04)"><text x="0" y="0" font-size="25" font-weight="normal" text-anchor="end"  > e+07</text><path d="M763,0 L583,0 L583,1097.6 Q518,1038.3 465,1008.6 Q412,978.9 359,949.3 Q306,919.6 222,889.9 L222,1056.4 Q373,1124.3 429.5,1172.6 Q486,1220.9 542.5,1269.2 Q599,1317.6 646,1409 L763,1409 Z" transform="translate(-70.21,0.00) scale(0.01221,-0.01221)" fill="#000"/></g>
<line x1="1009.40" y1="781.42" x2="1011.90" y2="781.42" stroke="#000" stroke-width="1.4" />
<g transform="translate(1006.90,790.32) scale(1,1.04)"><text x="0" y="0" font-size="25" font-weight="normal" text-anchor="end"  > e+06</text><path d="M763,0 L583,0 L583,1097.6 Q518,1038.3 465,1008.6 Q412,978.9 359,949.3 Q306,919.6 222,889.9 L222,1056.4 Q373,1124.3 429.5,1172.6 Q486,1220.9 542.5,1269.2 Q599,1317.6 646,1409 L763,1409 Z" transform="translate(-70.21,0.00) scale(0.01221,-0.01221)" fill="#000"/></g>
<line x1="1009.40" y1="826.03" x2="1011.90" y2="826.03" stroke="#000" stroke-width="1.4" />
<g transform="translate(1006.90,834.93) scale(1,1.04)"><text x="0" y="0" font-size="25" font-weight="normal" text-anchor="end"  > e+05</text><path d="M763,0 L583,0 L583,1097.6 Q518,1038.3 465,1008.6 Q412,978.9 359,949.3 Q306,919.6 222,889.9 L222,1056.4 Q373,1124.3 429.5,1172.6 Q486,1220.9 542.5,1269.2 Q599,1317.6 646,1409 L763,1409 Z" transform="translate(-70.21,0.00) scale(0.01221,-0.01221)" fill="#000"/></g>
<line x1="1009.40" y1="870.64" x2="1011.90" y2="870.64" stroke="#000" stroke-width="1.4" />
<g transform="translate(1006.90,879.54) scale(1,1.04)"><text x="0" y="0" font-size="25" font-weight="normal" text-anchor="end"  > e+04</text><path d="M763,0 L583,0 L583,1097.6 Q518,1038.3 465,1008.6 Q412,978.9 359,949.3 Q306,919.6 222,889.9 L222,1056.4 Q373,1124.3 429.5,1172.6 Q486,1220.9 542.5,1269.2 Q599,1317.6 646,1409 L763,1409 Z" transform="translate(-70.21,0.00) scale(0.01221,-0.01221)" fill="#000"/></g>
<line x1="1009.40" y1="915.25" x2="1011.90" y2="915.25" stroke="#000" stroke-width="1.4" />
<g transform="translate(1006.90,924.15) scale(1,1.04)"><text x="0" y="0" font-size="25" font-weight="normal" text-anchor="end"  > e+03</text><path d="M763,0 L583,0 L583,1097.6 Q518,1038.3 465,1008.6 Q412,978.9 359,949.3 Q306,919.6 222,889.9 L222,1056.4 Q373,1124.3 429.5,1172.6 Q486,1220.9 542.5,1269.2 Q599,1317.6 646,1409 L763,1409 Z" transform="translate(-70.21,0.00) scale(0.01221,-0.01221)" fill="#000"/></g>
<line x1="1009.40" y1="959.86" x2="1011.90" y2="959.86" stroke="#000" stroke-width="1.4" />
<g transform="translate(1006.90,968.76) scale(1,1.04)"><text x="0" y="0" font-size="25" font-weight="normal" text-anchor="end"  > e+02</text><path d="M763,0 L583,0 L583,1097.6 Q518,1038.3 465,1008.6 Q412,978.9 359,949.3 Q306,919.6 222,889.9 L222,1056.4 Q373,1124.3 429.5,1172.6 Q486,1220.9 542.5,1269.2 Q599,1317.6 646,1409 L763,1409 Z" transform="translate(-70.21,0.00) scale(0.01221,-0.01221)" fill="#000"/></g>
<line x1="1009.40" y1="1004.47" x2="1011.90" y2="1004.47" stroke="#000" stroke-width="1.4" />
<g transform="translate(1006.90,1013.37) scale(1,1.04)"><text x="0" y="0" font-size="25" font-weight="normal" text-anchor="end"  > e+0 </text><path d="M763,0 L583,0 L583,1097.6 Q518,1038.3 465,1008.6 Q412,978.9 359,949.3 Q306,919.6 222,889.9 L222,1056.4 Q373,1124.3 429.5,1172.6 Q486,1220.9 542.5,1269.2 Q599,1317.6 646,1409 L763,1409 Z" transform="translate(-70.21,0.00) scale(0.01221,-0.01221)" fill="#000"/><path d="M763,0 L583,0 L583,1097.6 Q518,1038.3 465,1008.6 Q412,978.9 359,949.3 Q306,919.6 222,889.9 L222,1056.4 Q373,1124.3 429.5,1172.6 Q486,1220.9 542.5,1269.2 Q599,1317.6 646,1409 L763,1409 Z" transform="translate(-13.92,0.00) scale(0.01221,-0.01221)" fill="#000"/></g>
<line x1="1009.40" y1="1049.08" x2="1011.90" y2="1049.08" stroke="#000" stroke-width="1.4" />
<g transform="translate(1006.90,1057.98) scale(1,1.04)"><text x="0" y="0" font-size="25" font-weight="normal" text-anchor="end"  > e+00</text><path d="M763,0 L583,0 L583,1097.6 Q518,1038.3 465,1008.6 Q412,978.9 359,949.3 Q306,919.6 222,889.9 L222,1056.4 Q373,1124.3 429.5,1172.6 Q486,1220.9 542.5,1269.2 Q599,1317.6 646,1409 L763,1409 Z" transform="translate(-70.21,0.00) scale(0.01221,-0.01221)" fill="#000"/></g>
<line x1="1009.40" y1="1093.69" x2="1011.90" y2="1093.69" stroke="#000" stroke-width="1.4" />
<g transform="translate(1006.90,1102.59) scale(1,1.04)"><text x="0" y="0" font-size="25" font-weight="normal" text-anchor="end"  > e-0 </text><path d="M763,0 L583,0 L583,1097.6 Q518,1038.3 465,1008.6 Q412,978.9 359,949.3 Q306,919.6 222,889.9 L222,1056.4 Q373,1124.3 429.5,1172.6 Q486,1220.9 542.5,1269.2 Q599,1317.6 646,1409 L763,1409 Z" transform="translate(-63.94,0.00) scale(0.01221,-0.01221)" fill="#000"/><path d="M763,0 L583,0 L583,1097.6 Q518,1038.3 465,1008.6 Q412,978.9 359,949.3 Q306,919.6 222,889.9 L222,1056.4 Q373,1124.3 429.5,1172.6 Q486,1220.9 542.5,1269.2 Q599,1317.6 646,1409 L763,1409 Z" transform="translate(-13.92,0.00) scale(0.01221,-0.01221)" fill="#000"/></g>
<line x1="1009.40" y1="1138.30" x2="1011.90" y2="1138.30" stroke="#000" stroke-width="1.4" />
<g transform="translate(1006.90,1147.20) scale(1,1.04)"><text x="0" y="0" font-size="25" font-weight="normal" text-anchor="end"  > e-02</text><path d="M763,0 L583,0 L583,1097.6 Q518,1038.3 465,1008.6 Q412,978.9 359,949.3 Q306,919.6 222,889.9 L222,1056.4 Q373,1124.3 429.5,1172.6 Q486,1220.9 542.5,1269.2 Q599,1317.6 646,1409 L763,1409 Z" transform="translate(-63.94,0.00) scale(0.01221,-0.01221)" fill="#000"/></g>
<line x1="1032.80" y1="1141.20" x2="1032.80" y2="1143.70" stroke="#000" stroke-width="1.4" />
<g transform="translate(1032.80,1163.80) scale(1,1.04)"><text x="0" y="0" font-size="25" font-weight="normal" text-anchor="middle"  >-2000</text></g>
<line x1="1136.30" y1="1141.20" x2="1136.30" y2="1143.70" stroke="#000" stroke-width="1.4" />
<g transform="translate(1136.30,1163.80) scale(1,1.04)"><text x="0" y="0" font-size="25" font-weight="normal" text-anchor="middle"  >- 000</text><path d="M763,0 L583,0 L583,1097.6 Q518,1038.3 465,1008.6 Q412,978.9 359,949.3 Q306,919.6 222,889.9 L222,1056.4 Q373,1124.3 429.5,1172.6 Q486,1220.9 542.5,1269.2 Q599,1317.6 646,1409 L763,1409 Z" transform="translate(-23.66,0.00) scale(0.01221,-0.01221)" fill="#000"/></g>
<line x1="1239.80" y1="1141.20" x2="1239.80" y2="1143.70" stroke="#000" stroke-width="1.4" />
<g transform="translate(1239.80,1163.80) scale(1,1.04)"><text x="0" y="0" font-size="25" font-weight="normal" text-anchor="middle"  >0</text></g>
<line x1="1343.30" y1="1141.20" x2="1343.30" y2="1143.70" stroke="#000" stroke-width="1.4" />
<g transform="translate(1343.30,1163.80) scale(1,1.04)"><text x="0" y="0" font-size="25" font-weight="normal" text-anchor="middle"  > 000</text><path d="M763,0 L583,0 L583,1097.6 Q518,1038.3 465,1008.6 Q412,978.9 359,949.3 Q306,919.6 222,889.9 L222,1056.4 Q373,1124.3 429.5,1172.6 Q486,1220.9 542.5,1269.2 Q599,1317.6 646,1409 L763,1409 Z" transform="translate(-27.81,0.00) scale(0.01221,-0.01221)" fill="#000"/></g>
<line x1="1446.80" y1="1141.20" x2="1446.80" y2="1143.70" stroke="#000" stroke-width="1.4" />
<g transform="translate(1446.80,1163.80) scale(1,1.04)"><text x="0" y="0" font-size="25" font-weight="normal" text-anchor="middle"  >2000</text></g>
<text x="0" y="0" font-size="27.7" font-weight="bold" text-anchor="start" transform="translate(904.9,988.5) rotate(-90) scale(1,1.04)">RSV&#160;<tspan dx="4.5">(2</tspan><tspan font-size="21" dx="-3" dy="-10.6" letter-spacing="-0.6">ΔCt</tspan><tspan dy="10.6" dx="0.6">)</tspan></text>
<g transform="translate(1230.40,1211.00) scale(1,1.04)"><text x="0" y="0" font-size="27.9" font-weight="bold" text-anchor="middle"  >Δ IL-8 (pg/mL) day 3 vs day 0</text></g>
<g transform="translate(1098.8,660.9) scale(1.009) translate(-1098.8,-660.9)">
<g transform="translate(1098.80,669.60) scale(1,1.04)"><text x="0" y="0" font-size="24.5" font-weight="normal" text-anchor="start"  >Group</text></g>
<line x1="1174.30" y1="660.90" x2="1191.10" y2="660.90" stroke="#000" stroke-width="1.6" />
<circle cx="1182.7" cy="660.9" r="5.6" fill="#000"/>
<g transform="translate(1200.30,669.60) scale(1,1.04)"><text x="0" y="0" font-size="24.5" font-weight="normal" text-anchor="start"  >Control</text></g>
<line x1="1284.40" y1="660.90" x2="1302.20" y2="660.90" stroke="#fb1c12" stroke-width="1.6" />
<circle cx="1293.3999999999999" cy="660.9" r="5.6" fill="#fb1c12"/>
<g transform="translate(1309.80,669.60) scale(1,1.04)"><text x="0" y="0" font-size="24.5" font-weight="normal" text-anchor="start"  >Navax</text></g>
</g>
<g transform="translate(1258.40,737.50) scale(1,1.04)"><text x="0" y="0" font-size="30.4" font-weight="normal" text-anchor="start"  ><tspan font-style="italic">p</tspan> = 0.0 </text><path d="M763,0 L583,0 L583,1097.6 Q518,1038.3 465,1008.6 Q412,978.9 359,949.3 Q306,919.6 222,889.9 L222,1056.4 Q373,1124.3 429.5,1172.6 Q486,1220.9 542.5,1269.2 Q599,1317.6 646,1409 L763,1409 Z" transform="translate(93.78,0.00) scale(0.01484,-0.01484)" fill="#000"/></g>
<ellipse cx="1234.7" cy="940.1" rx="116.9" ry="124.1" transform="rotate(165.7 1234.7 940.1)" fill="none" stroke="#000" stroke-width="1.6"/>
<ellipse cx="1223.5" cy="883.3" rx="140.1" ry="88.4" transform="rotate(-104.4 1223.5 883.3)" fill="none" stroke="#e8141c" stroke-width="1.6"/>
<circle cx="1174.7" cy="848.4" r="5.5" fill="#000"/>
<circle cx="1223.9" cy="849.9" r="5.5" fill="#000"/>
<circle cx="1265.8" cy="844.4" r="5.5" fill="#000"/>
<circle cx="1165.6" cy="861.2" r="5.5" fill="#000"/>
<circle cx="1315.9" cy="867.5" r="5.5" fill="#000"/>
<circle cx="1267.6" cy="876.7" r="5.5" fill="#000"/>
<circle cx="1188.4" cy="886.7" r="5.5" fill="#000"/>
<circle cx="1213.9" cy="885.2" r="5.5" fill="#000"/>
<circle cx="1288.6" cy="889.4" r="5.5" fill="#000"/>
<circle cx="1202.0" cy="901.3" r="5.5" fill="#000"/>
<circle cx="1212.6" cy="898.0" r="5.5" fill="#000"/>
<circle cx="1240.3" cy="907.1" r="5.5" fill="#000"/>
<circle cx="1264.0" cy="904.9" r="5.5" fill="#000"/>
<circle cx="1268.5" cy="913.6" r="5.5" fill="#000"/>
<circle cx="1241.2" cy="917.3" r="5.5" fill="#000"/>
<circle cx="1249.0" cy="926.8" r="5.5" fill="#000"/>
<circle cx="1274.9" cy="929.1" r="5.5" fill="#000"/>
<circle cx="1301.3" cy="920.4" r="5.5" fill="#000"/>
<circle cx="1347.8" cy="930.9" r="5.5" fill="#000"/>
<circle cx="1143.7" cy="941.3" r="5.5" fill="#000"/>
<circle cx="1167.8" cy="937.7" r="5.5" fill="#000"/>
<circle cx="1184.7" cy="940.4" r="5.5" fill="#000"/>
<circle cx="1187.1" cy="935.9" r="5.5" fill="#000"/>
<circle cx="1211.5" cy="935.9" r="5.5" fill="#000"/>
<circle cx="1228.4" cy="944.1" r="5.5" fill="#000"/>
<circle cx="1238.5" cy="940.4" r="5.5" fill="#000"/>
<circle cx="1245.7" cy="941.3" r="5.5" fill="#000"/>
<circle cx="1240.3" cy="953.2" r="5.5" fill="#000"/>
<circle cx="1241.2" cy="961.7" r="5.5" fill="#000"/>
<circle cx="1305.5" cy="957.4" r="5.5" fill="#000"/>
<circle cx="1069.1" cy="996.4" r="5.5" fill="#000"/>
<circle cx="1161.7" cy="975.5" r="5.5" fill="#000"/>
<circle cx="1156.2" cy="989.7" r="5.5" fill="#000"/>
<circle cx="1215.2" cy="991.3" r="5.5" fill="#000"/>
<circle cx="1215.2" cy="998.3" r="5.5" fill="#000"/>
<circle cx="1201.2" cy="1005.2" r="5.5" fill="#000"/>
<circle cx="1239.4" cy="991.3" r="5.5" fill="#000"/>
<circle cx="1246.2" cy="989.5" r="5.5" fill="#000"/>
<circle cx="1256.8" cy="1005.2" r="5.5" fill="#000"/>
<circle cx="1240.7" cy="1047.8" r="5.5" fill="#000"/>
<circle cx="1297.7" cy="1047.8" r="5.5" fill="#000"/>
<circle cx="1310.0" cy="1044.2" r="5.5" fill="#000"/>
<circle cx="1245.5" cy="1106.7" r="5.5" fill="#000"/>
<circle cx="1437.5" cy="974.1" r="5.5" fill="#000"/>
<circle cx="1158.3" cy="752.2" r="5.5" fill="#fb1c12"/>
<circle cx="1214.8" cy="766.1" r="5.5" fill="#fb1c12"/>
<circle cx="1210.6" cy="791.9" r="5.5" fill="#fb1c12"/>
<circle cx="1187.4" cy="800.1" r="5.5" fill="#fb1c12"/>
<circle cx="1214.8" cy="803.8" r="5.5" fill="#fb1c12"/>
<circle cx="1222.4" cy="802.5" r="5.5" fill="#fb1c12"/>
<circle cx="1234.3" cy="806.2" r="5.5" fill="#fb1c12"/>
<circle cx="1146.5" cy="812.9" r="5.5" fill="#fb1c12"/>
<circle cx="1220.8" cy="838.4" r="5.5" fill="#fb1c12"/>
<circle cx="1187.1" cy="849.9" r="5.5" fill="#fb1c12"/>
<circle cx="1193.3" cy="851.7" r="5.5" fill="#fb1c12"/>
<circle cx="1203.5" cy="848.1" r="5.5" fill="#fb1c12"/>
<circle cx="1207.5" cy="847.5" r="5.5" fill="#fb1c12"/>
<circle cx="1237.9" cy="848.1" r="5.5" fill="#fb1c12"/>
<circle cx="1221.2" cy="855.7" r="5.5" fill="#fb1c12"/>
<circle cx="1290.4" cy="846.2" r="5.5" fill="#fb1c12"/>
<circle cx="1257.6" cy="858.4" r="5.5" fill="#fb1c12"/>
<circle cx="1230.3" cy="865.2" r="5.5" fill="#fb1c12"/>
<circle cx="1202.0" cy="869.9" r="5.5" fill="#fb1c12"/>
<circle cx="1212.6" cy="867.5" r="5.5" fill="#fb1c12"/>
<circle cx="1241.2" cy="877.2" r="5.5" fill="#fb1c12"/>
<circle cx="1261.2" cy="875.4" r="5.5" fill="#fb1c12"/>
<circle cx="1311.3" cy="872.1" r="5.5" fill="#fb1c12"/>
<circle cx="1243.9" cy="883.0" r="5.5" fill="#fb1c12"/>
<circle cx="1244.8" cy="888.5" r="5.5" fill="#fb1c12"/>
<circle cx="1183.8" cy="886.3" r="5.5" fill="#fb1c12"/>
<circle cx="1270.3" cy="887.6" r="5.5" fill="#fb1c12"/>
<circle cx="1232.1" cy="897.6" r="5.5" fill="#fb1c12"/>
<circle cx="1242.1" cy="894.9" r="5.5" fill="#fb1c12"/>
<circle cx="1171.1" cy="899.8" r="5.5" fill="#fb1c12"/>
<circle cx="1176.5" cy="900.3" r="5.5" fill="#fb1c12"/>
<circle cx="1257.6" cy="905.3" r="5.5" fill="#fb1c12"/>
<circle cx="1156.1" cy="911.8" r="5.5" fill="#fb1c12"/>
<circle cx="1194.4" cy="909.4" r="5.5" fill="#fb1c12"/>
<circle cx="1231.2" cy="914.9" r="5.5" fill="#fb1c12"/>
<circle cx="1180.2" cy="920.4" r="5.5" fill="#fb1c12"/>
<circle cx="1302.6" cy="919.5" r="5.5" fill="#fb1c12"/>
<circle cx="1224.4" cy="924.6" r="5.5" fill="#fb1c12"/>
<circle cx="1161.9" cy="932.2" r="5.5" fill="#fb1c12"/>
<circle cx="1198.4" cy="940.4" r="5.5" fill="#fb1c12"/>
<circle cx="1204.8" cy="935.9" r="5.5" fill="#fb1c12"/>
<circle cx="1209.3" cy="938.6" r="5.5" fill="#fb1c12"/>
<circle cx="1224.8" cy="944.1" r="5.5" fill="#fb1c12"/>
<circle cx="1276.7" cy="941.7" r="5.5" fill="#fb1c12"/>
<circle cx="1217.5" cy="953.7" r="5.5" fill="#fb1c12"/>
<circle cx="1273.5" cy="997.9" r="5.5" fill="#fb1c12"/>
<circle cx="1262.2" cy="1005.2" r="5.5" fill="#fb1c12"/>
<circle cx="1303.2" cy="1012.8" r="5.5" fill="#fb1c12"/>
<circle cx="1185.7" cy="1065.3" r="5.5" fill="#fb1c12"/>
<circle cx="1411.8" cy="1016.7" r="5.5" fill="#fb1c12"/>
<g transform="translate(884.00,1276.90) scale(1,1.04)"><text x="0" y="0" font-size="52" font-weight="bold" text-anchor="start"  >c</text></g>
<g transform="translate(913.50,1276.90) scale(1,1.04)"><text x="0" y="0" font-size="52" font-weight="bold" text-anchor="start"  >2</text></g>
<line x1="1228.5" y1="1307.2" x2="1228.5" y2="1758.3" stroke="#000" stroke-width="2" stroke-dasharray="2,4.7"/>
<line x1="1003.5" y1="1577.82" x2="1455.2" y2="1577.82" stroke="#000" stroke-width="2" stroke-dasharray="2,4.7"/>
<line x1="1003.50" y1="1307.20" x2="1003.50" y2="1759.20" stroke="#000" stroke-width="1.8" />
<line x1="1002.60" y1="1758.30" x2="1455.20" y2="1758.30" stroke="#000" stroke-width="1.8" />
<line x1="1001.00" y1="1313.40" x2="1003.50" y2="1313.40" stroke="#000" stroke-width="1.4" />
<g transform="translate(998.50,1322.30) scale(1,1.04)"><text x="0" y="0" font-size="25" font-weight="normal" text-anchor="end"  > e+08</text><path d="M763,0 L583,0 L583,1097.6 Q518,1038.3 465,1008.6 Q412,978.9 359,949.3 Q306,919.6 222,889.9 L222,1056.4 Q373,1124.3 429.5,1172.6 Q486,1220.9 542.5,1269.2 Q599,1317.6 646,1409 L763,1409 Z" transform="translate(-70.21,0.00) scale(0.01221,-0.01221)" fill="#000"/></g>
<line x1="1001.00" y1="1357.47" x2="1003.50" y2="1357.47" stroke="#000" stroke-width="1.4" />
<g transform="translate(998.50,1366.37) scale(1,1.04)"><text x="0" y="0" font-size="25" font-weight="normal" text-anchor="end"  > e+07</text><path d="M763,0 L583,0 L583,1097.6 Q518,1038.3 465,1008.6 Q412,978.9 359,949.3 Q306,919.6 222,889.9 L222,1056.4 Q373,1124.3 429.5,1172.6 Q486,1220.9 542.5,1269.2 Q599,1317.6 646,1409 L763,1409 Z" transform="translate(-70.21,0.00) scale(0.01221,-0.01221)" fill="#000"/></g>
<line x1="1001.00" y1="1401.54" x2="1003.50" y2="1401.54" stroke="#000" stroke-width="1.4" />
<g transform="translate(998.50,1410.44) scale(1,1.04)"><text x="0" y="0" font-size="25" font-weight="normal" text-anchor="end"  > e+06</text><path d="M763,0 L583,0 L583,1097.6 Q518,1038.3 465,1008.6 Q412,978.9 359,949.3 Q306,919.6 222,889.9 L222,1056.4 Q373,1124.3 429.5,1172.6 Q486,1220.9 542.5,1269.2 Q599,1317.6 646,1409 L763,1409 Z" transform="translate(-70.21,0.00) scale(0.01221,-0.01221)" fill="#000"/></g>
<line x1="1001.00" y1="1445.61" x2="1003.50" y2="1445.61" stroke="#000" stroke-width="1.4" />
<g transform="translate(998.50,1454.51) scale(1,1.04)"><text x="0" y="0" font-size="25" font-weight="normal" text-anchor="end"  > e+05</text><path d="M763,0 L583,0 L583,1097.6 Q518,1038.3 465,1008.6 Q412,978.9 359,949.3 Q306,919.6 222,889.9 L222,1056.4 Q373,1124.3 429.5,1172.6 Q486,1220.9 542.5,1269.2 Q599,1317.6 646,1409 L763,1409 Z" transform="translate(-70.21,0.00) scale(0.01221,-0.01221)" fill="#000"/></g>
<line x1="1001.00" y1="1489.68" x2="1003.50" y2="1489.68" stroke="#000" stroke-width="1.4" />
<g transform="translate(998.50,1498.58) scale(1,1.04)"><text x="0" y="0" font-size="25" font-weight="normal" text-anchor="end"  > e+04</text><path d="M763,0 L583,0 L583,1097.6 Q518,1038.3 465,1008.6 Q412,978.9 359,949.3 Q306,919.6 222,889.9 L222,1056.4 Q373,1124.3 429.5,1172.6 Q486,1220.9 542.5,1269.2 Q599,1317.6 646,1409 L763,1409 Z" transform="translate(-70.21,0.00) scale(0.01221,-0.01221)" fill="#000"/></g>
<line x1="1001.00" y1="1533.75" x2="1003.50" y2="1533.75" stroke="#000" stroke-width="1.4" />
<g transform="translate(998.50,1542.65) scale(1,1.04)"><text x="0" y="0" font-size="25" font-weight="normal" text-anchor="end"  > e+03</text><path d="M763,0 L583,0 L583,1097.6 Q518,1038.3 465,1008.6 Q412,978.9 359,949.3 Q306,919.6 222,889.9 L222,1056.4 Q373,1124.3 429.5,1172.6 Q486,1220.9 542.5,1269.2 Q599,1317.6 646,1409 L763,1409 Z" transform="translate(-70.21,0.00) scale(0.01221,-0.01221)" fill="#000"/></g>
<line x1="1001.00" y1="1577.82" x2="1003.50" y2="1577.82" stroke="#000" stroke-width="1.4" />
<g transform="translate(998.50,1586.72) scale(1,1.04)"><text x="0" y="0" font-size="25" font-weight="normal" text-anchor="end"  > e+02</text><path d="M763,0 L583,0 L583,1097.6 Q518,1038.3 465,1008.6 Q412,978.9 359,949.3 Q306,919.6 222,889.9 L222,1056.4 Q373,1124.3 429.5,1172.6 Q486,1220.9 542.5,1269.2 Q599,1317.6 646,1409 L763,1409 Z" transform="translate(-70.21,0.00) scale(0.01221,-0.01221)" fill="#000"/></g>
<line x1="1001.00" y1="1621.89" x2="1003.50" y2="1621.89" stroke="#000" stroke-width="1.4" />
<g transform="translate(998.50,1630.79) scale(1,1.04)"><text x="0" y="0" font-size="25" font-weight="normal" text-anchor="end"  > e+0 </text><path d="M763,0 L583,0 L583,1097.6 Q518,1038.3 465,1008.6 Q412,978.9 359,949.3 Q306,919.6 222,889.9 L222,1056.4 Q373,1124.3 429.5,1172.6 Q486,1220.9 542.5,1269.2 Q599,1317.6 646,1409 L763,1409 Z" transform="translate(-70.21,0.00) scale(0.01221,-0.01221)" fill="#000"/><path d="M763,0 L583,0 L583,1097.6 Q518,1038.3 465,1008.6 Q412,978.9 359,949.3 Q306,919.6 222,889.9 L222,1056.4 Q373,1124.3 429.5,1172.6 Q486,1220.9 542.5,1269.2 Q599,1317.6 646,1409 L763,1409 Z" transform="translate(-13.92,0.00) scale(0.01221,-0.01221)" fill="#000"/></g>
<line x1="1001.00" y1="1665.96" x2="1003.50" y2="1665.96" stroke="#000" stroke-width="1.4" />
<g transform="translate(998.50,1674.86) scale(1,1.04)"><text x="0" y="0" font-size="25" font-weight="normal" text-anchor="end"  > e+00</text><path d="M763,0 L583,0 L583,1097.6 Q518,1038.3 465,1008.6 Q412,978.9 359,949.3 Q306,919.6 222,889.9 L222,1056.4 Q373,1124.3 429.5,1172.6 Q486,1220.9 542.5,1269.2 Q599,1317.6 646,1409 L763,1409 Z" transform="translate(-70.21,0.00) scale(0.01221,-0.01221)" fill="#000"/></g>
<line x1="1001.00" y1="1710.03" x2="1003.50" y2="1710.03" stroke="#000" stroke-width="1.4" />
<g transform="translate(998.50,1718.93) scale(1,1.04)"><text x="0" y="0" font-size="25" font-weight="normal" text-anchor="end"  > e-0 </text><path d="M763,0 L583,0 L583,1097.6 Q518,1038.3 465,1008.6 Q412,978.9 359,949.3 Q306,919.6 222,889.9 L222,1056.4 Q373,1124.3 429.5,1172.6 Q486,1220.9 542.5,1269.2 Q599,1317.6 646,1409 L763,1409 Z" transform="translate(-63.94,0.00) scale(0.01221,-0.01221)" fill="#000"/><path d="M763,0 L583,0 L583,1097.6 Q518,1038.3 465,1008.6 Q412,978.9 359,949.3 Q306,919.6 222,889.9 L222,1056.4 Q373,1124.3 429.5,1172.6 Q486,1220.9 542.5,1269.2 Q599,1317.6 646,1409 L763,1409 Z" transform="translate(-13.92,0.00) scale(0.01221,-0.01221)" fill="#000"/></g>
<line x1="1001.00" y1="1754.10" x2="1003.50" y2="1754.10" stroke="#000" stroke-width="1.4" />
<g transform="translate(998.50,1763.00) scale(1,1.04)"><text x="0" y="0" font-size="25" font-weight="normal" text-anchor="end"  > e-02</text><path d="M763,0 L583,0 L583,1097.6 Q518,1038.3 465,1008.6 Q412,978.9 359,949.3 Q306,919.6 222,889.9 L222,1056.4 Q373,1124.3 429.5,1172.6 Q486,1220.9 542.5,1269.2 Q599,1317.6 646,1409 L763,1409 Z" transform="translate(-63.94,0.00) scale(0.01221,-0.01221)" fill="#000"/></g>
<line x1="1091.70" y1="1758.30" x2="1091.70" y2="1760.80" stroke="#000" stroke-width="1.4" />
<g transform="translate(1091.70,1780.90) scale(1,1.04)"><text x="0" y="0" font-size="25" font-weight="normal" text-anchor="middle"  >- 000</text><path d="M763,0 L583,0 L583,1097.6 Q518,1038.3 465,1008.6 Q412,978.9 359,949.3 Q306,919.6 222,889.9 L222,1056.4 Q373,1124.3 429.5,1172.6 Q486,1220.9 542.5,1269.2 Q599,1317.6 646,1409 L763,1409 Z" transform="translate(-23.66,0.00) scale(0.01221,-0.01221)" fill="#000"/></g>
<line x1="1228.50" y1="1758.30" x2="1228.50" y2="1760.80" stroke="#000" stroke-width="1.4" />
<g transform="translate(1228.50,1780.90) scale(1,1.04)"><text x="0" y="0" font-size="25" font-weight="normal" text-anchor="middle"  >0</text></g>
<line x1="1365.30" y1="1758.30" x2="1365.30" y2="1760.80" stroke="#000" stroke-width="1.4" />
<g transform="translate(1365.30,1780.90) scale(1,1.04)"><text x="0" y="0" font-size="25" font-weight="normal" text-anchor="middle"  > 000</text><path d="M763,0 L583,0 L583,1097.6 Q518,1038.3 465,1008.6 Q412,978.9 359,949.3 Q306,919.6 222,889.9 L222,1056.4 Q373,1124.3 429.5,1172.6 Q486,1220.9 542.5,1269.2 Q599,1317.6 646,1409 L763,1409 Z" transform="translate(-27.81,0.00) scale(0.01221,-0.01221)" fill="#000"/></g>
<text x="0" y="0" font-size="27.7" font-weight="bold" text-anchor="start" transform="translate(907.8,1574.3) rotate(-90) scale(1,1.04)">RSV&#160;<tspan dx="4.5">(2</tspan><tspan font-size="21" dx="-3" dy="-10.6" letter-spacing="-0.6">ΔCt</tspan><tspan dy="10.6" dx="0.6">)</tspan></text>
<g transform="translate(1221.00,1826.80) scale(1,1.04)"><text x="0" y="0" font-size="27.9" font-weight="bold" text-anchor="middle"  >Δ TNF-α (pg/mL) day 3 vs day 0</text></g>
<g transform="translate(1088.7,1282.5) scale(1.0) translate(-1088.7,-1282.5)">
<g transform="translate(1088.70,1291.20) scale(1,1.04)"><text x="0" y="0" font-size="24.5" font-weight="normal" text-anchor="start"  >Group</text></g>
<line x1="1164.20" y1="1282.50" x2="1181.00" y2="1282.50" stroke="#000" stroke-width="1.6" />
<circle cx="1172.6000000000001" cy="1282.5" r="5.6" fill="#000"/>
<g transform="translate(1190.20,1291.20) scale(1,1.04)"><text x="0" y="0" font-size="24.5" font-weight="normal" text-anchor="start"  >Control</text></g>
<line x1="1274.30" y1="1282.50" x2="1292.10" y2="1282.50" stroke="#fb1c12" stroke-width="1.6" />
<circle cx="1283.3" cy="1282.5" r="5.6" fill="#fb1c12"/>
<g transform="translate(1299.70,1291.20) scale(1,1.04)"><text x="0" y="0" font-size="24.5" font-weight="normal" text-anchor="start"  >Navax</text></g>
</g>
<g transform="translate(1252.90,1376.40) scale(1,1.04)"><text x="0" y="0" font-size="30.4" font-weight="normal" text-anchor="start"  ><tspan font-style="italic">p</tspan> = 0.0 </text><path d="M763,0 L583,0 L583,1097.6 Q518,1038.3 465,1008.6 Q412,978.9 359,949.3 Q306,919.6 222,889.9 L222,1056.4 Q373,1124.3 429.5,1172.6 Q486,1220.9 542.5,1269.2 Q599,1317.6 646,1409 L763,1409 Z" transform="translate(93.78,0.00) scale(0.01484,-0.01484)" fill="#000"/></g>
<ellipse cx="1223" cy="1555.8" rx="21.9" ry="110.4" transform="rotate(0 1223 1555.8)" fill="none" stroke="#000" stroke-width="1.6"/>
<ellipse cx="1222.6" cy="1515" rx="19.8" ry="105.6" transform="rotate(0 1222.6 1515)" fill="none" stroke="#e8141c" stroke-width="1.6"/>
<circle cx="1204.0" cy="1467.6" r="5.5" fill="#000"/>
<circle cx="1232.8" cy="1464.0" r="5.5" fill="#000"/>
<circle cx="1225.0" cy="1480.8" r="5.5" fill="#000"/>
<circle cx="1228.0" cy="1507.2" r="5.5" fill="#000"/>
<circle cx="1216.0" cy="1526.4" r="5.5" fill="#000"/>
<circle cx="1233.4" cy="1532.4" r="5.5" fill="#000"/>
<circle cx="1229.2" cy="1537.2" r="5.5" fill="#000"/>
<circle cx="1229.2" cy="1546.8" r="5.5" fill="#000"/>
<circle cx="1210.0" cy="1554.0" r="5.5" fill="#000"/>
<circle cx="1235.8" cy="1557.6" r="5.5" fill="#000"/>
<circle cx="1190.8" cy="1560.0" r="5.5" fill="#000"/>
<circle cx="1224.4" cy="1572.0" r="5.5" fill="#000"/>
<circle cx="1213.0" cy="1576.2" r="5.5" fill="#000"/>
<circle cx="1227.4" cy="1580.4" r="5.5" fill="#000"/>
<circle cx="1209.4" cy="1593.0" r="5.5" fill="#000"/>
<circle cx="1228.0" cy="1592.4" r="5.5" fill="#000"/>
<circle cx="1222.6" cy="1608.0" r="5.5" fill="#000"/>
<circle cx="1226.2" cy="1611.6" r="5.5" fill="#000"/>
<circle cx="1201.0" cy="1622.4" r="5.5" fill="#000"/>
<circle cx="1217.8" cy="1623.0" r="5.5" fill="#000"/>
<circle cx="1225.0" cy="1667.4" r="5.5" fill="#000"/>
<circle cx="1154.6" cy="1470.0" r="5.5" fill="#000"/>
<circle cx="1228.4" cy="1411.8" r="5.5" fill="#fb1c12"/>
<circle cx="1209.0" cy="1458.0" r="5.5" fill="#fb1c12"/>
<circle cx="1227.4" cy="1465.8" r="5.5" fill="#fb1c12"/>
<circle cx="1225.0" cy="1469.4" r="5.5" fill="#fb1c12"/>
<circle cx="1225.0" cy="1474.8" r="5.5" fill="#fb1c12"/>
<circle cx="1215.6" cy="1486.8" r="5.5" fill="#fb1c12"/>
<circle cx="1230.4" cy="1491.0" r="5.5" fill="#fb1c12"/>
<circle cx="1227.4" cy="1495.2" r="5.5" fill="#fb1c12"/>
<circle cx="1213.8" cy="1506.0" r="5.5" fill="#fb1c12"/>
<circle cx="1220.8" cy="1510.8" r="5.5" fill="#fb1c12"/>
<circle cx="1217.2" cy="1516.8" r="5.5" fill="#fb1c12"/>
<circle cx="1225.0" cy="1520.4" r="5.5" fill="#fb1c12"/>
<circle cx="1220.8" cy="1524.0" r="5.5" fill="#fb1c12"/>
<circle cx="1228.0" cy="1528.8" r="5.5" fill="#fb1c12"/>
<circle cx="1199.2" cy="1530.6" r="5.5" fill="#fb1c12"/>
<circle cx="1220.8" cy="1539.0" r="5.5" fill="#fb1c12"/>
<circle cx="1223.2" cy="1544.4" r="5.5" fill="#fb1c12"/>
<circle cx="1218.4" cy="1551.6" r="5.5" fill="#fb1c12"/>
<circle cx="1217.2" cy="1558.8" r="5.5" fill="#fb1c12"/>
<circle cx="1225.0" cy="1557.0" r="5.5" fill="#fb1c12"/>
<circle cx="1223.2" cy="1562.4" r="5.5" fill="#fb1c12"/>
<circle cx="1228.0" cy="1616.4" r="5.5" fill="#fb1c12"/>
<circle cx="1235.0" cy="1630.8" r="5.5" fill="#fb1c12"/>
<circle cx="1048.9" cy="1433.1" r="5.5" fill="#fb1c12"/>
<circle cx="1085.4" cy="1425.9" r="5.5" fill="#fb1c12"/>
<circle cx="1224.3" cy="1373.5" r="5.5" fill="#fb1c12"/>
<g transform="translate(885.00,1905.20) scale(1,1.04)"><text x="0" y="0" font-size="52" font-weight="bold" text-anchor="start"  >d</text></g>
<g transform="translate(917.50,1905.20) scale(1,1.04)"><text x="0" y="0" font-size="52" font-weight="bold" text-anchor="start"  >2</text></g>
<line x1="1239.8" y1="1955.5" x2="1239.8" y2="2409.7" stroke="#000" stroke-width="2" stroke-dasharray="2,4.7"/>
<line x1="1011.9" y1="2227.9" x2="1467.3" y2="2227.9" stroke="#000" stroke-width="2" stroke-dasharray="2,4.7"/>
<line x1="1011.90" y1="1955.50" x2="1011.90" y2="2410.60" stroke="#000" stroke-width="1.8" />
<line x1="1011.00" y1="2409.70" x2="1467.30" y2="2409.70" stroke="#000" stroke-width="1.8" />
<line x1="1009.40" y1="1959.70" x2="1011.90" y2="1959.70" stroke="#000" stroke-width="1.4" />
<g transform="translate(1006.90,1968.60) scale(1,1.04)"><text x="0" y="0" font-size="25" font-weight="normal" text-anchor="end"  > e+08</text><path d="M763,0 L583,0 L583,1097.6 Q518,1038.3 465,1008.6 Q412,978.9 359,949.3 Q306,919.6 222,889.9 L222,1056.4 Q373,1124.3 429.5,1172.6 Q486,1220.9 542.5,1269.2 Q599,1317.6 646,1409 L763,1409 Z" transform="translate(-70.21,0.00) scale(0.01221,-0.01221)" fill="#000"/></g>
<line x1="1009.40" y1="2004.40" x2="1011.90" y2="2004.40" stroke="#000" stroke-width="1.4" />
<g transform="translate(1006.90,2013.30) scale(1,1.04)"><text x="0" y="0" font-size="25" font-weight="normal" text-anchor="end"  > e+07</text><path d="M763,0 L583,0 L583,1097.6 Q518,1038.3 465,1008.6 Q412,978.9 359,949.3 Q306,919.6 222,889.9 L222,1056.4 Q373,1124.3 429.5,1172.6 Q486,1220.9 542.5,1269.2 Q599,1317.6 646,1409 L763,1409 Z" transform="translate(-70.21,0.00) scale(0.01221,-0.01221)" fill="#000"/></g>
<line x1="1009.40" y1="2049.10" x2="1011.90" y2="2049.10" stroke="#000" stroke-width="1.4" />
<g transform="translate(1006.90,2058.00) scale(1,1.04)"><text x="0" y="0" font-size="25" font-weight="normal" text-anchor="end"  > e+06</text><path d="M763,0 L583,0 L583,1097.6 Q518,1038.3 465,1008.6 Q412,978.9 359,949.3 Q306,919.6 222,889.9 L222,1056.4 Q373,1124.3 429.5,1172.6 Q486,1220.9 542.5,1269.2 Q599,1317.6 646,1409 L763,1409 Z" transform="translate(-70.21,0.00) scale(0.01221,-0.01221)" fill="#000"/></g>
<line x1="1009.40" y1="2093.80" x2="1011.90" y2="2093.80" stroke="#000" stroke-width="1.4" />
<g transform="translate(1006.90,2102.70) scale(1,1.04)"><text x="0" y="0" font-size="25" font-weight="normal" text-anchor="end"  > e+05</text><path d="M763,0 L583,0 L583,1097.6 Q518,1038.3 465,1008.6 Q412,978.9 359,949.3 Q306,919.6 222,889.9 L222,1056.4 Q373,1124.3 429.5,1172.6 Q486,1220.9 542.5,1269.2 Q599,1317.6 646,1409 L763,1409 Z" transform="translate(-70.21,0.00) scale(0.01221,-0.01221)" fill="#000"/></g>
<line x1="1009.40" y1="2138.50" x2="1011.90" y2="2138.50" stroke="#000" stroke-width="1.4" />
<g transform="translate(1006.90,2147.40) scale(1,1.04)"><text x="0" y="0" font-size="25" font-weight="normal" text-anchor="end"  > e+04</text><path d="M763,0 L583,0 L583,1097.6 Q518,1038.3 465,1008.6 Q412,978.9 359,949.3 Q306,919.6 222,889.9 L222,1056.4 Q373,1124.3 429.5,1172.6 Q486,1220.9 542.5,1269.2 Q599,1317.6 646,1409 L763,1409 Z" transform="translate(-70.21,0.00) scale(0.01221,-0.01221)" fill="#000"/></g>
<line x1="1009.40" y1="2183.20" x2="1011.90" y2="2183.20" stroke="#000" stroke-width="1.4" />
<g transform="translate(1006.90,2192.10) scale(1,1.04)"><text x="0" y="0" font-size="25" font-weight="normal" text-anchor="end"  > e+03</text><path d="M763,0 L583,0 L583,1097.6 Q518,1038.3 465,1008.6 Q412,978.9 359,949.3 Q306,919.6 222,889.9 L222,1056.4 Q373,1124.3 429.5,1172.6 Q486,1220.9 542.5,1269.2 Q599,1317.6 646,1409 L763,1409 Z" transform="translate(-70.21,0.00) scale(0.01221,-0.01221)" fill="#000"/></g>
<line x1="1009.40" y1="2227.90" x2="1011.90" y2="2227.90" stroke="#000" stroke-width="1.4" />
<g transform="translate(1006.90,2236.80) scale(1,1.04)"><text x="0" y="0" font-size="25" font-weight="normal" text-anchor="end"  > e+02</text><path d="M763,0 L583,0 L583,1097.6 Q518,1038.3 465,1008.6 Q412,978.9 359,949.3 Q306,919.6 222,889.9 L222,1056.4 Q373,1124.3 429.5,1172.6 Q486,1220.9 542.5,1269.2 Q599,1317.6 646,1409 L763,1409 Z" transform="translate(-70.21,0.00) scale(0.01221,-0.01221)" fill="#000"/></g>
<line x1="1009.40" y1="2272.60" x2="1011.90" y2="2272.60" stroke="#000" stroke-width="1.4" />
<g transform="translate(1006.90,2281.50) scale(1,1.04)"><text x="0" y="0" font-size="25" font-weight="normal" text-anchor="end"  > e+0 </text><path d="M763,0 L583,0 L583,1097.6 Q518,1038.3 465,1008.6 Q412,978.9 359,949.3 Q306,919.6 222,889.9 L222,1056.4 Q373,1124.3 429.5,1172.6 Q486,1220.9 542.5,1269.2 Q599,1317.6 646,1409 L763,1409 Z" transform="translate(-70.21,0.00) scale(0.01221,-0.01221)" fill="#000"/><path d="M763,0 L583,0 L583,1097.6 Q518,1038.3 465,1008.6 Q412,978.9 359,949.3 Q306,919.6 222,889.9 L222,1056.4 Q373,1124.3 429.5,1172.6 Q486,1220.9 542.5,1269.2 Q599,1317.6 646,1409 L763,1409 Z" transform="translate(-13.92,0.00) scale(0.01221,-0.01221)" fill="#000"/></g>
<line x1="1009.40" y1="2317.30" x2="1011.90" y2="2317.30" stroke="#000" stroke-width="1.4" />
<g transform="translate(1006.90,2326.20) scale(1,1.04)"><text x="0" y="0" font-size="25" font-weight="normal" text-anchor="end"  > e+00</text><path d="M763,0 L583,0 L583,1097.6 Q518,1038.3 465,1008.6 Q412,978.9 359,949.3 Q306,919.6 222,889.9 L222,1056.4 Q373,1124.3 429.5,1172.6 Q486,1220.9 542.5,1269.2 Q599,1317.6 646,1409 L763,1409 Z" transform="translate(-70.21,0.00) scale(0.01221,-0.01221)" fill="#000"/></g>
<line x1="1009.40" y1="2362.00" x2="1011.90" y2="2362.00" stroke="#000" stroke-width="1.4" />
<g transform="translate(1006.90,2370.90) scale(1,1.04)"><text x="0" y="0" font-size="25" font-weight="normal" text-anchor="end"  > e-0 </text><path d="M763,0 L583,0 L583,1097.6 Q518,1038.3 465,1008.6 Q412,978.9 359,949.3 Q306,919.6 222,889.9 L222,1056.4 Q373,1124.3 429.5,1172.6 Q486,1220.9 542.5,1269.2 Q599,1317.6 646,1409 L763,1409 Z" transform="translate(-63.94,0.00) scale(0.01221,-0.01221)" fill="#000"/><path d="M763,0 L583,0 L583,1097.6 Q518,1038.3 465,1008.6 Q412,978.9 359,949.3 Q306,919.6 222,889.9 L222,1056.4 Q373,1124.3 429.5,1172.6 Q486,1220.9 542.5,1269.2 Q599,1317.6 646,1409 L763,1409 Z" transform="translate(-13.92,0.00) scale(0.01221,-0.01221)" fill="#000"/></g>
<line x1="1009.40" y1="2406.70" x2="1011.90" y2="2406.70" stroke="#000" stroke-width="1.4" />
<g transform="translate(1006.90,2415.60) scale(1,1.04)"><text x="0" y="0" font-size="25" font-weight="normal" text-anchor="end"  > e-02</text><path d="M763,0 L583,0 L583,1097.6 Q518,1038.3 465,1008.6 Q412,978.9 359,949.3 Q306,919.6 222,889.9 L222,1056.4 Q373,1124.3 429.5,1172.6 Q486,1220.9 542.5,1269.2 Q599,1317.6 646,1409 L763,1409 Z" transform="translate(-63.94,0.00) scale(0.01221,-0.01221)" fill="#000"/></g>
<line x1="1033.10" y1="2409.70" x2="1033.10" y2="2412.20" stroke="#000" stroke-width="1.4" />
<g transform="translate(1033.10,2432.30) scale(1,1.04)"><text x="0" y="0" font-size="25" font-weight="normal" text-anchor="middle"  >-40</text></g>
<line x1="1136.45" y1="2409.70" x2="1136.45" y2="2412.20" stroke="#000" stroke-width="1.4" />
<g transform="translate(1136.45,2432.30) scale(1,1.04)"><text x="0" y="0" font-size="25" font-weight="normal" text-anchor="middle"  >-20</text></g>
<line x1="1239.80" y1="2409.70" x2="1239.80" y2="2412.20" stroke="#000" stroke-width="1.4" />
<g transform="translate(1239.80,2432.30) scale(1,1.04)"><text x="0" y="0" font-size="25" font-weight="normal" text-anchor="middle"  >0</text></g>
<line x1="1343.15" y1="2409.70" x2="1343.15" y2="2412.20" stroke="#000" stroke-width="1.4" />
<g transform="translate(1343.15,2432.30) scale(1,1.04)"><text x="0" y="0" font-size="25" font-weight="normal" text-anchor="middle"  >20</text></g>
<line x1="1446.50" y1="2409.70" x2="1446.50" y2="2412.20" stroke="#000" stroke-width="1.4" />
<g transform="translate(1446.50,2432.30) scale(1,1.04)"><text x="0" y="0" font-size="25" font-weight="normal" text-anchor="middle"  >40</text></g>
<text x="0" y="0" font-size="27.7" font-weight="bold" text-anchor="start" transform="translate(904.7,2200.6) rotate(-90) scale(1,1.04)">RSV&#160;<tspan dx="4.5">(2</tspan><tspan font-size="21" dx="-3" dy="-10.6" letter-spacing="-0.6">ΔCt</tspan><tspan dy="10.6" dx="0.6">)</tspan></text>
<g transform="translate(1221.00,2490.70) scale(1,1.04)"><text x="0" y="0" font-size="27.9" font-weight="bold" text-anchor="middle"  >Δ IgA (μg/mL) day 3 vs day 0</text></g>
<g transform="translate(1098.8,1929.8) scale(1.009) translate(-1098.8,-1929.8)">
<g transform="translate(1098.80,1938.50) scale(1,1.04)"><text x="0" y="0" font-size="24.5" font-weight="normal" text-anchor="start"  >Group</text></g>
<line x1="1174.30" y1="1929.80" x2="1191.10" y2="1929.80" stroke="#000" stroke-width="1.6" />
<circle cx="1182.7" cy="1929.8" r="5.6" fill="#000"/>
<g transform="translate(1200.30,1938.50) scale(1,1.04)"><text x="0" y="0" font-size="24.5" font-weight="normal" text-anchor="start"  >Control</text></g>
<line x1="1284.40" y1="1929.80" x2="1302.20" y2="1929.80" stroke="#fb1c12" stroke-width="1.6" />
<circle cx="1293.3999999999999" cy="1929.8" r="5.6" fill="#fb1c12"/>
<g transform="translate(1309.80,1938.50) scale(1,1.04)"><text x="0" y="0" font-size="24.5" font-weight="normal" text-anchor="start"  >Navax</text></g>
</g>
<g transform="translate(1258.40,1969.00) scale(1,1.04)"><text x="0" y="0" font-size="30.4" font-weight="normal" text-anchor="start"  ><tspan font-style="italic">p</tspan> = 0.005</text></g>
<ellipse cx="1247.6" cy="2211.1" rx="109.6" ry="134.3" transform="rotate(144.4 1247.6 2211.1)" fill="none" stroke="#000" stroke-width="1.6"/>
<ellipse cx="1252.3" cy="2152.8" rx="76.5" ry="138.4" transform="rotate(159.5 1252.3 2152.8)" fill="none" stroke="#e8141c" stroke-width="1.6"/>
<circle cx="1125.1" cy="2116.7" r="5.5" fill="#000"/>
<circle cx="1192.5" cy="2118.8" r="5.5" fill="#000"/>
<circle cx="1334.2" cy="2112.8" r="5.5" fill="#000"/>
<circle cx="1256.1" cy="2129.8" r="5.5" fill="#000"/>
<circle cx="1307.0" cy="2145.6" r="5.5" fill="#000"/>
<circle cx="1212.3" cy="2153.9" r="5.5" fill="#000"/>
<circle cx="1234.2" cy="2154.7" r="5.5" fill="#000"/>
<circle cx="1279.8" cy="2157.0" r="5.5" fill="#000"/>
<circle cx="1223.7" cy="2169.8" r="5.5" fill="#000"/>
<circle cx="1262.8" cy="2166.3" r="5.5" fill="#000"/>
<circle cx="1212.3" cy="2179.3" r="5.5" fill="#000"/>
<circle cx="1248.2" cy="2181.6" r="5.5" fill="#000"/>
<circle cx="1201.8" cy="2188.6" r="5.5" fill="#000"/>
<circle cx="1270.2" cy="2185.6" r="5.5" fill="#000"/>
<circle cx="1239.5" cy="2195.6" r="5.5" fill="#000"/>
<circle cx="1156.1" cy="2204.4" r="5.5" fill="#000"/>
<circle cx="1123.7" cy="2209.6" r="5.5" fill="#000"/>
<circle cx="1212.3" cy="2206.1" r="5.5" fill="#000"/>
<circle cx="1237.7" cy="2207.9" r="5.5" fill="#000"/>
<circle cx="1236.0" cy="2212.3" r="5.5" fill="#000"/>
<circle cx="1255.8" cy="2209.6" r="5.5" fill="#000"/>
<circle cx="1280.7" cy="2210.0" r="5.5" fill="#000"/>
<circle cx="1354.0" cy="2221.9" r="5.5" fill="#000"/>
<circle cx="1257.9" cy="2222.5" r="5.5" fill="#000"/>
<circle cx="1259.6" cy="2226.7" r="5.5" fill="#000"/>
<circle cx="1243.9" cy="2229.8" r="5.5" fill="#000"/>
<circle cx="1245.3" cy="2243.9" r="5.5" fill="#000"/>
<circle cx="1279.8" cy="2242.5" r="5.5" fill="#000"/>
<circle cx="1162.3" cy="2257.0" r="5.5" fill="#000"/>
<circle cx="1222.5" cy="2258.2" r="5.5" fill="#000"/>
<circle cx="1258.8" cy="2257.0" r="5.5" fill="#000"/>
<circle cx="1185.7" cy="2266.2" r="5.5" fill="#000"/>
<circle cx="1209.6" cy="2273.6" r="5.5" fill="#000"/>
<circle cx="1222.4" cy="2265.1" r="5.5" fill="#000"/>
<circle cx="1266.5" cy="2273.6" r="5.5" fill="#000"/>
<circle cx="1322.2" cy="2273.6" r="5.5" fill="#000"/>
<circle cx="1277.5" cy="2316.0" r="5.5" fill="#000"/>
<circle cx="1325.0" cy="2311.9" r="5.5" fill="#000"/>
<circle cx="1325.4" cy="2316.7" r="5.5" fill="#000"/>
<circle cx="1354.1" cy="2312.6" r="5.5" fill="#000"/>
<circle cx="1248.1" cy="2375.0" r="5.5" fill="#000"/>
<circle cx="1378.4" cy="2199.5" r="5.5" fill="#000"/>
<circle cx="1088.2" cy="2197.4" r="5.5" fill="#000"/>
<circle cx="1185.4" cy="2020.7" r="5.5" fill="#fb1c12"/>
<circle cx="1263.7" cy="2034.2" r="5.5" fill="#fb1c12"/>
<circle cx="1214.6" cy="2060.2" r="5.5" fill="#fb1c12"/>
<circle cx="1156.7" cy="2068.4" r="5.5" fill="#fb1c12"/>
<circle cx="1181.6" cy="2070.7" r="5.5" fill="#fb1c12"/>
<circle cx="1163.5" cy="2081.1" r="5.5" fill="#fb1c12"/>
<circle cx="1237.7" cy="2074.6" r="5.5" fill="#fb1c12"/>
<circle cx="1303.2" cy="2071.6" r="5.5" fill="#fb1c12"/>
<circle cx="1311.4" cy="2106.7" r="5.5" fill="#fb1c12"/>
<circle cx="1243.9" cy="2114.9" r="5.5" fill="#fb1c12"/>
<circle cx="1250.9" cy="2115.8" r="5.5" fill="#fb1c12"/>
<circle cx="1255.3" cy="2116.7" r="5.5" fill="#fb1c12"/>
<circle cx="1264.0" cy="2116.1" r="5.5" fill="#fb1c12"/>
<circle cx="1291.2" cy="2118.1" r="5.5" fill="#fb1c12"/>
<circle cx="1236.8" cy="2120.2" r="5.5" fill="#fb1c12"/>
<circle cx="1224.6" cy="2123.7" r="5.5" fill="#fb1c12"/>
<circle cx="1243.9" cy="2126.7" r="5.5" fill="#fb1c12"/>
<circle cx="1211.4" cy="2133.7" r="5.5" fill="#fb1c12"/>
<circle cx="1238.6" cy="2136.8" r="5.5" fill="#fb1c12"/>
<circle cx="1247.4" cy="2145.6" r="5.5" fill="#fb1c12"/>
<circle cx="1252.6" cy="2143.9" r="5.5" fill="#fb1c12"/>
<circle cx="1299.1" cy="2140.4" r="5.5" fill="#fb1c12"/>
<circle cx="1204.9" cy="2154.7" r="5.5" fill="#fb1c12"/>
<circle cx="1286.0" cy="2151.2" r="5.5" fill="#fb1c12"/>
<circle cx="1286.8" cy="2156.1" r="5.5" fill="#fb1c12"/>
<circle cx="1280.7" cy="2162.3" r="5.5" fill="#fb1c12"/>
<circle cx="1279.8" cy="2167.5" r="5.5" fill="#fb1c12"/>
<circle cx="1209.6" cy="2168.4" r="5.5" fill="#fb1c12"/>
<circle cx="1203.5" cy="2173.7" r="5.5" fill="#fb1c12"/>
<circle cx="1233.3" cy="2165.8" r="5.5" fill="#fb1c12"/>
<circle cx="1235.1" cy="2179.8" r="5.5" fill="#fb1c12"/>
<circle cx="1250.9" cy="2183.3" r="5.5" fill="#fb1c12"/>
<circle cx="1279.8" cy="2178.1" r="5.5" fill="#fb1c12"/>
<circle cx="1240.4" cy="2188.6" r="5.5" fill="#fb1c12"/>
<circle cx="1231.6" cy="2193.0" r="5.5" fill="#fb1c12"/>
<circle cx="1215.4" cy="2207.5" r="5.5" fill="#fb1c12"/>
<circle cx="1264.9" cy="2204.4" r="5.5" fill="#fb1c12"/>
<circle cx="1304.4" cy="2200.0" r="5.5" fill="#fb1c12"/>
<circle cx="1300.0" cy="2208.8" r="5.5" fill="#fb1c12"/>
<circle cx="1304.4" cy="2210.5" r="5.5" fill="#fb1c12"/>
<circle cx="1276.0" cy="2212.3" r="5.5" fill="#fb1c12"/>
<circle cx="1234.2" cy="2221.9" r="5.5" fill="#fb1c12"/>
<circle cx="1256.8" cy="2273.6" r="5.5" fill="#fb1c12"/>
<circle cx="1294.0" cy="2266.2" r="5.5" fill="#fb1c12"/>
<circle cx="1313.5" cy="2285.0" r="5.5" fill="#fb1c12"/>
<circle cx="1314.2" cy="2333.9" r="5.5" fill="#fb1c12"/>
</svg></body></html>
